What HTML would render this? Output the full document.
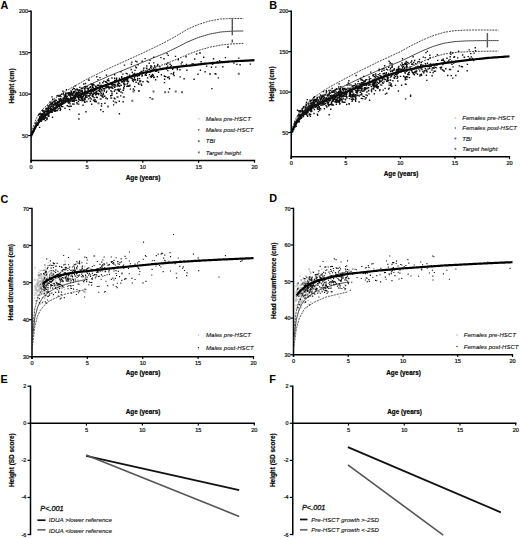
<!DOCTYPE html><html><head><meta charset="utf-8"><style>html,body{margin:0;padding:0;background:#fff;overflow:hidden}svg{display:block}</style></head><body><svg width="520" height="539" viewBox="0 0 520 539" style="font-family:&quot;Liberation Sans&quot;,sans-serif">
<rect width="520" height="539" fill="#fff"/>
<path d="M31.10 132.20 L31.16 132.03 L31.29 131.70 L31.47 131.24 L31.68 130.68 L31.93 130.03 L32.21 129.29 L32.52 128.48 L32.86 127.59 L33.22 126.64 L33.61 125.62 L34.03 124.53 L34.46 123.39 L34.92 122.18 L35.41 120.92 L35.91 119.60 L36.43 118.23 L36.97 117.16 L37.54 116.35 L38.12 115.52 L38.72 114.66 L39.34 113.78 L39.97 112.87 L40.63 111.94 L41.30 110.98 L41.99 109.99 L42.69 109.19 L43.41 108.50 L44.15 107.80 L44.91 107.08 L45.68 106.35 L46.46 105.60 L47.26 104.84 L48.08 104.08 L48.91 103.35 L49.75 102.61 L50.61 101.86 L51.49 101.10 L52.37 100.32 L53.28 99.54 L54.19 98.88 L55.13 98.24 L56.07 97.60 L57.03 96.94 L58.00 96.28 L58.98 95.61 L59.98 94.92 L60.99 94.23 L62.02 93.53 L63.05 92.82 L64.10 92.10 L65.17 91.44 L66.24 90.84 L67.33 90.22 L68.43 89.60 L69.54 88.97 L70.67 88.33 L71.80 87.69 L72.95 87.04 L74.11 86.38 L75.28 85.72 L76.47 85.05 L77.66 84.37 L78.87 83.69 L80.09 83.00 L81.32 82.30 L82.56 81.59 L83.82 80.88 L85.08 80.16 L86.36 79.44 L87.64 78.77 L88.94 78.13 L90.25 77.49 L91.57 76.85 L92.90 76.20 L94.24 75.54 L95.59 74.88 L96.96 74.21 L98.33 73.54 L99.71 72.86 L101.11 72.18 L102.52 71.49 L103.93 70.80 L105.36 70.10 L106.79 69.40 L108.24 68.69 L109.70 67.99 L111.17 67.33 L112.64 66.66 L114.13 65.99 L115.63 65.32 L117.14 64.64 L118.65 63.95 L120.18 63.26 L121.72 62.57 L123.27 61.87 L124.82 61.17 L126.39 60.46 L127.97 59.74 L129.55 59.03 L131.15 58.31 L132.76 57.58 L134.37 56.85 L135.99 56.11 L137.63 55.37 L139.27 54.63 L140.93 53.88 L142.59 53.12 L144.26 52.32 L145.94 51.51 L147.63 50.70 L149.33 49.88 L151.04 49.05 L152.76 48.22 L154.49 47.38 L156.22 46.54 L157.97 45.69 L159.72 44.84 L161.48 43.98 L163.26 43.11 L165.04 42.24 L166.83 41.25 L168.63 40.25 L170.44 39.24 L172.25 38.22 L174.08 37.20 L175.91 36.17 L177.76 35.08 L179.61 33.96 L181.47 32.84 L183.34 31.71 L185.22 30.58 L187.10 29.44 L189.00 28.55 L190.90 27.73 L192.81 26.90 L194.74 26.06 L196.66 25.23 L198.60 24.39 L200.55 23.77 L202.50 23.17 L204.47 22.55 L206.44 21.94 L208.42 21.32 L210.41 20.79 L212.40 20.44 L214.41 20.10 L216.42 19.75 L218.44 19.40 L220.47 19.05 L222.51 18.89 L224.55 18.78 L226.61 18.68 L228.67 18.58 L230.74 18.47 L232.82 18.41 L234.90 18.44 L237.00 18.47 L239.10 18.50 L241.21 18.53 L243.33 18.56" fill="none" stroke="#333" stroke-width="0.95" stroke-dasharray="1.9 1.0" stroke-linejoin="round"/>
<path d="M31.10 135.13 L31.16 134.97 L31.29 134.66 L31.47 134.23 L31.68 133.71 L31.93 133.10 L32.21 132.41 L32.52 131.65 L32.86 130.82 L33.22 129.93 L33.61 128.98 L34.03 127.96 L34.46 126.89 L34.92 125.77 L35.41 124.59 L35.91 123.36 L36.43 122.08 L36.97 121.07 L37.54 120.32 L38.12 119.54 L38.72 118.74 L39.34 117.91 L39.97 117.06 L40.63 116.19 L41.30 115.29 L41.99 114.38 L42.69 113.62 L43.41 112.98 L44.15 112.32 L44.91 111.65 L45.68 110.97 L46.46 110.27 L47.26 109.56 L48.08 108.85 L48.91 108.17 L49.75 107.48 L50.61 106.78 L51.49 106.06 L52.37 105.34 L53.28 104.60 L54.19 103.99 L55.13 103.41 L56.07 102.81 L57.03 102.21 L58.00 101.59 L58.98 100.97 L59.98 100.34 L60.99 99.71 L62.02 99.06 L63.05 98.41 L64.10 97.74 L65.17 97.14 L66.24 96.58 L67.33 96.01 L68.43 95.44 L69.54 94.87 L70.67 94.28 L71.80 93.69 L72.95 93.09 L74.11 92.49 L75.28 91.88 L76.47 91.27 L77.66 90.65 L78.87 90.02 L80.09 89.39 L81.32 88.75 L82.56 88.10 L83.82 87.45 L85.08 86.80 L86.36 86.13 L87.64 85.52 L88.94 84.94 L90.25 84.36 L91.57 83.77 L92.90 83.18 L94.24 82.58 L95.59 81.98 L96.96 81.37 L98.33 80.76 L99.71 80.14 L101.11 79.52 L102.52 78.90 L103.93 78.27 L105.36 77.63 L106.79 76.99 L108.24 76.35 L109.70 75.72 L111.17 75.12 L112.64 74.51 L114.13 73.91 L115.63 73.30 L117.14 72.68 L118.65 72.06 L120.18 71.44 L121.72 70.81 L123.27 70.18 L124.82 69.54 L126.39 68.90 L127.97 68.26 L129.55 67.61 L131.15 66.96 L132.76 66.31 L134.37 65.65 L135.99 64.99 L137.63 64.32 L139.27 63.65 L140.93 62.97 L142.59 62.30 L144.26 61.61 L145.94 60.93 L147.63 60.24 L149.33 59.54 L151.04 58.85 L152.76 58.15 L154.49 57.44 L156.22 56.73 L157.97 56.02 L159.72 55.31 L161.48 54.59 L163.26 53.86 L165.04 53.14 L166.83 52.28 L168.63 51.41 L170.44 50.54 L172.25 49.67 L174.08 48.78 L175.91 47.90 L177.76 46.96 L179.61 46.00 L181.47 45.03 L183.34 44.06 L185.22 43.08 L187.10 42.10 L189.00 41.29 L190.90 40.51 L192.81 39.73 L194.74 38.95 L196.66 38.16 L198.60 37.37 L200.55 36.79 L202.50 36.21 L204.47 35.63 L206.44 35.04 L208.42 34.45 L210.41 33.93 L212.40 33.56 L214.41 33.19 L216.42 32.81 L218.44 32.44 L220.47 32.06 L222.51 31.85 L224.55 31.70 L226.61 31.55 L228.67 31.40 L230.74 31.24 L232.82 31.13 L234.90 31.10 L237.00 31.06 L239.10 31.03 L241.21 31.00 L243.33 30.97" fill="none" stroke="#444" stroke-width="1.00" stroke-linejoin="round"/>
<path d="M31.10 138.06 L31.16 137.91 L31.29 137.62 L31.47 137.22 L31.68 136.74 L31.93 136.17 L32.21 135.53 L32.52 134.82 L32.86 134.05 L33.22 133.22 L33.61 132.34 L34.03 131.39 L34.46 130.40 L34.92 129.35 L35.41 128.25 L35.91 127.11 L36.43 125.92 L36.97 124.98 L37.54 124.28 L38.12 123.56 L38.72 122.82 L39.34 122.05 L39.97 121.26 L40.63 120.45 L41.30 119.61 L41.99 118.76 L42.69 118.06 L43.41 117.46 L44.15 116.85 L44.91 116.22 L45.68 115.59 L46.46 114.94 L47.26 114.27 L48.08 113.61 L48.91 112.98 L49.75 112.34 L50.61 111.69 L51.49 111.03 L52.37 110.35 L53.28 109.67 L54.19 109.11 L55.13 108.57 L56.07 108.02 L57.03 107.47 L58.00 106.91 L58.98 106.34 L59.98 105.76 L60.99 105.18 L62.02 104.59 L63.05 103.99 L64.10 103.39 L65.17 102.83 L66.24 102.32 L67.33 101.81 L68.43 101.29 L69.54 100.76 L70.67 100.23 L71.80 99.69 L72.95 99.15 L74.11 98.60 L75.28 98.05 L76.47 97.49 L77.66 96.92 L78.87 96.35 L80.09 95.78 L81.32 95.20 L82.56 94.61 L83.82 94.02 L85.08 93.43 L86.36 92.83 L87.64 92.27 L88.94 91.75 L90.25 91.22 L91.57 90.69 L92.90 90.16 L94.24 89.62 L95.59 89.08 L96.96 88.53 L98.33 87.98 L99.71 87.42 L101.11 86.86 L102.52 86.30 L103.93 85.73 L105.36 85.16 L106.79 84.59 L108.24 84.01 L109.70 83.44 L111.17 82.90 L112.64 82.36 L114.13 81.82 L115.63 81.27 L117.14 80.72 L118.65 80.17 L120.18 79.61 L121.72 79.05 L123.27 78.49 L124.82 77.92 L126.39 77.35 L127.97 76.78 L129.55 76.20 L131.15 75.62 L132.76 75.04 L134.37 74.45 L135.99 73.86 L137.63 73.27 L139.27 72.67 L140.93 72.07 L142.59 71.47 L144.26 70.90 L145.94 70.34 L147.63 69.78 L149.33 69.21 L151.04 68.65 L152.76 68.08 L154.49 67.50 L156.22 66.93 L157.97 66.35 L159.72 65.78 L161.48 65.20 L163.26 64.61 L165.04 64.03 L166.83 63.31 L168.63 62.58 L170.44 61.85 L172.25 61.11 L174.08 60.37 L175.91 59.63 L177.76 58.84 L179.61 58.03 L181.47 57.22 L183.34 56.41 L185.22 55.59 L187.10 54.77 L189.00 54.02 L190.90 53.30 L192.81 52.57 L194.74 51.83 L196.66 51.10 L198.60 50.35 L200.55 49.80 L202.50 49.25 L204.47 48.70 L206.44 48.14 L208.42 47.58 L210.41 47.07 L212.40 46.67 L214.41 46.28 L216.42 45.88 L218.44 45.47 L220.47 45.07 L222.51 44.82 L224.55 44.62 L226.61 44.42 L228.67 44.22 L230.74 44.01 L232.82 43.84 L234.90 43.75 L237.00 43.66 L239.10 43.57 L241.21 43.47 L243.33 43.38" fill="none" stroke="#333" stroke-width="0.95" stroke-dasharray="1.9 1.0" stroke-linejoin="round"/>
<path d="M291.25 130.14 L291.31 129.99 L291.44 129.68 L291.61 129.26 L291.82 128.75 L292.06 128.15 L292.33 127.47 L292.64 126.72 L292.97 125.90 L293.32 125.02 L293.71 124.08 L294.11 123.08 L294.54 122.03 L294.99 120.92 L295.46 119.76 L295.95 118.54 L296.46 117.28 L296.99 116.24 L297.54 115.40 L298.11 114.54 L298.69 113.65 L299.30 112.73 L299.92 111.78 L300.56 110.81 L301.21 109.81 L301.89 108.78 L302.58 107.96 L303.28 107.28 L304.00 106.58 L304.74 105.87 L305.49 105.14 L306.26 104.40 L307.04 103.64 L307.83 102.89 L308.65 102.16 L309.47 101.43 L310.31 100.68 L311.17 99.92 L312.03 99.14 L312.92 98.36 L313.81 97.68 L314.72 97.02 L315.64 96.35 L316.58 95.67 L317.53 94.98 L318.49 94.28 L319.47 93.57 L320.45 92.85 L321.45 92.13 L322.47 91.39 L323.49 90.64 L324.53 89.97 L325.58 89.38 L326.64 88.77 L327.72 88.16 L328.80 87.54 L329.90 86.92 L331.01 86.29 L332.14 85.65 L333.27 85.00 L334.41 84.35 L335.57 83.72 L336.74 83.10 L337.92 82.47 L339.11 81.84 L340.31 81.20 L341.53 80.56 L342.75 79.91 L343.99 79.25 L345.23 78.59 L346.49 77.92 L347.76 77.25 L349.04 76.57 L350.32 75.88 L351.62 75.19 L352.94 74.49 L354.26 73.79 L355.59 73.08 L356.93 72.37 L358.28 71.71 L359.65 71.04 L361.02 70.36 L362.40 69.68 L363.80 68.99 L365.20 68.30 L366.61 67.60 L368.04 66.90 L369.47 66.19 L370.91 65.47 L372.37 64.76 L373.83 64.03 L375.30 63.30 L376.79 62.57 L378.28 61.83 L379.78 61.14 L381.29 60.45 L382.81 59.76 L384.34 59.06 L385.88 58.36 L387.43 57.65 L388.99 56.94 L390.56 56.21 L392.14 55.47 L393.73 54.73 L395.32 53.99 L396.93 53.23 L398.54 52.48 L400.17 51.72 L401.80 50.84 L403.44 49.93 L405.10 49.02 L406.76 48.11 L408.42 47.19 L410.10 46.27 L411.79 45.36 L413.49 44.52 L415.19 43.67 L416.91 42.82 L418.63 41.96 L420.36 41.10 L422.10 40.24 L423.85 39.50 L425.61 38.77 L427.37 38.04 L429.15 37.31 L430.93 36.57 L432.72 35.83 L434.53 35.23 L436.33 34.67 L438.15 34.11 L439.98 33.54 L441.81 32.97 L443.66 32.40 L445.51 32.07 L447.37 31.79 L449.24 31.51 L451.11 31.23 L453.00 30.95 L454.89 30.67 L456.79 30.57 L458.70 30.47 L460.62 30.37 L462.55 30.27 L464.48 30.17 L466.42 30.09 L468.37 30.07 L470.33 30.04 L472.30 30.02 L474.27 30.00 L476.26 29.97 L478.25 29.97 L480.24 29.98 L482.25 29.99 L484.27 30.00 L486.29 30.01 L488.32 30.02 L490.36 30.05 L492.40 30.07 L494.46 30.10 L496.52 30.12 L498.59 30.15" fill="none" stroke="#333" stroke-width="0.95" stroke-dasharray="1.9 1.0" stroke-linejoin="round"/>
<path d="M291.25 132.95 L291.31 132.80 L291.44 132.52 L291.61 132.12 L291.82 131.64 L292.06 131.09 L292.33 130.46 L292.64 129.76 L292.97 129.00 L293.32 128.18 L293.71 127.31 L294.11 126.38 L294.54 125.40 L294.99 124.36 L295.46 123.28 L295.95 122.16 L296.46 120.98 L296.99 120.02 L297.54 119.24 L298.11 118.44 L298.69 117.62 L299.30 116.76 L299.92 115.89 L300.56 114.99 L301.21 114.07 L301.89 113.12 L302.58 112.36 L303.28 111.74 L304.00 111.10 L304.74 110.44 L305.49 109.77 L306.26 109.09 L307.04 108.40 L307.83 107.70 L308.65 107.04 L309.47 106.37 L310.31 105.68 L311.17 104.99 L312.03 104.28 L312.92 103.56 L313.81 102.94 L314.72 102.33 L315.64 101.72 L316.58 101.09 L317.53 100.46 L318.49 99.82 L319.47 99.17 L320.45 98.51 L321.45 97.84 L322.47 97.17 L323.49 96.48 L324.53 95.87 L325.58 95.33 L326.64 94.78 L327.72 94.22 L328.80 93.66 L329.90 93.09 L331.01 92.51 L332.14 91.93 L333.27 91.34 L334.41 90.75 L335.57 90.17 L336.74 89.61 L337.92 89.04 L339.11 88.47 L340.31 87.89 L341.53 87.30 L342.75 86.71 L343.99 86.12 L345.23 85.52 L346.49 84.91 L347.76 84.30 L349.04 83.69 L350.32 83.06 L351.62 82.44 L352.94 81.81 L354.26 81.17 L355.59 80.53 L356.93 79.89 L358.28 79.29 L359.65 78.68 L361.02 78.07 L362.40 77.46 L363.80 76.84 L365.20 76.21 L366.61 75.59 L368.04 74.95 L369.47 74.32 L370.91 73.67 L372.37 73.03 L373.83 72.38 L375.30 71.72 L376.79 71.06 L378.28 70.40 L379.78 69.78 L381.29 69.16 L382.81 68.54 L384.34 67.92 L385.88 67.29 L387.43 66.66 L388.99 66.02 L390.56 65.38 L392.14 64.74 L393.73 64.09 L395.32 63.44 L396.93 62.79 L398.54 62.13 L400.17 61.47 L401.80 60.70 L403.44 59.91 L405.10 59.11 L406.76 58.31 L408.42 57.51 L410.10 56.70 L411.79 55.89 L413.49 55.07 L415.19 54.25 L416.91 53.42 L418.63 52.59 L420.36 51.76 L422.10 50.92 L423.85 50.20 L425.61 49.48 L427.37 48.76 L429.15 48.04 L430.93 47.31 L432.72 46.58 L434.53 46.01 L436.33 45.47 L438.15 44.93 L439.98 44.39 L441.81 43.85 L443.66 43.30 L445.51 42.97 L447.37 42.69 L449.24 42.42 L451.11 42.14 L453.00 41.86 L454.89 41.58 L456.79 41.46 L458.70 41.35 L460.62 41.24 L462.55 41.12 L464.48 41.01 L466.42 40.91 L468.37 40.87 L470.33 40.83 L472.30 40.78 L474.27 40.74 L476.26 40.69 L478.25 40.67 L480.24 40.66 L482.25 40.64 L484.27 40.63 L486.29 40.61 L488.32 40.60 L490.36 40.60 L492.40 40.60 L494.46 40.60 L496.52 40.60 L498.59 40.60" fill="none" stroke="#444" stroke-width="1.00" stroke-linejoin="round"/>
<path d="M291.25 135.75 L291.31 135.62 L291.44 135.35 L291.61 134.99 L291.82 134.54 L292.06 134.03 L292.33 133.44 L292.64 132.80 L292.97 132.09 L293.32 131.34 L293.71 130.53 L294.11 129.67 L294.54 128.76 L294.99 127.81 L295.46 126.81 L295.95 125.77 L296.46 124.68 L296.99 123.79 L297.54 123.08 L298.11 122.34 L298.69 121.59 L299.30 120.80 L299.92 120.00 L300.56 119.17 L301.21 118.32 L301.89 117.46 L302.58 116.76 L303.28 116.19 L304.00 115.61 L304.74 115.01 L305.49 114.40 L306.26 113.78 L307.04 113.15 L307.83 112.52 L308.65 111.92 L309.47 111.31 L310.31 110.69 L311.17 110.06 L312.03 109.42 L312.92 108.76 L313.81 108.20 L314.72 107.65 L315.64 107.09 L316.58 106.52 L317.53 105.94 L318.49 105.36 L319.47 104.77 L320.45 104.17 L321.45 103.56 L322.47 102.95 L323.49 102.32 L324.53 101.77 L325.58 101.28 L326.64 100.78 L327.72 100.28 L328.80 99.77 L329.90 99.25 L331.01 98.73 L332.14 98.21 L333.27 97.68 L334.41 97.14 L335.57 96.62 L336.74 96.12 L337.92 95.61 L339.11 95.09 L340.31 94.57 L341.53 94.05 L342.75 93.52 L343.99 92.98 L345.23 92.45 L346.49 91.90 L347.76 91.35 L349.04 90.80 L350.32 90.25 L351.62 89.69 L352.94 89.12 L354.26 88.55 L355.59 87.98 L356.93 87.41 L358.28 86.87 L359.65 86.33 L361.02 85.79 L362.40 85.24 L363.80 84.69 L365.20 84.13 L366.61 83.57 L368.04 83.01 L369.47 82.44 L370.91 81.87 L372.37 81.30 L373.83 80.72 L375.30 80.14 L376.79 79.56 L378.28 78.97 L379.78 78.42 L381.29 77.87 L382.81 77.33 L384.34 76.78 L385.88 76.22 L387.43 75.67 L388.99 75.11 L390.56 74.56 L392.14 74.01 L393.73 73.45 L395.32 72.90 L396.93 72.34 L398.54 71.78 L400.17 71.22 L401.80 70.56 L403.44 69.88 L405.10 69.20 L406.76 68.51 L408.42 67.82 L410.10 67.13 L411.79 66.41 L413.49 65.62 L415.19 64.83 L416.91 64.03 L418.63 63.22 L420.36 62.42 L422.10 61.60 L423.85 60.90 L425.61 60.19 L427.37 59.48 L429.15 58.77 L430.93 58.06 L432.72 57.34 L434.53 56.78 L436.33 56.27 L438.15 55.76 L439.98 55.24 L441.81 54.72 L443.66 54.20 L445.51 53.87 L447.37 53.60 L449.24 53.32 L451.11 53.04 L453.00 52.77 L454.89 52.49 L456.79 52.36 L458.70 52.23 L460.62 52.10 L462.55 51.97 L464.48 51.84 L466.42 51.74 L468.37 51.67 L470.33 51.61 L472.30 51.54 L474.27 51.48 L476.26 51.42 L478.25 51.37 L480.24 51.33 L482.25 51.29 L484.27 51.26 L486.29 51.22 L488.32 51.18 L490.36 51.16 L492.40 51.13 L494.46 51.11 L496.52 51.08 L498.59 51.06" fill="none" stroke="#333" stroke-width="0.95" stroke-dasharray="1.9 1.0" stroke-linejoin="round"/>
<path d="M31.10 10.55 V162.60" stroke="#000" stroke-width="1.5" fill="none"/>
<path d="M30.40 160.40 H255.20" stroke="#000" stroke-width="1.5" fill="none"/>
<path d="M28.10 135.54 H31.10" stroke="#000" stroke-width="1.2"/>
<text x="28.10" y="137.64" text-anchor="end" font-size="5.4" fill="#111" stroke="#111" stroke-width="0.22">50</text>
<path d="M28.10 94.11 H31.10" stroke="#000" stroke-width="1.2"/>
<text x="28.10" y="96.21" text-anchor="end" font-size="5.4" fill="#111" stroke="#111" stroke-width="0.22">100</text>
<path d="M28.10 52.68 H31.10" stroke="#000" stroke-width="1.2"/>
<text x="28.10" y="54.78" text-anchor="end" font-size="5.4" fill="#111" stroke="#111" stroke-width="0.22">150</text>
<path d="M28.10 11.25 H31.10" stroke="#000" stroke-width="1.2"/>
<text x="28.10" y="13.35" text-anchor="end" font-size="5.4" fill="#111" stroke="#111" stroke-width="0.22">200</text>
<path d="M31.10 160.40 V162.70" stroke="#000" stroke-width="1.2"/>
<text x="31.10" y="168.70" text-anchor="middle" font-size="5.6" fill="#111" stroke="#111" stroke-width="0.22">0</text>
<path d="M86.95 160.40 V162.70" stroke="#000" stroke-width="1.2"/>
<text x="86.95" y="168.70" text-anchor="middle" font-size="5.6" fill="#111" stroke="#111" stroke-width="0.22">5</text>
<path d="M142.80 160.40 V162.70" stroke="#000" stroke-width="1.2"/>
<text x="142.80" y="168.70" text-anchor="middle" font-size="5.6" fill="#111" stroke="#111" stroke-width="0.22">10</text>
<path d="M198.65 160.40 V162.70" stroke="#000" stroke-width="1.2"/>
<text x="198.65" y="168.70" text-anchor="middle" font-size="5.6" fill="#111" stroke="#111" stroke-width="0.22">15</text>
<path d="M254.50 160.40 V162.70" stroke="#000" stroke-width="1.2"/>
<text x="254.50" y="168.70" text-anchor="middle" font-size="5.6" fill="#111" stroke="#111" stroke-width="0.22">20</text>
<text transform="translate(13.80 86.00) rotate(-90)" text-anchor="middle" font-size="6.4" font-weight="bold" stroke="#000" stroke-width="0.18">Height (cm)</text>
<text x="143.00" y="180.10" text-anchor="middle" font-size="6.35" font-weight="bold" stroke="#000" stroke-width="0.18">Age (years)</text>
<text x="0.60" y="9.30" font-size="10.8" font-weight="bold">A</text>
<path d="M291.25 10.55 V159.00" stroke="#000" stroke-width="1.5" fill="none"/>
<path d="M290.55 156.80 H510.20" stroke="#000" stroke-width="1.5" fill="none"/>
<path d="M288.25 132.54 H291.25" stroke="#000" stroke-width="1.2"/>
<text x="288.25" y="134.64" text-anchor="end" font-size="5.4" fill="#111" stroke="#111" stroke-width="0.22">50</text>
<path d="M288.25 92.11 H291.25" stroke="#000" stroke-width="1.2"/>
<text x="288.25" y="94.21" text-anchor="end" font-size="5.4" fill="#111" stroke="#111" stroke-width="0.22">100</text>
<path d="M288.25 51.68 H291.25" stroke="#000" stroke-width="1.2"/>
<text x="288.25" y="53.78" text-anchor="end" font-size="5.4" fill="#111" stroke="#111" stroke-width="0.22">150</text>
<path d="M288.25 11.25 H291.25" stroke="#000" stroke-width="1.2"/>
<text x="288.25" y="13.35" text-anchor="end" font-size="5.4" fill="#111" stroke="#111" stroke-width="0.22">200</text>
<path d="M291.25 156.80 V159.10" stroke="#000" stroke-width="1.2"/>
<text x="291.25" y="165.10" text-anchor="middle" font-size="5.6" fill="#111" stroke="#111" stroke-width="0.22">0</text>
<path d="M345.81 156.80 V159.10" stroke="#000" stroke-width="1.2"/>
<text x="345.81" y="165.10" text-anchor="middle" font-size="5.6" fill="#111" stroke="#111" stroke-width="0.22">5</text>
<path d="M400.38 156.80 V159.10" stroke="#000" stroke-width="1.2"/>
<text x="400.38" y="165.10" text-anchor="middle" font-size="5.6" fill="#111" stroke="#111" stroke-width="0.22">10</text>
<path d="M454.94 156.80 V159.10" stroke="#000" stroke-width="1.2"/>
<text x="454.94" y="165.10" text-anchor="middle" font-size="5.6" fill="#111" stroke="#111" stroke-width="0.22">15</text>
<path d="M509.50 156.80 V159.10" stroke="#000" stroke-width="1.2"/>
<text x="509.50" y="165.10" text-anchor="middle" font-size="5.6" fill="#111" stroke="#111" stroke-width="0.22">20</text>
<text transform="translate(273.95 84.00) rotate(-90)" text-anchor="middle" font-size="6.4" font-weight="bold" stroke="#000" stroke-width="0.18">Height (cm)</text>
<text x="401.00" y="175.80" text-anchor="middle" font-size="6.35" font-weight="bold" stroke="#000" stroke-width="0.18">Age (years)</text>
<text x="269.20" y="9.00" font-size="10.8" font-weight="bold">B</text>
<path d="M32.00 207.70 V359.00" stroke="#000" stroke-width="1.5" fill="none"/>
<path d="M31.30 356.80 H254.20" stroke="#000" stroke-width="1.5" fill="none"/>
<path d="M29.00 356.80 H32.00" stroke="#000" stroke-width="1.2"/>
<text x="29.00" y="359.10" text-anchor="end" font-size="5.4" fill="#111" stroke="#111" stroke-width="0.22">30</text>
<path d="M29.00 319.70 H32.00" stroke="#000" stroke-width="1.2"/>
<text x="29.00" y="322.00" text-anchor="end" font-size="5.4" fill="#111" stroke="#111" stroke-width="0.22">40</text>
<path d="M29.00 282.60 H32.00" stroke="#000" stroke-width="1.2"/>
<text x="29.00" y="284.90" text-anchor="end" font-size="5.4" fill="#111" stroke="#111" stroke-width="0.22">50</text>
<path d="M29.00 245.50 H32.00" stroke="#000" stroke-width="1.2"/>
<text x="29.00" y="247.80" text-anchor="end" font-size="5.4" fill="#111" stroke="#111" stroke-width="0.22">60</text>
<path d="M29.00 208.40 H32.00" stroke="#000" stroke-width="1.2"/>
<text x="29.00" y="210.70" text-anchor="end" font-size="5.4" fill="#111" stroke="#111" stroke-width="0.22">70</text>
<path d="M32.00 356.80 V359.10" stroke="#000" stroke-width="1.2"/>
<text x="32.00" y="365.10" text-anchor="middle" font-size="5.6" fill="#111" stroke="#111" stroke-width="0.22">0</text>
<path d="M87.38 356.80 V359.10" stroke="#000" stroke-width="1.2"/>
<text x="87.38" y="365.10" text-anchor="middle" font-size="5.6" fill="#111" stroke="#111" stroke-width="0.22">5</text>
<path d="M142.75 356.80 V359.10" stroke="#000" stroke-width="1.2"/>
<text x="142.75" y="365.10" text-anchor="middle" font-size="5.6" fill="#111" stroke="#111" stroke-width="0.22">10</text>
<path d="M198.12 356.80 V359.10" stroke="#000" stroke-width="1.2"/>
<text x="198.12" y="365.10" text-anchor="middle" font-size="5.6" fill="#111" stroke="#111" stroke-width="0.22">15</text>
<path d="M253.50 356.80 V359.10" stroke="#000" stroke-width="1.2"/>
<text x="253.50" y="365.10" text-anchor="middle" font-size="5.6" fill="#111" stroke="#111" stroke-width="0.22">20</text>
<text transform="translate(12.90 282.20) rotate(-90)" text-anchor="middle" font-size="6.4" font-weight="bold" stroke="#000" stroke-width="0.18">Head circumference (cm)</text>
<text x="143.00" y="374.50" text-anchor="middle" font-size="6.35" font-weight="bold" stroke="#000" stroke-width="0.18">Age (years)</text>
<text x="0.60" y="202.60" font-size="10.8" font-weight="bold">C</text>
<path d="M293.50 207.70 V356.90" stroke="#000" stroke-width="1.5" fill="none"/>
<path d="M292.80 354.70 H513.20" stroke="#000" stroke-width="1.5" fill="none"/>
<path d="M290.50 354.70 H293.50" stroke="#000" stroke-width="1.2"/>
<text x="290.50" y="357.00" text-anchor="end" font-size="5.4" fill="#111" stroke="#111" stroke-width="0.22">30</text>
<path d="M290.50 318.12 H293.50" stroke="#000" stroke-width="1.2"/>
<text x="290.50" y="320.43" text-anchor="end" font-size="5.4" fill="#111" stroke="#111" stroke-width="0.22">40</text>
<path d="M290.50 281.55 H293.50" stroke="#000" stroke-width="1.2"/>
<text x="290.50" y="283.85" text-anchor="end" font-size="5.4" fill="#111" stroke="#111" stroke-width="0.22">50</text>
<path d="M290.50 244.98 H293.50" stroke="#000" stroke-width="1.2"/>
<text x="290.50" y="247.28" text-anchor="end" font-size="5.4" fill="#111" stroke="#111" stroke-width="0.22">60</text>
<path d="M290.50 208.40 H293.50" stroke="#000" stroke-width="1.2"/>
<text x="290.50" y="210.70" text-anchor="end" font-size="5.4" fill="#111" stroke="#111" stroke-width="0.22">70</text>
<path d="M293.50 354.70 V357.00" stroke="#000" stroke-width="1.2"/>
<text x="293.50" y="363.00" text-anchor="middle" font-size="5.6" fill="#111" stroke="#111" stroke-width="0.22">0</text>
<path d="M348.25 354.70 V357.00" stroke="#000" stroke-width="1.2"/>
<text x="348.25" y="363.00" text-anchor="middle" font-size="5.6" fill="#111" stroke="#111" stroke-width="0.22">5</text>
<path d="M403.00 354.70 V357.00" stroke="#000" stroke-width="1.2"/>
<text x="403.00" y="363.00" text-anchor="middle" font-size="5.6" fill="#111" stroke="#111" stroke-width="0.22">10</text>
<path d="M457.75 354.70 V357.00" stroke="#000" stroke-width="1.2"/>
<text x="457.75" y="363.00" text-anchor="middle" font-size="5.6" fill="#111" stroke="#111" stroke-width="0.22">15</text>
<path d="M512.50 354.70 V357.00" stroke="#000" stroke-width="1.2"/>
<text x="512.50" y="363.00" text-anchor="middle" font-size="5.6" fill="#111" stroke="#111" stroke-width="0.22">20</text>
<text transform="translate(276.20 280.70) rotate(-90)" text-anchor="middle" font-size="6.4" font-weight="bold" stroke="#000" stroke-width="0.18">Head circumference (cm)</text>
<text x="403.50" y="374.50" text-anchor="middle" font-size="6.35" font-weight="bold" stroke="#000" stroke-width="0.18">Age (years)</text>
<text x="269.20" y="202.00" font-size="10.8" font-weight="bold">D</text>
<path d="M30.50 385.50 V535.20" stroke="#000" stroke-width="1.5" fill="none"/>
<path d="M29.80 423.27 H254.95" stroke="#000" stroke-width="1.5" fill="none"/>
<path d="M27.50 386.20 H30.50" stroke="#000" stroke-width="1.2"/>
<text x="26.20" y="388.20" text-anchor="end" font-size="5.4" fill="#111" stroke="#111" stroke-width="0.22">2</text>
<path d="M27.50 423.27 H30.50" stroke="#000" stroke-width="1.2"/>
<text x="26.20" y="425.27" text-anchor="end" font-size="5.4" fill="#111" stroke="#111" stroke-width="0.22">0</text>
<path d="M27.50 460.35 H30.50" stroke="#000" stroke-width="1.2"/>
<text x="26.20" y="462.35" text-anchor="end" font-size="5.4" fill="#111" stroke="#111" stroke-width="0.22">-2</text>
<path d="M27.50 497.43 H30.50" stroke="#000" stroke-width="1.2"/>
<text x="26.20" y="499.43" text-anchor="end" font-size="5.4" fill="#111" stroke="#111" stroke-width="0.22">-4</text>
<path d="M27.50 534.50 H30.50" stroke="#000" stroke-width="1.2"/>
<text x="26.20" y="536.50" text-anchor="end" font-size="5.4" fill="#111" stroke="#111" stroke-width="0.22">-6</text>
<path d="M86.44 423.27 V425.57" stroke="#000" stroke-width="1.2"/>
<text x="86.44" y="431.57" text-anchor="middle" font-size="5.6" fill="#111" stroke="#111" stroke-width="0.22">5</text>
<path d="M142.38 423.27 V425.57" stroke="#000" stroke-width="1.2"/>
<text x="142.38" y="431.57" text-anchor="middle" font-size="5.6" fill="#111" stroke="#111" stroke-width="0.22">10</text>
<path d="M198.31 423.27 V425.57" stroke="#000" stroke-width="1.2"/>
<text x="198.31" y="431.57" text-anchor="middle" font-size="5.6" fill="#111" stroke="#111" stroke-width="0.22">15</text>
<path d="M254.25 423.27 V425.57" stroke="#000" stroke-width="1.2"/>
<text x="254.25" y="431.57" text-anchor="middle" font-size="5.6" fill="#111" stroke="#111" stroke-width="0.22">20</text>
<text transform="translate(13.80 460.20) rotate(-90)" text-anchor="middle" font-size="6.4" font-weight="bold" stroke="#000" stroke-width="0.18">Height (SD score)</text>
<text x="143.00" y="414.00" text-anchor="middle" font-size="6.35" font-weight="bold" stroke="#000" stroke-width="0.18">Age (years)</text>
<text x="0.60" y="382.80" font-size="10.8" font-weight="bold">E</text>
<path d="M292.75 385.50 V535.20" stroke="#000" stroke-width="1.5" fill="none"/>
<path d="M292.05 423.27 H516.45" stroke="#000" stroke-width="1.5" fill="none"/>
<path d="M289.75 386.20 H292.75" stroke="#000" stroke-width="1.2"/>
<text x="288.45" y="388.20" text-anchor="end" font-size="5.4" fill="#111" stroke="#111" stroke-width="0.22">2</text>
<path d="M289.75 423.27 H292.75" stroke="#000" stroke-width="1.2"/>
<text x="288.45" y="425.27" text-anchor="end" font-size="5.4" fill="#111" stroke="#111" stroke-width="0.22">0</text>
<path d="M289.75 460.35 H292.75" stroke="#000" stroke-width="1.2"/>
<text x="288.45" y="462.35" text-anchor="end" font-size="5.4" fill="#111" stroke="#111" stroke-width="0.22">-2</text>
<path d="M289.75 497.43 H292.75" stroke="#000" stroke-width="1.2"/>
<text x="288.45" y="499.43" text-anchor="end" font-size="5.4" fill="#111" stroke="#111" stroke-width="0.22">-4</text>
<path d="M289.75 534.50 H292.75" stroke="#000" stroke-width="1.2"/>
<text x="288.45" y="536.50" text-anchor="end" font-size="5.4" fill="#111" stroke="#111" stroke-width="0.22">-6</text>
<path d="M348.50 423.27 V425.57" stroke="#000" stroke-width="1.2"/>
<text x="348.50" y="431.57" text-anchor="middle" font-size="5.6" fill="#111" stroke="#111" stroke-width="0.22">5</text>
<path d="M404.25 423.27 V425.57" stroke="#000" stroke-width="1.2"/>
<text x="404.25" y="431.57" text-anchor="middle" font-size="5.6" fill="#111" stroke="#111" stroke-width="0.22">10</text>
<path d="M460.00 423.27 V425.57" stroke="#000" stroke-width="1.2"/>
<text x="460.00" y="431.57" text-anchor="middle" font-size="5.6" fill="#111" stroke="#111" stroke-width="0.22">15</text>
<path d="M515.75 423.27 V425.57" stroke="#000" stroke-width="1.2"/>
<text x="515.75" y="431.57" text-anchor="middle" font-size="5.6" fill="#111" stroke="#111" stroke-width="0.22">20</text>
<text transform="translate(275.45 460.20) rotate(-90)" text-anchor="middle" font-size="6.4" font-weight="bold" stroke="#000" stroke-width="0.18">Height (SD score)</text>
<text x="404.50" y="414.00" text-anchor="middle" font-size="6.35" font-weight="bold" stroke="#000" stroke-width="0.18">Age (years)</text>
<text x="269.20" y="382.80" font-size="10.8" font-weight="bold">F</text>
<path d="M31.10 135.54 L31.17 135.41 L31.30 135.15 L31.49 134.80 L31.71 134.36 L31.97 133.86 L32.27 133.29 L32.60 132.66 L32.95 131.97 L33.34 131.23 L33.75 130.44 L34.18 129.60 L34.64 128.71 L35.13 127.78 L35.63 126.80 L36.16 125.78 L36.71 124.74 L37.28 124.06 L37.88 123.36 L38.49 122.63 L39.12 121.88 L39.77 121.11 L40.44 120.31 L41.13 119.50 L41.84 118.66 L42.56 117.90 L43.30 117.30 L44.06 116.68 L44.84 116.04 L45.63 115.40 L46.44 114.74 L47.27 114.06 L48.11 113.37 L48.97 112.67 L49.84 111.96 L50.73 111.23 L51.64 110.50 L52.56 109.74 L53.49 108.99 L54.45 108.38 L55.41 107.77 L56.39 107.14 L57.38 106.51 L58.39 105.87 L59.41 105.21 L60.45 104.55 L61.50 103.88 L62.57 103.20 L63.64 102.52 L64.74 101.84 L65.84 101.32 L66.96 100.78 L68.09 100.25 L69.24 99.70 L70.39 99.15 L71.56 98.60 L72.75 98.04 L73.94 97.47 L75.15 96.89 L76.37 96.35 L77.61 95.85 L78.86 95.34 L80.11 94.83 L81.38 94.31 L82.67 93.79 L83.96 93.26 L85.27 92.72 L86.59 92.19 L87.92 91.68 L89.26 91.18 L90.62 90.68 L91.98 90.17 L93.36 89.66 L94.75 89.15 L96.15 88.63 L97.56 88.10 L98.99 87.59 L100.42 87.08 L101.87 86.56 L103.33 86.04 L104.79 85.52 L106.27 84.99 L107.76 84.46 L109.27 83.93 L110.78 83.40 L112.30 82.87 L113.83 82.33 L115.38 81.80 L116.93 81.25 L118.50 80.71 L120.08 80.16 L121.66 79.62 L123.26 79.09 L124.87 78.55 L126.49 78.01 L128.12 77.47 L129.76 76.92 L131.41 76.37 L133.07 75.87 L134.74 75.37 L136.42 74.88 L138.11 74.37 L139.81 73.87 L141.52 73.36 L143.24 72.88 L144.97 72.50 L146.71 72.11 L148.46 71.72 L150.22 71.33 L151.99 70.94 L153.76 70.54 L155.55 70.20 L157.35 69.87 L159.16 69.53 L160.98 69.20 L162.81 68.86 L164.64 68.52 L166.49 68.25 L168.35 68.02 L170.21 67.78 L172.09 67.55 L173.97 67.31 L175.87 67.07 L177.77 66.85 L179.68 66.64 L181.60 66.43 L183.53 66.21 L185.48 66.00 L187.42 65.78 L189.38 65.55 L191.35 65.33 L193.33 65.10 L195.31 64.87 L197.31 64.64 L199.31 64.41 L201.33 64.18 L203.35 63.95 L205.38 63.71 L207.42 63.48 L209.47 63.24 L211.52 63.06 L213.59 62.90 L215.67 62.73 L217.75 62.56 L219.84 62.39 L221.94 62.21 L224.05 62.04 L226.17 61.87 L228.30 61.70 L230.44 61.52 L232.58 61.36 L234.74 61.25 L236.90 61.13 L239.07 61.02 L241.25 60.91 L243.44 60.80 L245.63 60.68 L247.84 60.57 L250.05 60.45 L252.27 60.34 L254.50 60.22" fill="none" stroke="#000" stroke-width="2.20" stroke-linejoin="round"/>
<path d="M291.25 132.54 L291.31 132.42 L291.45 132.16 L291.63 131.82 L291.85 131.39 L292.10 130.90 L292.39 130.34 L292.71 129.73 L293.06 129.06 L293.43 128.33 L293.83 127.56 L294.26 126.74 L294.71 125.88 L295.18 124.97 L295.68 124.01 L296.19 123.02 L296.73 122.00 L297.29 121.29 L297.87 120.56 L298.47 119.81 L299.08 119.03 L299.72 118.23 L300.38 117.41 L301.05 116.56 L301.74 115.69 L302.45 114.94 L303.17 114.37 L303.91 113.79 L304.67 113.20 L305.45 112.60 L306.24 111.99 L307.05 111.36 L307.87 110.72 L308.71 110.06 L309.56 109.40 L310.43 108.72 L311.32 108.04 L312.21 107.34 L313.13 106.64 L314.06 106.19 L315.00 105.74 L315.96 105.28 L316.93 104.81 L317.91 104.34 L318.91 103.85 L319.92 103.37 L320.95 102.87 L321.99 102.37 L323.04 101.86 L324.11 101.36 L325.19 100.88 L326.28 100.39 L327.39 99.90 L328.51 99.40 L329.64 98.90 L330.78 98.39 L331.94 97.88 L333.11 97.36 L334.29 96.83 L335.48 96.32 L336.69 95.83 L337.90 95.33 L339.13 94.83 L340.38 94.33 L341.63 93.82 L342.89 93.30 L344.17 92.78 L345.46 92.25 L346.76 91.72 L348.07 91.19 L349.40 90.65 L350.73 90.11 L352.08 89.56 L353.43 89.00 L354.80 88.45 L356.18 87.88 L357.57 87.32 L358.97 86.75 L360.39 86.17 L361.81 85.59 L363.25 85.01 L364.69 84.42 L366.15 83.82 L367.61 83.23 L369.09 82.62 L370.58 82.02 L372.08 81.41 L373.59 80.79 L375.11 80.17 L376.64 79.55 L378.18 78.92 L379.73 78.33 L381.29 77.75 L382.86 77.17 L384.44 76.59 L386.03 76.00 L387.63 75.40 L389.24 74.81 L390.86 74.31 L392.50 73.83 L394.14 73.34 L395.79 72.85 L397.45 72.36 L399.12 71.86 L400.80 71.40 L402.49 71.02 L404.19 70.64 L405.90 70.26 L407.62 69.88 L409.35 69.50 L411.09 69.11 L412.83 68.72 L414.59 68.33 L416.36 67.94 L418.13 67.54 L419.92 67.15 L421.72 66.75 L423.52 66.41 L425.33 66.11 L427.16 65.80 L428.99 65.48 L430.83 65.17 L432.68 64.85 L434.54 64.57 L436.41 64.29 L438.28 64.01 L440.17 63.73 L442.07 63.45 L443.97 63.17 L445.88 62.92 L447.81 62.67 L449.74 62.42 L451.68 62.17 L453.63 61.92 L455.58 61.66 L457.55 61.41 L459.53 61.15 L461.51 60.90 L463.50 60.64 L465.51 60.38 L467.52 60.15 L469.53 59.92 L471.56 59.70 L473.60 59.47 L475.64 59.24 L477.70 59.02 L479.76 58.79 L481.83 58.56 L483.91 58.33 L485.99 58.09 L488.09 57.88 L490.19 57.73 L492.30 57.58 L494.42 57.43 L496.55 57.28 L498.69 57.13 L500.84 56.98 L502.99 56.83 L505.15 56.68 L507.32 56.52 L509.50 56.37" fill="none" stroke="#000" stroke-width="2.20" stroke-linejoin="round"/>
<path d="M56.9 105.5h1.4v1.4h-1.4zM98.4 87.9h1.4v1.4h-1.4zM99.3 76.9h1.4v1.4h-1.4zM38.0 119.4h1.4v1.4h-1.4zM54.2 99.6h1.4v1.4h-1.4zM168.3 76.3h1.4v1.4h-1.4zM52.4 105.5h1.4v1.4h-1.4zM56.8 109.9h1.4v1.4h-1.4zM185.9 65.6h1.4v1.4h-1.4zM104.2 102.6h1.4v1.4h-1.4zM80.0 93.6h1.4v1.4h-1.4zM88.3 92.6h1.4v1.4h-1.4zM103.5 89.7h1.4v1.4h-1.4zM70.3 97.2h1.4v1.4h-1.4zM43.4 116.9h1.4v1.4h-1.4zM111.3 77.3h1.4v1.4h-1.4zM115.9 77.6h1.4v1.4h-1.4zM98.0 93.9h1.4v1.4h-1.4zM138.3 90.0h1.4v1.4h-1.4zM90.8 88.8h1.4v1.4h-1.4zM215.2 73.3h1.4v1.4h-1.4zM49.9 106.7h1.4v1.4h-1.4zM105.8 74.5h1.4v1.4h-1.4zM69.4 103.2h1.4v1.4h-1.4zM79.3 93.3h1.4v1.4h-1.4zM94.3 98.9h1.4v1.4h-1.4zM60.6 102.3h1.4v1.4h-1.4zM145.4 72.7h1.4v1.4h-1.4zM146.1 65.3h1.4v1.4h-1.4zM43.7 110.3h1.4v1.4h-1.4zM80.7 98.2h1.4v1.4h-1.4zM71.9 93.8h1.4v1.4h-1.4zM58.1 101.3h1.4v1.4h-1.4zM172.2 67.3h1.4v1.4h-1.4zM66.7 100.1h1.4v1.4h-1.4zM41.9 113.0h1.4v1.4h-1.4zM125.5 72.7h1.4v1.4h-1.4zM63.2 101.2h1.4v1.4h-1.4zM173.4 74.8h1.4v1.4h-1.4zM51.3 96.2h1.4v1.4h-1.4zM40.9 113.8h1.4v1.4h-1.4zM42.1 114.4h1.4v1.4h-1.4zM65.2 99.0h1.4v1.4h-1.4zM76.9 93.7h1.4v1.4h-1.4zM165.1 75.9h1.4v1.4h-1.4zM127.0 78.5h1.4v1.4h-1.4zM69.2 92.1h1.4v1.4h-1.4zM39.2 116.7h1.4v1.4h-1.4zM63.7 101.9h1.4v1.4h-1.4zM227.1 61.4h1.4v1.4h-1.4zM73.0 92.1h1.4v1.4h-1.4zM122.2 81.1h1.4v1.4h-1.4zM63.8 97.3h1.4v1.4h-1.4zM37.9 114.3h1.4v1.4h-1.4zM146.4 70.6h1.4v1.4h-1.4zM95.5 93.8h1.4v1.4h-1.4zM72.9 91.1h1.4v1.4h-1.4zM69.7 94.0h1.4v1.4h-1.4zM52.0 102.4h1.4v1.4h-1.4zM54.4 103.7h1.4v1.4h-1.4zM38.9 116.1h1.4v1.4h-1.4zM142.3 81.1h1.4v1.4h-1.4zM78.1 96.2h1.4v1.4h-1.4zM60.6 105.1h1.4v1.4h-1.4zM121.1 75.9h1.4v1.4h-1.4zM50.1 103.0h1.4v1.4h-1.4zM63.1 98.0h1.4v1.4h-1.4zM90.1 86.7h1.4v1.4h-1.4zM154.3 66.6h1.4v1.4h-1.4zM41.2 116.9h1.4v1.4h-1.4zM136.9 79.6h1.4v1.4h-1.4zM45.0 114.1h1.4v1.4h-1.4zM50.2 108.9h1.4v1.4h-1.4zM38.7 117.9h1.4v1.4h-1.4zM71.9 88.9h1.4v1.4h-1.4zM127.6 85.5h1.4v1.4h-1.4zM92.8 91.1h1.4v1.4h-1.4zM133.9 72.8h1.4v1.4h-1.4zM46.4 113.3h1.4v1.4h-1.4zM85.2 91.2h1.4v1.4h-1.4zM51.2 110.5h1.4v1.4h-1.4zM206.0 65.4h1.4v1.4h-1.4zM170.7 64.8h1.4v1.4h-1.4zM84.8 96.6h1.4v1.4h-1.4zM75.3 99.4h1.4v1.4h-1.4zM82.1 92.0h1.4v1.4h-1.4zM114.5 84.6h1.4v1.4h-1.4zM49.4 107.7h1.4v1.4h-1.4zM54.5 110.4h1.4v1.4h-1.4zM69.2 101.2h1.4v1.4h-1.4zM47.7 106.8h1.4v1.4h-1.4zM135.1 60.6h1.4v1.4h-1.4zM114.5 89.0h1.4v1.4h-1.4zM105.0 81.1h1.4v1.4h-1.4zM104.0 95.6h1.4v1.4h-1.4zM111.2 90.9h1.4v1.4h-1.4zM116.4 85.3h1.4v1.4h-1.4zM169.4 63.5h1.4v1.4h-1.4zM60.8 99.4h1.4v1.4h-1.4zM98.8 90.7h1.4v1.4h-1.4zM57.8 108.2h1.4v1.4h-1.4zM69.2 95.1h1.4v1.4h-1.4zM126.1 85.7h1.4v1.4h-1.4zM149.3 71.6h1.4v1.4h-1.4zM117.7 81.2h1.4v1.4h-1.4zM46.9 110.8h1.4v1.4h-1.4zM64.7 94.5h1.4v1.4h-1.4zM55.7 102.2h1.4v1.4h-1.4zM249.7 63.4h1.4v1.4h-1.4zM41.6 115.5h1.4v1.4h-1.4zM53.2 104.6h1.4v1.4h-1.4zM84.9 85.8h1.4v1.4h-1.4zM42.2 113.4h1.4v1.4h-1.4zM134.0 85.9h1.4v1.4h-1.4zM87.6 89.9h1.4v1.4h-1.4zM51.3 109.4h1.4v1.4h-1.4zM94.9 85.5h1.4v1.4h-1.4zM61.0 93.7h1.4v1.4h-1.4zM87.8 88.7h1.4v1.4h-1.4zM46.1 113.0h1.4v1.4h-1.4zM62.5 97.5h1.4v1.4h-1.4zM42.0 109.6h1.4v1.4h-1.4zM92.1 90.7h1.4v1.4h-1.4zM95.1 92.3h1.4v1.4h-1.4zM63.9 100.5h1.4v1.4h-1.4zM92.7 93.6h1.4v1.4h-1.4zM77.4 93.9h1.4v1.4h-1.4zM55.3 104.6h1.4v1.4h-1.4zM77.5 92.9h1.4v1.4h-1.4zM78.5 93.4h1.4v1.4h-1.4zM167.0 76.8h1.4v1.4h-1.4zM42.4 113.4h1.4v1.4h-1.4zM56.2 109.8h1.4v1.4h-1.4zM99.3 87.5h1.4v1.4h-1.4zM180.5 63.2h1.4v1.4h-1.4zM162.7 68.5h1.4v1.4h-1.4zM113.9 77.6h1.4v1.4h-1.4zM61.0 100.6h1.4v1.4h-1.4zM137.2 73.6h1.4v1.4h-1.4zM112.3 83.7h1.4v1.4h-1.4zM59.4 100.0h1.4v1.4h-1.4zM80.9 96.1h1.4v1.4h-1.4zM60.6 98.9h1.4v1.4h-1.4zM146.1 67.5h1.4v1.4h-1.4zM117.9 82.0h1.4v1.4h-1.4zM141.6 74.8h1.4v1.4h-1.4zM121.0 76.6h1.4v1.4h-1.4zM77.2 92.5h1.4v1.4h-1.4zM129.7 88.4h1.4v1.4h-1.4zM47.5 115.3h1.4v1.4h-1.4zM58.8 95.2h1.4v1.4h-1.4zM64.3 101.9h1.4v1.4h-1.4zM90.5 98.3h1.4v1.4h-1.4zM85.0 94.4h1.4v1.4h-1.4zM91.9 90.0h1.4v1.4h-1.4zM97.7 87.5h1.4v1.4h-1.4zM62.1 105.9h1.4v1.4h-1.4zM100.9 103.0h1.4v1.4h-1.4zM74.8 97.7h1.4v1.4h-1.4zM124.3 83.9h1.4v1.4h-1.4zM85.8 92.6h1.4v1.4h-1.4zM152.0 75.5h1.4v1.4h-1.4zM68.0 99.7h1.4v1.4h-1.4zM89.4 97.1h1.4v1.4h-1.4zM115.0 80.1h1.4v1.4h-1.4zM89.5 93.2h1.4v1.4h-1.4zM58.7 105.5h1.4v1.4h-1.4zM216.6 61.1h1.4v1.4h-1.4zM44.7 119.9h1.4v1.4h-1.4zM65.6 96.6h1.4v1.4h-1.4zM93.5 100.1h1.4v1.4h-1.4zM40.2 114.3h1.4v1.4h-1.4zM58.8 104.3h1.4v1.4h-1.4zM141.2 75.4h1.4v1.4h-1.4zM122.9 79.8h1.4v1.4h-1.4zM106.8 79.8h1.4v1.4h-1.4zM173.0 66.2h1.4v1.4h-1.4zM111.2 83.6h1.4v1.4h-1.4zM79.9 96.5h1.4v1.4h-1.4zM103.6 90.4h1.4v1.4h-1.4zM84.2 101.5h1.4v1.4h-1.4zM118.0 88.4h1.4v1.4h-1.4zM67.4 93.2h1.4v1.4h-1.4zM52.2 101.5h1.4v1.4h-1.4zM139.2 72.7h1.4v1.4h-1.4zM117.4 80.1h1.4v1.4h-1.4zM126.5 83.4h1.4v1.4h-1.4zM100.8 105.3h1.4v1.4h-1.4zM123.8 64.4h1.4v1.4h-1.4zM78.5 89.5h1.4v1.4h-1.4zM89.4 93.5h1.4v1.4h-1.4zM42.9 114.6h1.4v1.4h-1.4zM95.1 92.8h1.4v1.4h-1.4zM149.9 66.6h1.4v1.4h-1.4zM123.1 78.4h1.4v1.4h-1.4zM148.6 71.1h1.4v1.4h-1.4zM100.2 94.6h1.4v1.4h-1.4zM148.5 62.6h1.4v1.4h-1.4zM63.8 94.4h1.4v1.4h-1.4zM146.9 70.3h1.4v1.4h-1.4zM83.2 99.5h1.4v1.4h-1.4zM63.3 94.2h1.4v1.4h-1.4zM102.8 94.2h1.4v1.4h-1.4zM82.1 93.9h1.4v1.4h-1.4zM65.7 88.9h1.4v1.4h-1.4zM131.8 79.6h1.4v1.4h-1.4zM62.2 90.5h1.4v1.4h-1.4zM91.6 93.8h1.4v1.4h-1.4zM70.8 91.1h1.4v1.4h-1.4zM89.3 94.7h1.4v1.4h-1.4zM100.5 92.9h1.4v1.4h-1.4zM42.3 118.3h1.4v1.4h-1.4zM104.1 84.8h1.4v1.4h-1.4zM137.6 82.5h1.4v1.4h-1.4zM58.2 95.3h1.4v1.4h-1.4zM41.2 116.9h1.4v1.4h-1.4zM57.0 101.1h1.4v1.4h-1.4zM73.4 103.4h1.4v1.4h-1.4zM211.9 63.6h1.4v1.4h-1.4zM60.7 105.9h1.4v1.4h-1.4zM236.2 63.7h1.4v1.4h-1.4zM91.9 85.1h1.4v1.4h-1.4zM41.8 113.4h1.4v1.4h-1.4zM83.6 88.1h1.4v1.4h-1.4zM55.5 99.5h1.4v1.4h-1.4zM110.0 95.0h1.4v1.4h-1.4zM98.6 89.2h1.4v1.4h-1.4zM77.1 92.6h1.4v1.4h-1.4zM48.1 114.0h1.4v1.4h-1.4zM150.7 76.5h1.4v1.4h-1.4zM114.0 86.4h1.4v1.4h-1.4zM67.1 92.2h1.4v1.4h-1.4zM70.8 98.9h1.4v1.4h-1.4zM116.2 79.8h1.4v1.4h-1.4zM217.7 77.2h1.4v1.4h-1.4zM56.3 105.5h1.4v1.4h-1.4zM44.3 112.1h1.4v1.4h-1.4zM72.7 100.7h1.4v1.4h-1.4zM88.6 95.4h1.4v1.4h-1.4zM57.4 103.5h1.4v1.4h-1.4zM60.7 99.7h1.4v1.4h-1.4zM43.7 117.3h1.4v1.4h-1.4zM75.1 94.2h1.4v1.4h-1.4zM114.1 86.5h1.4v1.4h-1.4zM92.6 95.4h1.4v1.4h-1.4zM40.5 114.9h1.4v1.4h-1.4zM63.4 100.8h1.4v1.4h-1.4zM70.2 94.3h1.4v1.4h-1.4zM143.1 67.6h1.4v1.4h-1.4zM160.2 56.9h1.4v1.4h-1.4zM65.3 100.0h1.4v1.4h-1.4zM144.4 57.9h1.4v1.4h-1.4zM156.8 65.1h1.4v1.4h-1.4zM79.3 94.8h1.4v1.4h-1.4zM125.3 77.4h1.4v1.4h-1.4zM67.1 92.6h1.4v1.4h-1.4zM54.9 107.7h1.4v1.4h-1.4zM90.9 92.6h1.4v1.4h-1.4zM58.6 104.0h1.4v1.4h-1.4zM92.7 99.4h1.4v1.4h-1.4zM146.4 80.4h1.4v1.4h-1.4zM167.8 91.4h1.4v1.4h-1.4zM76.8 92.7h1.4v1.4h-1.4zM46.5 114.2h1.4v1.4h-1.4zM171.9 68.6h1.4v1.4h-1.4zM138.9 77.9h1.4v1.4h-1.4zM192.8 63.2h1.4v1.4h-1.4zM96.9 87.7h1.4v1.4h-1.4zM118.6 89.4h1.4v1.4h-1.4zM79.8 95.6h1.4v1.4h-1.4zM49.2 111.8h1.4v1.4h-1.4zM81.0 90.1h1.4v1.4h-1.4zM118.6 100.6h1.4v1.4h-1.4zM80.5 95.0h1.4v1.4h-1.4zM124.2 80.0h1.4v1.4h-1.4zM107.4 85.3h1.4v1.4h-1.4zM73.1 96.4h1.4v1.4h-1.4zM183.4 78.0h1.4v1.4h-1.4zM63.8 95.9h1.4v1.4h-1.4zM75.5 95.7h1.4v1.4h-1.4zM50.9 108.9h1.4v1.4h-1.4zM168.9 88.0h1.4v1.4h-1.4zM69.5 105.4h1.4v1.4h-1.4zM85.3 111.1h1.4v1.4h-1.4zM58.4 105.1h1.4v1.4h-1.4zM100.8 88.8h1.4v1.4h-1.4zM70.5 105.6h1.4v1.4h-1.4zM59.7 94.7h1.4v1.4h-1.4zM41.2 117.0h1.4v1.4h-1.4zM81.6 91.0h1.4v1.4h-1.4zM106.7 83.2h1.4v1.4h-1.4zM88.3 79.5h1.4v1.4h-1.4zM169.9 66.1h1.4v1.4h-1.4zM172.6 73.7h1.4v1.4h-1.4zM163.9 78.5h1.4v1.4h-1.4zM132.7 88.3h1.4v1.4h-1.4zM76.1 93.7h1.4v1.4h-1.4zM91.7 85.5h1.4v1.4h-1.4zM64.7 98.5h1.4v1.4h-1.4zM84.8 94.2h1.4v1.4h-1.4zM60.2 95.9h1.4v1.4h-1.4zM145.1 74.0h1.4v1.4h-1.4zM58.3 101.8h1.4v1.4h-1.4zM40.1 116.6h1.4v1.4h-1.4zM74.3 90.4h1.4v1.4h-1.4zM111.3 87.0h1.4v1.4h-1.4zM70.4 98.6h1.4v1.4h-1.4zM75.2 93.7h1.4v1.4h-1.4zM99.3 90.3h1.4v1.4h-1.4zM48.3 111.3h1.4v1.4h-1.4zM37.7 122.4h1.4v1.4h-1.4zM93.9 89.7h1.4v1.4h-1.4zM90.4 91.0h1.4v1.4h-1.4zM151.7 73.8h1.4v1.4h-1.4zM68.9 98.7h1.4v1.4h-1.4zM117.4 83.2h1.4v1.4h-1.4zM39.5 117.9h1.4v1.4h-1.4zM38.3 118.7h1.4v1.4h-1.4zM97.3 78.9h1.4v1.4h-1.4zM53.9 103.7h1.4v1.4h-1.4zM42.7 116.6h1.4v1.4h-1.4zM62.8 101.2h1.4v1.4h-1.4zM76.0 92.1h1.4v1.4h-1.4zM67.2 98.1h1.4v1.4h-1.4zM108.2 85.8h1.4v1.4h-1.4zM134.7 75.4h1.4v1.4h-1.4zM80.2 96.3h1.4v1.4h-1.4zM52.4 106.8h1.4v1.4h-1.4zM92.0 95.9h1.4v1.4h-1.4zM35.0 122.4h1.4v1.4h-1.4zM74.7 93.3h1.4v1.4h-1.4zM72.2 94.7h1.4v1.4h-1.4zM69.5 93.0h1.4v1.4h-1.4zM50.9 105.8h1.4v1.4h-1.4zM96.0 92.8h1.4v1.4h-1.4zM101.6 95.6h1.4v1.4h-1.4zM113.0 83.9h1.4v1.4h-1.4zM176.7 68.9h1.4v1.4h-1.4zM82.6 94.8h1.4v1.4h-1.4zM87.8 79.2h1.4v1.4h-1.4zM78.0 103.4h1.4v1.4h-1.4zM53.9 110.7h1.4v1.4h-1.4zM152.7 74.5h1.4v1.4h-1.4zM112.9 104.2h1.4v1.4h-1.4zM173.1 71.7h1.4v1.4h-1.4zM133.9 78.7h1.4v1.4h-1.4zM157.1 63.8h1.4v1.4h-1.4zM56.2 103.5h1.4v1.4h-1.4zM37.9 119.5h1.4v1.4h-1.4zM54.7 104.1h1.4v1.4h-1.4zM79.0 89.8h1.4v1.4h-1.4zM111.4 85.0h1.4v1.4h-1.4zM81.6 89.9h1.4v1.4h-1.4zM95.7 88.3h1.4v1.4h-1.4zM130.2 77.3h1.4v1.4h-1.4zM41.9 117.0h1.4v1.4h-1.4zM110.4 86.2h1.4v1.4h-1.4zM55.4 104.7h1.4v1.4h-1.4zM47.3 109.6h1.4v1.4h-1.4zM117.6 88.6h1.4v1.4h-1.4zM128.9 74.6h1.4v1.4h-1.4zM71.6 100.0h1.4v1.4h-1.4zM65.1 97.8h1.4v1.4h-1.4zM134.2 79.3h1.4v1.4h-1.4zM76.3 88.3h1.4v1.4h-1.4zM40.6 116.0h1.4v1.4h-1.4zM58.5 95.7h1.4v1.4h-1.4zM39.2 117.4h1.4v1.4h-1.4zM136.3 61.2h1.4v1.4h-1.4zM44.5 110.7h1.4v1.4h-1.4zM203.0 56.6h1.4v1.4h-1.4zM46.1 118.9h1.4v1.4h-1.4zM84.2 99.0h1.4v1.4h-1.4zM95.4 86.6h1.4v1.4h-1.4zM66.5 104.9h1.4v1.4h-1.4zM78.2 118.3h1.4v1.4h-1.4zM51.8 116.5h1.4v1.4h-1.4zM64.6 98.8h1.4v1.4h-1.4zM41.5 113.6h1.4v1.4h-1.4zM62.7 98.5h1.4v1.4h-1.4zM159.2 66.1h1.4v1.4h-1.4zM82.5 99.4h1.4v1.4h-1.4zM74.1 94.8h1.4v1.4h-1.4zM123.7 81.0h1.4v1.4h-1.4zM145.6 74.7h1.4v1.4h-1.4zM80.3 94.2h1.4v1.4h-1.4zM73.8 88.1h1.4v1.4h-1.4zM111.9 87.6h1.4v1.4h-1.4zM126.6 73.2h1.4v1.4h-1.4zM96.1 76.1h1.4v1.4h-1.4zM51.5 102.3h1.4v1.4h-1.4zM58.6 101.5h1.4v1.4h-1.4zM123.9 78.3h1.4v1.4h-1.4zM130.7 63.6h1.4v1.4h-1.4zM162.0 67.8h1.4v1.4h-1.4zM122.8 82.7h1.4v1.4h-1.4zM65.8 100.7h1.4v1.4h-1.4zM44.1 114.7h1.4v1.4h-1.4zM136.6 75.6h1.4v1.4h-1.4zM114.9 81.2h1.4v1.4h-1.4zM96.2 86.5h1.4v1.4h-1.4zM113.7 90.6h1.4v1.4h-1.4zM84.8 82.8h1.4v1.4h-1.4zM73.5 100.8h1.4v1.4h-1.4zM94.8 94.2h1.4v1.4h-1.4zM84.1 97.8h1.4v1.4h-1.4zM126.4 80.6h1.4v1.4h-1.4zM170.5 72.9h1.4v1.4h-1.4zM151.4 69.2h1.4v1.4h-1.4zM80.4 90.2h1.4v1.4h-1.4zM70.8 91.8h1.4v1.4h-1.4zM174.8 55.7h1.4v1.4h-1.4zM64.5 99.0h1.4v1.4h-1.4zM151.0 66.1h1.4v1.4h-1.4zM51.0 102.4h1.4v1.4h-1.4zM71.5 96.7h1.4v1.4h-1.4zM96.9 84.5h1.4v1.4h-1.4zM139.9 72.3h1.4v1.4h-1.4zM150.2 64.9h1.4v1.4h-1.4zM59.6 104.3h1.4v1.4h-1.4zM103.0 88.2h1.4v1.4h-1.4zM91.5 83.6h1.4v1.4h-1.4zM51.4 110.5h1.4v1.4h-1.4zM132.6 80.9h1.4v1.4h-1.4zM102.9 88.1h1.4v1.4h-1.4zM176.6 67.5h1.4v1.4h-1.4zM50.4 109.2h1.4v1.4h-1.4zM89.7 86.0h1.4v1.4h-1.4zM83.0 92.7h1.4v1.4h-1.4zM106.8 82.5h1.4v1.4h-1.4zM92.7 87.5h1.4v1.4h-1.4zM105.8 86.8h1.4v1.4h-1.4zM67.9 100.6h1.4v1.4h-1.4zM102.2 81.9h1.4v1.4h-1.4zM69.5 95.1h1.4v1.4h-1.4zM140.9 84.6h1.4v1.4h-1.4zM77.6 90.2h1.4v1.4h-1.4zM71.8 93.0h1.4v1.4h-1.4zM46.0 113.2h1.4v1.4h-1.4zM54.7 109.6h1.4v1.4h-1.4zM193.4 78.6h1.4v1.4h-1.4zM86.2 100.8h1.4v1.4h-1.4zM138.2 83.5h1.4v1.4h-1.4zM92.0 86.9h1.4v1.4h-1.4zM199.7 69.6h1.4v1.4h-1.4zM46.2 110.1h1.4v1.4h-1.4zM153.9 65.0h1.4v1.4h-1.4zM114.2 98.1h1.4v1.4h-1.4zM102.5 110.9h1.4v1.4h-1.4zM111.2 94.6h1.4v1.4h-1.4zM123.1 87.9h1.4v1.4h-1.4zM70.5 97.1h1.4v1.4h-1.4zM91.4 95.3h1.4v1.4h-1.4zM52.4 108.9h1.4v1.4h-1.4zM39.1 120.7h1.4v1.4h-1.4zM118.6 90.6h1.4v1.4h-1.4zM66.6 100.8h1.4v1.4h-1.4zM165.9 63.5h1.4v1.4h-1.4zM84.1 86.2h1.4v1.4h-1.4zM131.2 61.4h1.4v1.4h-1.4zM222.1 66.0h1.4v1.4h-1.4zM166.4 52.9h1.4v1.4h-1.4zM182.8 64.7h1.4v1.4h-1.4zM47.2 105.0h1.4v1.4h-1.4zM63.7 100.3h1.4v1.4h-1.4zM48.5 105.5h1.4v1.4h-1.4zM84.5 98.4h1.4v1.4h-1.4zM55.4 110.1h1.4v1.4h-1.4zM42.3 109.9h1.4v1.4h-1.4zM38.3 121.7h1.4v1.4h-1.4zM155.0 68.5h1.4v1.4h-1.4zM76.0 93.6h1.4v1.4h-1.4zM106.6 98.0h1.4v1.4h-1.4zM65.1 93.8h1.4v1.4h-1.4zM109.2 86.8h1.4v1.4h-1.4zM131.6 71.7h1.4v1.4h-1.4zM70.0 100.3h1.4v1.4h-1.4zM90.0 90.9h1.4v1.4h-1.4zM63.2 100.5h1.4v1.4h-1.4zM81.2 98.1h1.4v1.4h-1.4zM62.6 102.0h1.4v1.4h-1.4zM76.9 88.9h1.4v1.4h-1.4zM82.3 97.9h1.4v1.4h-1.4zM102.1 93.9h1.4v1.4h-1.4zM70.5 92.7h1.4v1.4h-1.4zM78.5 98.9h1.4v1.4h-1.4zM137.4 64.0h1.4v1.4h-1.4zM39.2 113.7h1.4v1.4h-1.4zM36.5 124.7h1.4v1.4h-1.4zM46.5 107.6h1.4v1.4h-1.4zM134.9 66.2h1.4v1.4h-1.4zM105.3 87.2h1.4v1.4h-1.4zM119.0 85.2h1.4v1.4h-1.4zM179.5 76.2h1.4v1.4h-1.4zM48.7 110.2h1.4v1.4h-1.4zM159.6 68.3h1.4v1.4h-1.4zM61.6 99.6h1.4v1.4h-1.4zM96.8 93.0h1.4v1.4h-1.4zM129.2 84.4h1.4v1.4h-1.4zM141.5 60.5h1.4v1.4h-1.4zM62.6 93.0h1.4v1.4h-1.4zM84.4 91.4h1.4v1.4h-1.4zM54.3 102.1h1.4v1.4h-1.4zM81.5 100.1h1.4v1.4h-1.4zM204.4 71.1h1.4v1.4h-1.4zM155.9 70.5h1.4v1.4h-1.4zM99.8 88.0h1.4v1.4h-1.4zM109.8 83.5h1.4v1.4h-1.4zM163.7 75.5h1.4v1.4h-1.4zM77.8 97.5h1.4v1.4h-1.4zM215.1 66.4h1.4v1.4h-1.4zM84.0 92.8h1.4v1.4h-1.4zM46.2 117.0h1.4v1.4h-1.4zM105.6 81.5h1.4v1.4h-1.4zM97.4 89.9h1.4v1.4h-1.4zM122.5 89.5h1.4v1.4h-1.4zM118.9 82.8h1.4v1.4h-1.4zM60.5 101.5h1.4v1.4h-1.4zM93.0 90.0h1.4v1.4h-1.4zM153.5 68.7h1.4v1.4h-1.4zM127.1 77.3h1.4v1.4h-1.4zM212.8 58.0h1.4v1.4h-1.4zM102.3 96.6h1.4v1.4h-1.4zM133.7 89.7h1.4v1.4h-1.4zM46.2 118.4h1.4v1.4h-1.4zM167.3 62.2h1.4v1.4h-1.4zM80.6 96.8h1.4v1.4h-1.4zM145.7 67.5h1.4v1.4h-1.4zM77.2 93.2h1.4v1.4h-1.4zM100.9 88.7h1.4v1.4h-1.4zM134.3 69.7h1.4v1.4h-1.4zM118.7 85.6h1.4v1.4h-1.4zM93.6 92.6h1.4v1.4h-1.4zM214.4 73.1h1.4v1.4h-1.4zM53.2 104.8h1.4v1.4h-1.4zM57.7 100.8h1.4v1.4h-1.4zM101.8 87.1h1.4v1.4h-1.4zM195.9 53.3h1.4v1.4h-1.4zM127.7 85.5h1.4v1.4h-1.4zM65.1 95.7h1.4v1.4h-1.4zM56.5 109.4h1.4v1.4h-1.4zM72.3 93.1h1.4v1.4h-1.4zM66.2 99.2h1.4v1.4h-1.4zM74.6 92.5h1.4v1.4h-1.4zM105.1 85.8h1.4v1.4h-1.4zM81.7 87.6h1.4v1.4h-1.4zM133.3 79.3h1.4v1.4h-1.4zM68.5 92.1h1.4v1.4h-1.4zM57.1 102.6h1.4v1.4h-1.4zM85.6 92.3h1.4v1.4h-1.4zM155.0 70.5h1.4v1.4h-1.4zM43.6 112.3h1.4v1.4h-1.4zM79.5 99.5h1.4v1.4h-1.4zM167.1 69.9h1.4v1.4h-1.4zM82.1 97.1h1.4v1.4h-1.4zM135.4 81.5h1.4v1.4h-1.4zM52.6 105.9h1.4v1.4h-1.4zM148.8 73.9h1.4v1.4h-1.4zM50.1 107.9h1.4v1.4h-1.4zM50.5 108.4h1.4v1.4h-1.4zM109.3 82.9h1.4v1.4h-1.4zM238.1 57.4h1.4v1.4h-1.4zM185.6 63.8h1.4v1.4h-1.4zM117.1 89.1h1.4v1.4h-1.4zM167.9 67.3h1.4v1.4h-1.4zM239.4 64.0h1.4v1.4h-1.4zM105.6 91.7h1.4v1.4h-1.4zM49.2 104.1h1.4v1.4h-1.4zM144.5 74.3h1.4v1.4h-1.4zM72.6 96.7h1.4v1.4h-1.4zM82.7 95.6h1.4v1.4h-1.4zM104.0 88.1h1.4v1.4h-1.4zM56.4 107.2h1.4v1.4h-1.4zM40.8 118.0h1.4v1.4h-1.4zM75.3 89.1h1.4v1.4h-1.4zM99.0 82.3h1.4v1.4h-1.4zM112.2 87.6h1.4v1.4h-1.4zM191.4 63.3h1.4v1.4h-1.4zM137.4 74.9h1.4v1.4h-1.4zM165.8 68.3h1.4v1.4h-1.4zM86.3 93.0h1.4v1.4h-1.4zM117.5 84.3h1.4v1.4h-1.4zM100.0 109.1h1.4v1.4h-1.4zM55.7 99.8h1.4v1.4h-1.4zM54.2 108.1h1.4v1.4h-1.4zM114.2 83.4h1.4v1.4h-1.4zM56.2 95.2h1.4v1.4h-1.4zM123.4 83.8h1.4v1.4h-1.4zM77.1 96.5h1.4v1.4h-1.4zM38.8 119.6h1.4v1.4h-1.4zM89.7 100.5h1.4v1.4h-1.4zM76.4 103.0h1.4v1.4h-1.4zM42.8 111.4h1.4v1.4h-1.4zM84.4 101.4h1.4v1.4h-1.4zM71.8 100.6h1.4v1.4h-1.4zM70.3 90.3h1.4v1.4h-1.4zM118.7 113.0h1.4v1.4h-1.4zM43.9 113.5h1.4v1.4h-1.4zM83.7 86.0h1.4v1.4h-1.4zM108.2 80.0h1.4v1.4h-1.4zM194.0 58.3h1.4v1.4h-1.4zM54.4 110.6h1.4v1.4h-1.4zM62.6 102.4h1.4v1.4h-1.4zM49.0 109.9h1.4v1.4h-1.4zM52.0 98.6h1.4v1.4h-1.4zM45.4 108.5h1.4v1.4h-1.4zM51.1 103.2h1.4v1.4h-1.4zM62.3 101.5h1.4v1.4h-1.4zM56.4 104.2h1.4v1.4h-1.4zM76.1 94.6h1.4v1.4h-1.4zM98.2 92.7h1.4v1.4h-1.4zM78.1 91.5h1.4v1.4h-1.4zM55.2 102.5h1.4v1.4h-1.4zM51.7 103.3h1.4v1.4h-1.4zM75.3 99.4h1.4v1.4h-1.4zM43.9 116.0h1.4v1.4h-1.4zM73.8 98.9h1.4v1.4h-1.4zM146.0 67.9h1.4v1.4h-1.4zM113.6 97.6h1.4v1.4h-1.4zM47.8 112.7h1.4v1.4h-1.4zM59.6 107.5h1.4v1.4h-1.4zM44.6 117.3h1.4v1.4h-1.4zM68.3 100.4h1.4v1.4h-1.4zM82.2 93.0h1.4v1.4h-1.4zM111.3 92.8h1.4v1.4h-1.4zM48.3 111.5h1.4v1.4h-1.4zM61.9 103.7h1.4v1.4h-1.4zM117.8 85.0h1.4v1.4h-1.4zM104.5 86.0h1.4v1.4h-1.4zM103.4 88.1h1.4v1.4h-1.4zM153.7 76.4h1.4v1.4h-1.4zM46.5 118.0h1.4v1.4h-1.4zM62.0 101.3h1.4v1.4h-1.4zM93.5 84.4h1.4v1.4h-1.4zM95.3 85.8h1.4v1.4h-1.4zM218.9 60.0h1.4v1.4h-1.4zM200.4 61.0h1.4v1.4h-1.4zM108.0 86.9h1.4v1.4h-1.4zM123.1 86.9h1.4v1.4h-1.4zM122.7 89.6h1.4v1.4h-1.4zM41.6 113.7h1.4v1.4h-1.4zM100.4 84.6h1.4v1.4h-1.4zM82.3 104.6h1.4v1.4h-1.4zM72.7 87.6h1.4v1.4h-1.4zM43.2 117.1h1.4v1.4h-1.4zM37.7 124.2h1.4v1.4h-1.4zM132.7 78.8h1.4v1.4h-1.4zM117.9 90.2h1.4v1.4h-1.4zM126.9 82.4h1.4v1.4h-1.4zM65.2 98.3h1.4v1.4h-1.4zM73.0 98.3h1.4v1.4h-1.4zM50.5 103.8h1.4v1.4h-1.4zM95.2 89.3h1.4v1.4h-1.4zM142.7 69.6h1.4v1.4h-1.4zM120.6 80.0h1.4v1.4h-1.4zM157.9 71.5h1.4v1.4h-1.4zM81.7 98.5h1.4v1.4h-1.4zM120.2 71.0h1.4v1.4h-1.4zM49.5 110.3h1.4v1.4h-1.4zM107.8 85.8h1.4v1.4h-1.4zM57.4 103.3h1.4v1.4h-1.4zM89.9 89.1h1.4v1.4h-1.4zM107.9 78.2h1.4v1.4h-1.4zM76.9 91.9h1.4v1.4h-1.4zM71.5 92.4h1.4v1.4h-1.4zM113.9 74.0h1.4v1.4h-1.4zM65.5 92.6h1.4v1.4h-1.4zM69.4 92.8h1.4v1.4h-1.4zM48.1 109.8h1.4v1.4h-1.4zM71.6 100.0h1.4v1.4h-1.4zM153.0 62.2h1.4v1.4h-1.4zM211.2 87.9h1.4v1.4h-1.4zM68.2 105.8h1.4v1.4h-1.4zM139.2 81.1h1.4v1.4h-1.4zM140.6 70.8h1.4v1.4h-1.4zM43.5 118.7h1.4v1.4h-1.4zM74.4 95.6h1.4v1.4h-1.4zM120.0 95.2h1.4v1.4h-1.4zM84.3 90.2h1.4v1.4h-1.4zM185.3 56.1h1.4v1.4h-1.4zM79.3 92.2h1.4v1.4h-1.4zM123.8 77.3h1.4v1.4h-1.4zM112.5 85.4h1.4v1.4h-1.4zM54.3 102.3h1.4v1.4h-1.4zM141.0 73.1h1.4v1.4h-1.4zM67.6 97.7h1.4v1.4h-1.4zM42.1 113.2h1.4v1.4h-1.4zM63.8 96.6h1.4v1.4h-1.4zM66.0 98.6h1.4v1.4h-1.4zM106.1 90.4h1.4v1.4h-1.4zM72.1 103.3h1.4v1.4h-1.4zM132.8 74.8h1.4v1.4h-1.4zM85.5 94.8h1.4v1.4h-1.4zM145.7 72.6h1.4v1.4h-1.4zM38.9 126.7h1.4v1.4h-1.4zM82.7 92.9h1.4v1.4h-1.4zM57.4 94.8h1.4v1.4h-1.4zM73.2 95.7h1.4v1.4h-1.4zM80.0 94.1h1.4v1.4h-1.4zM80.4 91.4h1.4v1.4h-1.4zM134.8 79.1h1.4v1.4h-1.4zM102.3 93.9h1.4v1.4h-1.4zM106.8 79.2h1.4v1.4h-1.4zM79.3 93.0h1.4v1.4h-1.4zM148.8 68.6h1.4v1.4h-1.4zM108.4 88.1h1.4v1.4h-1.4zM126.4 76.5h1.4v1.4h-1.4zM163.8 75.2h1.4v1.4h-1.4zM98.8 88.7h1.4v1.4h-1.4zM81.1 89.6h1.4v1.4h-1.4zM78.1 98.8h1.4v1.4h-1.4zM154.9 79.1h1.4v1.4h-1.4zM110.0 86.9h1.4v1.4h-1.4zM137.0 77.8h1.4v1.4h-1.4zM59.9 108.6h1.4v1.4h-1.4zM68.9 108.9h1.4v1.4h-1.4zM138.1 90.7h1.4v1.4h-1.4zM60.0 98.0h1.4v1.4h-1.4zM133.8 77.0h1.4v1.4h-1.4zM92.5 93.7h1.4v1.4h-1.4zM47.3 111.8h1.4v1.4h-1.4zM65.0 97.4h1.4v1.4h-1.4zM58.2 98.3h1.4v1.4h-1.4zM115.8 78.5h1.4v1.4h-1.4zM117.7 85.0h1.4v1.4h-1.4zM38.6 120.8h1.4v1.4h-1.4zM65.4 94.7h1.4v1.4h-1.4zM127.5 75.8h1.4v1.4h-1.4zM44.6 113.7h1.4v1.4h-1.4zM92.7 93.1h1.4v1.4h-1.4zM147.1 80.9h1.4v1.4h-1.4zM94.1 100.9h1.4v1.4h-1.4zM52.9 100.7h1.4v1.4h-1.4zM160.7 74.1h1.4v1.4h-1.4zM121.1 81.3h1.4v1.4h-1.4zM93.4 97.1h1.4v1.4h-1.4zM74.1 99.7h1.4v1.4h-1.4zM86.5 85.9h1.4v1.4h-1.4zM64.3 107.6h1.4v1.4h-1.4zM52.9 109.4h1.4v1.4h-1.4zM59.8 103.9h1.4v1.4h-1.4zM63.9 94.3h1.4v1.4h-1.4zM59.5 100.0h1.4v1.4h-1.4zM53.3 110.1h1.4v1.4h-1.4zM100.7 95.2h1.4v1.4h-1.4zM101.3 90.1h1.4v1.4h-1.4zM102.6 92.6h1.4v1.4h-1.4zM153.1 56.5h1.4v1.4h-1.4zM49.3 101.6h1.4v1.4h-1.4zM73.9 95.4h1.4v1.4h-1.4zM59.0 99.6h1.4v1.4h-1.4zM68.8 99.6h1.4v1.4h-1.4zM43.7 113.8h1.4v1.4h-1.4zM61.7 103.0h1.4v1.4h-1.4zM42.0 119.0h1.4v1.4h-1.4zM83.9 94.4h1.4v1.4h-1.4zM129.1 85.3h1.4v1.4h-1.4zM67.6 100.2h1.4v1.4h-1.4zM125.5 79.1h1.4v1.4h-1.4zM48.0 108.1h1.4v1.4h-1.4zM70.0 96.4h1.4v1.4h-1.4zM85.9 90.7h1.4v1.4h-1.4zM61.4 102.3h1.4v1.4h-1.4zM81.0 99.1h1.4v1.4h-1.4zM96.0 92.5h1.4v1.4h-1.4zM153.0 76.9h1.4v1.4h-1.4zM54.3 102.6h1.4v1.4h-1.4zM152.8 68.0h1.4v1.4h-1.4zM102.4 96.3h1.4v1.4h-1.4zM87.3 95.1h1.4v1.4h-1.4zM59.4 103.1h1.4v1.4h-1.4zM149.7 75.9h1.4v1.4h-1.4zM83.6 91.2h1.4v1.4h-1.4zM100.2 91.8h1.4v1.4h-1.4zM87.1 90.7h1.4v1.4h-1.4zM172.7 72.7h1.4v1.4h-1.4zM95.7 96.5h1.4v1.4h-1.4zM224.7 56.9h1.4v1.4h-1.4zM46.3 112.1h1.4v1.4h-1.4zM90.8 88.2h1.4v1.4h-1.4zM104.5 85.3h1.4v1.4h-1.4zM87.9 98.2h1.4v1.4h-1.4zM106.8 86.5h1.4v1.4h-1.4zM86.7 92.5h1.4v1.4h-1.4zM80.1 94.3h1.4v1.4h-1.4zM91.4 84.7h1.4v1.4h-1.4zM53.1 103.9h1.4v1.4h-1.4zM67.9 94.1h1.4v1.4h-1.4zM84.0 97.4h1.4v1.4h-1.4zM45.1 107.8h1.4v1.4h-1.4zM96.7 87.6h1.4v1.4h-1.4zM122.2 73.4h1.4v1.4h-1.4zM51.7 101.8h1.4v1.4h-1.4zM68.8 99.1h1.4v1.4h-1.4zM48.1 108.8h1.4v1.4h-1.4zM107.2 85.3h1.4v1.4h-1.4zM44.4 116.9h1.4v1.4h-1.4zM42.0 110.4h1.4v1.4h-1.4zM84.2 93.4h1.4v1.4h-1.4zM83.7 101.1h1.4v1.4h-1.4zM40.2 113.0h1.4v1.4h-1.4zM186.2 69.5h1.4v1.4h-1.4zM62.9 100.0h1.4v1.4h-1.4zM95.5 101.0h1.4v1.4h-1.4zM41.9 113.6h1.4v1.4h-1.4zM96.0 91.0h1.4v1.4h-1.4zM75.8 93.1h1.4v1.4h-1.4zM76.2 101.7h1.4v1.4h-1.4zM83.8 94.2h1.4v1.4h-1.4zM87.8 87.7h1.4v1.4h-1.4zM105.4 85.4h1.4v1.4h-1.4zM120.3 91.3h1.4v1.4h-1.4zM80.3 96.8h1.4v1.4h-1.4zM50.8 108.1h1.4v1.4h-1.4zM48.2 115.5h1.4v1.4h-1.4zM71.4 98.3h1.4v1.4h-1.4zM92.4 86.7h1.4v1.4h-1.4zM74.1 95.2h1.4v1.4h-1.4zM77.3 94.0h1.4v1.4h-1.4zM60.2 100.5h1.4v1.4h-1.4zM90.2 92.5h1.4v1.4h-1.4zM51.6 111.4h1.4v1.4h-1.4zM98.2 84.5h1.4v1.4h-1.4zM126.9 79.3h1.4v1.4h-1.4zM102.1 82.2h1.4v1.4h-1.4zM55.5 107.0h1.4v1.4h-1.4zM79.0 96.8h1.4v1.4h-1.4zM163.3 58.0h1.4v1.4h-1.4zM59.6 98.4h1.4v1.4h-1.4zM127.3 84.9h1.4v1.4h-1.4zM76.6 93.1h1.4v1.4h-1.4zM88.9 87.2h1.4v1.4h-1.4zM73.5 91.4h1.4v1.4h-1.4zM47.5 109.3h1.4v1.4h-1.4zM90.6 92.4h1.4v1.4h-1.4zM38.5 113.3h1.4v1.4h-1.4zM149.3 59.7h1.4v1.4h-1.4zM138.7 74.9h1.4v1.4h-1.4zM73.5 97.4h1.4v1.4h-1.4zM94.8 91.6h1.4v1.4h-1.4zM90.4 83.3h1.4v1.4h-1.4zM210.7 66.6h1.4v1.4h-1.4zM50.9 104.1h1.4v1.4h-1.4zM84.9 95.7h1.4v1.4h-1.4zM77.8 100.8h1.4v1.4h-1.4zM130.5 68.8h1.4v1.4h-1.4zM127.8 80.8h1.4v1.4h-1.4zM74.9 95.9h1.4v1.4h-1.4zM37.2 122.6h1.4v1.4h-1.4zM91.0 103.5h1.4v1.4h-1.4zM66.6 98.0h1.4v1.4h-1.4zM58.1 101.1h1.4v1.4h-1.4zM89.4 93.5h1.4v1.4h-1.4zM78.3 113.5h1.4v1.4h-1.4zM71.1 93.8h1.4v1.4h-1.4zM74.7 85.2h1.4v1.4h-1.4zM103.2 80.5h1.4v1.4h-1.4zM48.3 110.3h1.4v1.4h-1.4zM67.8 102.3h1.4v1.4h-1.4zM159.7 68.4h1.4v1.4h-1.4zM85.0 87.3h1.4v1.4h-1.4zM53.9 103.0h1.4v1.4h-1.4zM92.7 83.5h1.4v1.4h-1.4zM156.6 76.0h1.4v1.4h-1.4zM132.5 73.5h1.4v1.4h-1.4zM116.1 92.5h1.4v1.4h-1.4zM167.0 65.4h1.4v1.4h-1.4zM118.8 77.8h1.4v1.4h-1.4zM126.8 79.6h1.4v1.4h-1.4zM86.2 96.5h1.4v1.4h-1.4zM54.3 102.6h1.4v1.4h-1.4zM116.3 89.2h1.4v1.4h-1.4zM104.0 88.2h1.4v1.4h-1.4zM177.6 59.1h1.4v1.4h-1.4zM80.9 87.6h1.4v1.4h-1.4zM150.7 75.1h1.4v1.4h-1.4zM58.9 107.2h1.4v1.4h-1.4zM177.8 66.2h1.4v1.4h-1.4zM233.3 62.4h1.4v1.4h-1.4zM59.5 109.7h1.4v1.4h-1.4zM73.1 100.0h1.4v1.4h-1.4zM252.1 59.2h1.4v1.4h-1.4zM179.3 69.1h1.4v1.4h-1.4zM120.4 84.6h1.4v1.4h-1.4zM54.1 101.1h1.4v1.4h-1.4zM40.6 120.6h1.4v1.4h-1.4zM50.8 111.7h1.4v1.4h-1.4zM181.4 61.5h1.4v1.4h-1.4zM146.9 77.2h1.4v1.4h-1.4zM66.5 96.1h1.4v1.4h-1.4zM116.8 83.6h1.4v1.4h-1.4zM163.8 81.9h1.4v1.4h-1.4zM81.5 95.9h1.4v1.4h-1.4zM140.4 83.4h1.4v1.4h-1.4zM76.5 93.2h1.4v1.4h-1.4zM79.1 94.8h1.4v1.4h-1.4zM56.7 103.8h1.4v1.4h-1.4zM63.1 98.0h1.4v1.4h-1.4zM96.6 96.8h1.4v1.4h-1.4zM39.7 116.9h1.4v1.4h-1.4zM86.7 87.8h1.4v1.4h-1.4zM45.9 110.9h1.4v1.4h-1.4zM114.2 84.6h1.4v1.4h-1.4zM46.3 108.2h1.4v1.4h-1.4zM53.2 108.1h1.4v1.4h-1.4zM68.4 93.5h1.4v1.4h-1.4zM99.0 87.9h1.4v1.4h-1.4zM149.4 96.9h1.4v1.4h-1.4zM110.2 90.1h1.4v1.4h-1.4zM114.0 79.8h1.4v1.4h-1.4zM119.7 88.4h1.4v1.4h-1.4zM87.3 89.4h1.4v1.4h-1.4zM67.1 99.8h1.4v1.4h-1.4zM54.4 108.4h1.4v1.4h-1.4zM139.9 80.3h1.4v1.4h-1.4zM84.1 94.0h1.4v1.4h-1.4zM99.0 86.8h1.4v1.4h-1.4zM58.5 101.9h1.4v1.4h-1.4zM71.7 94.5h1.4v1.4h-1.4zM50.0 109.0h1.4v1.4h-1.4zM83.0 83.3h1.4v1.4h-1.4zM122.4 101.1h1.4v1.4h-1.4zM84.4 89.2h1.4v1.4h-1.4zM114.3 85.4h1.4v1.4h-1.4zM44.2 110.3h1.4v1.4h-1.4zM79.1 86.7h1.4v1.4h-1.4zM66.7 105.2h1.4v1.4h-1.4zM88.0 95.3h1.4v1.4h-1.4zM50.3 105.8h1.4v1.4h-1.4zM124.0 83.3h1.4v1.4h-1.4zM139.0 80.2h1.4v1.4h-1.4zM147.8 81.4h1.4v1.4h-1.4zM39.2 118.1h1.4v1.4h-1.4zM70.3 97.0h1.4v1.4h-1.4zM75.9 99.5h1.4v1.4h-1.4zM99.8 84.9h1.4v1.4h-1.4zM44.9 113.4h1.4v1.4h-1.4zM121.8 92.2h1.4v1.4h-1.4zM67.7 101.3h1.4v1.4h-1.4zM197.3 73.5h1.4v1.4h-1.4zM39.5 116.6h1.4v1.4h-1.4zM68.5 102.2h1.4v1.4h-1.4zM64.9 92.5h1.4v1.4h-1.4zM135.7 67.1h1.4v1.4h-1.4zM115.7 101.9h1.4v1.4h-1.4zM54.4 100.0h1.4v1.4h-1.4zM78.8 91.7h1.4v1.4h-1.4zM124.5 78.7h1.4v1.4h-1.4zM73.8 94.4h1.4v1.4h-1.4zM78.0 98.0h1.4v1.4h-1.4zM165.7 66.7h1.4v1.4h-1.4zM137.6 73.8h1.4v1.4h-1.4zM68.8 93.8h1.4v1.4h-1.4zM95.2 100.2h1.4v1.4h-1.4zM168.7 78.0h1.4v1.4h-1.4zM44.6 113.5h1.4v1.4h-1.4zM167.5 54.7h1.4v1.4h-1.4zM131.4 77.8h1.4v1.4h-1.4zM112.7 100.4h1.4v1.4h-1.4zM123.6 85.5h1.4v1.4h-1.4z" fill="#111"/>
<path d="M341.0 93.3h1.4v1.4h-1.4zM450.9 60.5h1.4v1.4h-1.4zM312.9 101.8h1.4v1.4h-1.4zM320.8 95.3h1.4v1.4h-1.4zM331.5 87.8h1.4v1.4h-1.4zM327.0 100.2h1.4v1.4h-1.4zM379.0 81.1h1.4v1.4h-1.4zM318.8 101.4h1.4v1.4h-1.4zM411.0 60.3h1.4v1.4h-1.4zM400.9 84.6h1.4v1.4h-1.4zM294.3 121.0h1.4v1.4h-1.4zM360.1 91.4h1.4v1.4h-1.4zM322.9 102.7h1.4v1.4h-1.4zM340.9 95.9h1.4v1.4h-1.4zM339.4 90.8h1.4v1.4h-1.4zM358.8 87.2h1.4v1.4h-1.4zM363.8 88.2h1.4v1.4h-1.4zM426.3 71.1h1.4v1.4h-1.4zM334.2 90.0h1.4v1.4h-1.4zM309.2 99.4h1.4v1.4h-1.4zM373.2 74.0h1.4v1.4h-1.4zM449.5 56.0h1.4v1.4h-1.4zM412.4 56.1h1.4v1.4h-1.4zM420.8 73.5h1.4v1.4h-1.4zM308.9 113.3h1.4v1.4h-1.4zM421.3 68.8h1.4v1.4h-1.4zM376.6 87.4h1.4v1.4h-1.4zM394.9 73.5h1.4v1.4h-1.4zM327.1 97.6h1.4v1.4h-1.4zM321.8 101.1h1.4v1.4h-1.4zM392.0 69.9h1.4v1.4h-1.4zM374.2 82.8h1.4v1.4h-1.4zM391.6 65.3h1.4v1.4h-1.4zM306.0 110.0h1.4v1.4h-1.4zM313.4 106.0h1.4v1.4h-1.4zM372.9 85.5h1.4v1.4h-1.4zM297.8 118.2h1.4v1.4h-1.4zM450.1 53.5h1.4v1.4h-1.4zM311.2 99.4h1.4v1.4h-1.4zM359.5 85.5h1.4v1.4h-1.4zM335.5 91.2h1.4v1.4h-1.4zM331.1 97.8h1.4v1.4h-1.4zM320.3 104.5h1.4v1.4h-1.4zM389.7 79.3h1.4v1.4h-1.4zM420.4 64.3h1.4v1.4h-1.4zM368.0 86.9h1.4v1.4h-1.4zM362.0 97.9h1.4v1.4h-1.4zM379.8 75.8h1.4v1.4h-1.4zM360.9 87.1h1.4v1.4h-1.4zM365.4 94.2h1.4v1.4h-1.4zM431.6 63.9h1.4v1.4h-1.4zM342.9 94.8h1.4v1.4h-1.4zM317.7 102.6h1.4v1.4h-1.4zM451.9 52.4h1.4v1.4h-1.4zM450.5 74.9h1.4v1.4h-1.4zM361.1 87.0h1.4v1.4h-1.4zM396.3 72.5h1.4v1.4h-1.4zM379.2 89.1h1.4v1.4h-1.4zM441.9 69.1h1.4v1.4h-1.4zM317.4 108.6h1.4v1.4h-1.4zM428.1 65.2h1.4v1.4h-1.4zM351.3 90.9h1.4v1.4h-1.4zM353.7 95.5h1.4v1.4h-1.4zM378.9 82.1h1.4v1.4h-1.4zM346.0 103.8h1.4v1.4h-1.4zM338.8 92.6h1.4v1.4h-1.4zM327.3 94.1h1.4v1.4h-1.4zM415.9 70.3h1.4v1.4h-1.4zM400.2 71.3h1.4v1.4h-1.4zM316.7 108.0h1.4v1.4h-1.4zM330.2 96.2h1.4v1.4h-1.4zM379.0 81.5h1.4v1.4h-1.4zM415.7 68.1h1.4v1.4h-1.4zM434.8 70.4h1.4v1.4h-1.4zM333.1 90.0h1.4v1.4h-1.4zM418.8 58.7h1.4v1.4h-1.4zM382.4 82.7h1.4v1.4h-1.4zM302.7 115.9h1.4v1.4h-1.4zM304.4 106.2h1.4v1.4h-1.4zM304.5 108.5h1.4v1.4h-1.4zM313.7 108.8h1.4v1.4h-1.4zM379.3 77.7h1.4v1.4h-1.4zM344.8 95.4h1.4v1.4h-1.4zM373.4 84.6h1.4v1.4h-1.4zM318.2 102.9h1.4v1.4h-1.4zM406.0 70.5h1.4v1.4h-1.4zM383.2 67.7h1.4v1.4h-1.4zM394.9 75.9h1.4v1.4h-1.4zM362.8 81.4h1.4v1.4h-1.4zM362.1 90.5h1.4v1.4h-1.4zM317.2 106.6h1.4v1.4h-1.4zM442.8 70.2h1.4v1.4h-1.4zM315.6 100.8h1.4v1.4h-1.4zM356.7 92.4h1.4v1.4h-1.4zM320.5 95.6h1.4v1.4h-1.4zM323.3 96.4h1.4v1.4h-1.4zM373.6 86.3h1.4v1.4h-1.4zM429.9 63.3h1.4v1.4h-1.4zM348.8 97.9h1.4v1.4h-1.4zM390.6 83.3h1.4v1.4h-1.4zM404.9 98.2h1.4v1.4h-1.4zM350.0 94.7h1.4v1.4h-1.4zM390.3 74.0h1.4v1.4h-1.4zM328.5 93.5h1.4v1.4h-1.4zM323.3 103.7h1.4v1.4h-1.4zM304.6 113.2h1.4v1.4h-1.4zM298.9 114.8h1.4v1.4h-1.4zM323.1 101.9h1.4v1.4h-1.4zM367.9 89.8h1.4v1.4h-1.4zM430.3 64.1h1.4v1.4h-1.4zM305.6 105.1h1.4v1.4h-1.4zM382.0 77.5h1.4v1.4h-1.4zM389.3 69.2h1.4v1.4h-1.4zM367.2 82.8h1.4v1.4h-1.4zM351.9 94.5h1.4v1.4h-1.4zM349.8 92.6h1.4v1.4h-1.4zM375.6 80.2h1.4v1.4h-1.4zM334.2 100.9h1.4v1.4h-1.4zM368.3 93.2h1.4v1.4h-1.4zM315.0 103.7h1.4v1.4h-1.4zM322.5 96.1h1.4v1.4h-1.4zM427.0 65.8h1.4v1.4h-1.4zM316.0 98.6h1.4v1.4h-1.4zM314.2 105.6h1.4v1.4h-1.4zM304.9 112.5h1.4v1.4h-1.4zM298.7 115.5h1.4v1.4h-1.4zM315.1 106.4h1.4v1.4h-1.4zM417.8 66.6h1.4v1.4h-1.4zM375.3 80.1h1.4v1.4h-1.4zM331.1 91.3h1.4v1.4h-1.4zM300.4 111.0h1.4v1.4h-1.4zM402.0 64.1h1.4v1.4h-1.4zM348.5 88.3h1.4v1.4h-1.4zM405.7 65.8h1.4v1.4h-1.4zM355.5 86.7h1.4v1.4h-1.4zM305.8 109.6h1.4v1.4h-1.4zM313.1 103.0h1.4v1.4h-1.4zM406.9 73.5h1.4v1.4h-1.4zM313.8 99.8h1.4v1.4h-1.4zM310.3 104.0h1.4v1.4h-1.4zM324.5 93.8h1.4v1.4h-1.4zM333.3 94.0h1.4v1.4h-1.4zM343.5 87.8h1.4v1.4h-1.4zM391.0 85.5h1.4v1.4h-1.4zM364.5 98.4h1.4v1.4h-1.4zM460.6 65.8h1.4v1.4h-1.4zM317.6 99.4h1.4v1.4h-1.4zM341.9 91.5h1.4v1.4h-1.4zM429.1 54.6h1.4v1.4h-1.4zM337.9 96.5h1.4v1.4h-1.4zM379.9 84.2h1.4v1.4h-1.4zM332.5 95.0h1.4v1.4h-1.4zM338.5 101.8h1.4v1.4h-1.4zM424.2 70.0h1.4v1.4h-1.4zM337.5 93.4h1.4v1.4h-1.4zM351.0 90.3h1.4v1.4h-1.4zM346.1 97.4h1.4v1.4h-1.4zM302.6 114.5h1.4v1.4h-1.4zM302.8 107.2h1.4v1.4h-1.4zM330.9 103.7h1.4v1.4h-1.4zM295.6 125.5h1.4v1.4h-1.4zM383.4 74.7h1.4v1.4h-1.4zM352.1 85.3h1.4v1.4h-1.4zM342.9 90.1h1.4v1.4h-1.4zM328.3 98.1h1.4v1.4h-1.4zM320.6 104.2h1.4v1.4h-1.4zM338.7 91.3h1.4v1.4h-1.4zM393.4 69.1h1.4v1.4h-1.4zM307.2 109.5h1.4v1.4h-1.4zM373.7 85.2h1.4v1.4h-1.4zM372.5 80.5h1.4v1.4h-1.4zM321.9 95.2h1.4v1.4h-1.4zM327.2 103.0h1.4v1.4h-1.4zM311.6 103.5h1.4v1.4h-1.4zM350.5 96.3h1.4v1.4h-1.4zM337.8 90.9h1.4v1.4h-1.4zM318.8 103.0h1.4v1.4h-1.4zM337.5 93.2h1.4v1.4h-1.4zM334.5 88.8h1.4v1.4h-1.4zM457.4 70.5h1.4v1.4h-1.4zM354.9 97.6h1.4v1.4h-1.4zM348.2 80.0h1.4v1.4h-1.4zM357.2 83.0h1.4v1.4h-1.4zM358.8 86.4h1.4v1.4h-1.4zM445.1 68.0h1.4v1.4h-1.4zM332.5 98.9h1.4v1.4h-1.4zM314.6 101.1h1.4v1.4h-1.4zM304.0 112.8h1.4v1.4h-1.4zM298.3 117.3h1.4v1.4h-1.4zM322.9 103.6h1.4v1.4h-1.4zM348.9 94.6h1.4v1.4h-1.4zM323.8 103.6h1.4v1.4h-1.4zM402.5 68.4h1.4v1.4h-1.4zM446.3 57.6h1.4v1.4h-1.4zM306.8 107.3h1.4v1.4h-1.4zM401.2 65.3h1.4v1.4h-1.4zM388.4 84.4h1.4v1.4h-1.4zM472.9 59.9h1.4v1.4h-1.4zM307.5 103.1h1.4v1.4h-1.4zM382.5 73.0h1.4v1.4h-1.4zM336.0 88.0h1.4v1.4h-1.4zM309.5 100.9h1.4v1.4h-1.4zM338.9 99.3h1.4v1.4h-1.4zM414.4 70.8h1.4v1.4h-1.4zM350.3 94.9h1.4v1.4h-1.4zM330.6 97.4h1.4v1.4h-1.4zM406.4 66.1h1.4v1.4h-1.4zM395.5 74.1h1.4v1.4h-1.4zM414.0 59.8h1.4v1.4h-1.4zM300.5 117.5h1.4v1.4h-1.4zM457.6 70.6h1.4v1.4h-1.4zM372.2 84.8h1.4v1.4h-1.4zM430.4 65.5h1.4v1.4h-1.4zM401.2 68.8h1.4v1.4h-1.4zM411.8 63.3h1.4v1.4h-1.4zM424.5 56.9h1.4v1.4h-1.4zM376.8 86.5h1.4v1.4h-1.4zM309.9 105.4h1.4v1.4h-1.4zM374.7 79.3h1.4v1.4h-1.4zM318.8 106.9h1.4v1.4h-1.4zM328.3 89.8h1.4v1.4h-1.4zM344.9 99.0h1.4v1.4h-1.4zM339.2 94.0h1.4v1.4h-1.4zM391.1 74.9h1.4v1.4h-1.4zM428.7 64.5h1.4v1.4h-1.4zM426.8 62.6h1.4v1.4h-1.4zM353.7 94.7h1.4v1.4h-1.4zM375.7 86.5h1.4v1.4h-1.4zM323.3 99.3h1.4v1.4h-1.4zM335.8 99.0h1.4v1.4h-1.4zM396.9 72.8h1.4v1.4h-1.4zM364.7 87.1h1.4v1.4h-1.4zM359.4 86.5h1.4v1.4h-1.4zM400.2 68.5h1.4v1.4h-1.4zM318.4 96.3h1.4v1.4h-1.4zM392.2 80.1h1.4v1.4h-1.4zM368.5 76.3h1.4v1.4h-1.4zM313.1 104.0h1.4v1.4h-1.4zM341.9 87.5h1.4v1.4h-1.4zM416.8 67.1h1.4v1.4h-1.4zM327.5 94.7h1.4v1.4h-1.4zM298.3 121.4h1.4v1.4h-1.4zM303.7 111.7h1.4v1.4h-1.4zM351.5 85.4h1.4v1.4h-1.4zM320.9 100.8h1.4v1.4h-1.4zM321.7 101.1h1.4v1.4h-1.4zM313.1 103.1h1.4v1.4h-1.4zM393.7 75.1h1.4v1.4h-1.4zM442.2 63.9h1.4v1.4h-1.4zM321.9 102.5h1.4v1.4h-1.4zM364.3 84.3h1.4v1.4h-1.4zM383.3 69.6h1.4v1.4h-1.4zM308.6 104.7h1.4v1.4h-1.4zM425.3 51.9h1.4v1.4h-1.4zM375.0 85.9h1.4v1.4h-1.4zM376.7 81.6h1.4v1.4h-1.4zM356.6 94.4h1.4v1.4h-1.4zM408.4 73.8h1.4v1.4h-1.4zM397.2 68.4h1.4v1.4h-1.4zM336.5 98.8h1.4v1.4h-1.4zM340.3 90.9h1.4v1.4h-1.4zM458.7 65.2h1.4v1.4h-1.4zM355.4 98.2h1.4v1.4h-1.4zM326.6 95.1h1.4v1.4h-1.4zM425.8 69.5h1.4v1.4h-1.4zM367.2 87.4h1.4v1.4h-1.4zM380.4 80.6h1.4v1.4h-1.4zM409.5 66.3h1.4v1.4h-1.4zM391.4 69.8h1.4v1.4h-1.4zM368.3 81.7h1.4v1.4h-1.4zM467.5 55.9h1.4v1.4h-1.4zM396.4 77.7h1.4v1.4h-1.4zM393.5 68.3h1.4v1.4h-1.4zM396.3 68.8h1.4v1.4h-1.4zM318.3 103.5h1.4v1.4h-1.4zM466.5 70.1h1.4v1.4h-1.4zM388.5 87.4h1.4v1.4h-1.4zM314.7 99.9h1.4v1.4h-1.4zM378.3 69.9h1.4v1.4h-1.4zM372.2 79.2h1.4v1.4h-1.4zM355.4 91.6h1.4v1.4h-1.4zM327.1 103.4h1.4v1.4h-1.4zM357.7 85.9h1.4v1.4h-1.4zM306.2 107.2h1.4v1.4h-1.4zM341.3 98.9h1.4v1.4h-1.4zM350.2 96.4h1.4v1.4h-1.4zM368.5 79.0h1.4v1.4h-1.4zM366.1 78.9h1.4v1.4h-1.4zM419.0 70.2h1.4v1.4h-1.4zM422.2 64.5h1.4v1.4h-1.4zM416.8 73.6h1.4v1.4h-1.4zM365.9 88.0h1.4v1.4h-1.4zM339.0 93.3h1.4v1.4h-1.4zM302.0 111.8h1.4v1.4h-1.4zM346.6 91.3h1.4v1.4h-1.4zM356.2 94.8h1.4v1.4h-1.4zM296.2 119.3h1.4v1.4h-1.4zM313.3 103.4h1.4v1.4h-1.4zM447.3 60.9h1.4v1.4h-1.4zM375.4 84.9h1.4v1.4h-1.4zM420.5 66.4h1.4v1.4h-1.4zM328.9 100.4h1.4v1.4h-1.4zM335.1 97.0h1.4v1.4h-1.4zM354.6 83.3h1.4v1.4h-1.4zM326.2 106.4h1.4v1.4h-1.4zM314.2 105.5h1.4v1.4h-1.4zM360.6 89.9h1.4v1.4h-1.4zM369.1 80.5h1.4v1.4h-1.4zM325.3 99.1h1.4v1.4h-1.4zM411.3 70.7h1.4v1.4h-1.4zM425.9 70.1h1.4v1.4h-1.4zM300.6 114.9h1.4v1.4h-1.4zM325.8 90.8h1.4v1.4h-1.4zM365.9 83.8h1.4v1.4h-1.4zM342.0 92.3h1.4v1.4h-1.4zM439.6 66.8h1.4v1.4h-1.4zM338.8 90.6h1.4v1.4h-1.4zM419.5 74.0h1.4v1.4h-1.4zM323.6 96.5h1.4v1.4h-1.4zM418.2 68.4h1.4v1.4h-1.4zM308.6 114.1h1.4v1.4h-1.4zM394.8 84.7h1.4v1.4h-1.4zM399.8 75.7h1.4v1.4h-1.4zM355.0 85.9h1.4v1.4h-1.4zM333.0 95.9h1.4v1.4h-1.4zM335.5 100.6h1.4v1.4h-1.4zM313.7 98.7h1.4v1.4h-1.4zM324.7 102.9h1.4v1.4h-1.4zM363.8 89.1h1.4v1.4h-1.4zM357.2 89.0h1.4v1.4h-1.4zM347.2 87.4h1.4v1.4h-1.4zM412.8 73.3h1.4v1.4h-1.4zM319.6 101.7h1.4v1.4h-1.4zM405.3 63.2h1.4v1.4h-1.4zM398.6 68.5h1.4v1.4h-1.4zM341.2 94.4h1.4v1.4h-1.4zM305.0 112.5h1.4v1.4h-1.4zM410.5 69.5h1.4v1.4h-1.4zM375.2 74.8h1.4v1.4h-1.4zM360.3 79.0h1.4v1.4h-1.4zM422.6 56.4h1.4v1.4h-1.4zM340.3 95.4h1.4v1.4h-1.4zM375.2 75.0h1.4v1.4h-1.4zM372.6 87.4h1.4v1.4h-1.4zM326.9 98.2h1.4v1.4h-1.4zM399.2 68.2h1.4v1.4h-1.4zM311.4 101.8h1.4v1.4h-1.4zM331.2 104.4h1.4v1.4h-1.4zM360.8 93.4h1.4v1.4h-1.4zM453.0 62.4h1.4v1.4h-1.4zM371.2 88.3h1.4v1.4h-1.4zM304.0 111.7h1.4v1.4h-1.4zM360.0 87.5h1.4v1.4h-1.4zM322.3 103.8h1.4v1.4h-1.4zM340.1 86.1h1.4v1.4h-1.4zM435.7 67.2h1.4v1.4h-1.4zM327.2 95.4h1.4v1.4h-1.4zM312.5 105.1h1.4v1.4h-1.4zM411.0 69.7h1.4v1.4h-1.4zM308.5 106.3h1.4v1.4h-1.4zM353.0 93.5h1.4v1.4h-1.4zM339.5 100.1h1.4v1.4h-1.4zM443.6 70.4h1.4v1.4h-1.4zM381.2 80.2h1.4v1.4h-1.4zM396.4 73.2h1.4v1.4h-1.4zM310.4 110.8h1.4v1.4h-1.4zM325.6 89.9h1.4v1.4h-1.4zM406.9 76.3h1.4v1.4h-1.4zM329.5 99.7h1.4v1.4h-1.4zM307.3 107.9h1.4v1.4h-1.4zM408.8 76.9h1.4v1.4h-1.4zM335.6 95.6h1.4v1.4h-1.4zM364.7 82.8h1.4v1.4h-1.4zM305.4 103.4h1.4v1.4h-1.4zM318.8 103.5h1.4v1.4h-1.4zM346.4 84.3h1.4v1.4h-1.4zM385.1 73.4h1.4v1.4h-1.4zM370.7 89.6h1.4v1.4h-1.4zM422.5 65.5h1.4v1.4h-1.4zM360.8 82.0h1.4v1.4h-1.4zM377.5 87.4h1.4v1.4h-1.4zM341.1 94.2h1.4v1.4h-1.4zM424.7 63.0h1.4v1.4h-1.4zM336.4 98.7h1.4v1.4h-1.4zM322.1 103.6h1.4v1.4h-1.4zM313.3 105.9h1.4v1.4h-1.4zM322.8 90.9h1.4v1.4h-1.4zM388.4 60.5h1.4v1.4h-1.4zM315.6 104.3h1.4v1.4h-1.4zM353.7 88.7h1.4v1.4h-1.4zM340.9 95.9h1.4v1.4h-1.4zM404.7 72.4h1.4v1.4h-1.4zM342.5 96.2h1.4v1.4h-1.4zM337.1 92.1h1.4v1.4h-1.4zM343.4 93.8h1.4v1.4h-1.4zM313.7 104.1h1.4v1.4h-1.4zM386.9 78.1h1.4v1.4h-1.4zM355.4 74.8h1.4v1.4h-1.4zM373.4 84.1h1.4v1.4h-1.4zM319.0 109.7h1.4v1.4h-1.4zM389.8 84.8h1.4v1.4h-1.4zM350.6 90.4h1.4v1.4h-1.4zM450.0 51.6h1.4v1.4h-1.4zM474.6 47.1h1.4v1.4h-1.4zM299.1 113.5h1.4v1.4h-1.4zM360.6 89.9h1.4v1.4h-1.4zM333.4 90.3h1.4v1.4h-1.4zM375.1 85.8h1.4v1.4h-1.4zM319.0 101.5h1.4v1.4h-1.4zM348.6 89.2h1.4v1.4h-1.4zM379.7 75.4h1.4v1.4h-1.4zM362.4 95.7h1.4v1.4h-1.4zM330.8 96.9h1.4v1.4h-1.4zM386.4 80.5h1.4v1.4h-1.4zM417.2 65.6h1.4v1.4h-1.4zM331.9 91.5h1.4v1.4h-1.4zM304.7 110.2h1.4v1.4h-1.4zM330.5 103.5h1.4v1.4h-1.4zM342.2 89.1h1.4v1.4h-1.4zM334.0 98.3h1.4v1.4h-1.4zM442.8 59.9h1.4v1.4h-1.4zM336.2 98.4h1.4v1.4h-1.4zM310.3 100.1h1.4v1.4h-1.4zM299.8 110.9h1.4v1.4h-1.4zM360.2 83.5h1.4v1.4h-1.4zM327.7 98.4h1.4v1.4h-1.4zM355.5 90.4h1.4v1.4h-1.4zM372.0 83.9h1.4v1.4h-1.4zM323.7 108.0h1.4v1.4h-1.4zM316.5 101.8h1.4v1.4h-1.4zM431.6 67.3h1.4v1.4h-1.4zM319.8 98.7h1.4v1.4h-1.4zM333.7 94.4h1.4v1.4h-1.4zM298.1 120.6h1.4v1.4h-1.4zM365.8 87.4h1.4v1.4h-1.4zM335.5 93.6h1.4v1.4h-1.4zM386.1 92.5h1.4v1.4h-1.4zM330.6 95.0h1.4v1.4h-1.4zM403.3 64.0h1.4v1.4h-1.4zM340.4 95.6h1.4v1.4h-1.4zM404.7 77.8h1.4v1.4h-1.4zM308.9 107.2h1.4v1.4h-1.4zM344.2 93.1h1.4v1.4h-1.4zM339.1 88.7h1.4v1.4h-1.4zM328.2 97.1h1.4v1.4h-1.4zM305.8 104.6h1.4v1.4h-1.4zM339.7 90.0h1.4v1.4h-1.4zM437.0 59.7h1.4v1.4h-1.4zM307.3 106.2h1.4v1.4h-1.4zM356.4 92.0h1.4v1.4h-1.4zM415.6 70.5h1.4v1.4h-1.4zM349.0 91.9h1.4v1.4h-1.4zM353.0 93.3h1.4v1.4h-1.4zM352.0 99.2h1.4v1.4h-1.4zM308.5 104.5h1.4v1.4h-1.4zM318.4 108.3h1.4v1.4h-1.4zM368.6 83.8h1.4v1.4h-1.4zM354.9 89.7h1.4v1.4h-1.4zM339.7 99.2h1.4v1.4h-1.4zM357.1 94.5h1.4v1.4h-1.4zM454.9 61.2h1.4v1.4h-1.4zM302.1 110.4h1.4v1.4h-1.4zM406.2 78.7h1.4v1.4h-1.4zM425.3 64.7h1.4v1.4h-1.4zM358.5 95.3h1.4v1.4h-1.4zM308.8 107.0h1.4v1.4h-1.4zM352.7 85.0h1.4v1.4h-1.4zM397.7 90.3h1.4v1.4h-1.4zM374.8 77.1h1.4v1.4h-1.4zM405.0 63.6h1.4v1.4h-1.4zM350.2 84.2h1.4v1.4h-1.4zM299.0 115.7h1.4v1.4h-1.4zM316.7 103.4h1.4v1.4h-1.4zM400.7 69.4h1.4v1.4h-1.4zM351.3 89.5h1.4v1.4h-1.4zM413.1 61.7h1.4v1.4h-1.4zM402.7 65.9h1.4v1.4h-1.4zM388.5 74.1h1.4v1.4h-1.4zM360.6 97.7h1.4v1.4h-1.4zM410.2 61.7h1.4v1.4h-1.4zM316.8 101.6h1.4v1.4h-1.4zM340.0 92.3h1.4v1.4h-1.4zM386.7 74.8h1.4v1.4h-1.4zM365.1 87.7h1.4v1.4h-1.4zM317.4 104.1h1.4v1.4h-1.4zM342.4 95.5h1.4v1.4h-1.4zM313.5 102.0h1.4v1.4h-1.4zM390.3 73.8h1.4v1.4h-1.4zM303.8 112.5h1.4v1.4h-1.4zM377.6 77.3h1.4v1.4h-1.4zM302.8 106.1h1.4v1.4h-1.4zM301.8 107.9h1.4v1.4h-1.4zM310.7 104.9h1.4v1.4h-1.4zM328.5 96.8h1.4v1.4h-1.4zM389.8 79.5h1.4v1.4h-1.4zM429.2 65.6h1.4v1.4h-1.4zM356.0 92.1h1.4v1.4h-1.4zM409.9 94.4h1.4v1.4h-1.4zM386.9 79.0h1.4v1.4h-1.4zM442.5 58.6h1.4v1.4h-1.4zM307.1 112.2h1.4v1.4h-1.4zM330.8 103.5h1.4v1.4h-1.4zM344.2 87.7h1.4v1.4h-1.4zM405.4 83.7h1.4v1.4h-1.4zM421.0 66.8h1.4v1.4h-1.4zM405.5 60.7h1.4v1.4h-1.4zM449.3 61.8h1.4v1.4h-1.4zM299.3 114.8h1.4v1.4h-1.4zM304.7 110.7h1.4v1.4h-1.4zM321.6 100.2h1.4v1.4h-1.4zM334.6 101.3h1.4v1.4h-1.4zM339.0 91.8h1.4v1.4h-1.4zM327.1 98.4h1.4v1.4h-1.4zM312.4 99.3h1.4v1.4h-1.4zM352.0 94.9h1.4v1.4h-1.4zM370.7 85.8h1.4v1.4h-1.4zM410.4 68.1h1.4v1.4h-1.4zM304.4 109.4h1.4v1.4h-1.4zM471.8 57.8h1.4v1.4h-1.4zM331.6 103.9h1.4v1.4h-1.4zM344.4 88.6h1.4v1.4h-1.4zM425.7 74.5h1.4v1.4h-1.4zM305.2 109.7h1.4v1.4h-1.4zM329.3 92.5h1.4v1.4h-1.4zM331.2 95.5h1.4v1.4h-1.4zM319.5 99.5h1.4v1.4h-1.4zM309.4 105.1h1.4v1.4h-1.4zM321.1 98.4h1.4v1.4h-1.4zM349.8 93.3h1.4v1.4h-1.4zM317.9 103.0h1.4v1.4h-1.4zM302.5 115.0h1.4v1.4h-1.4zM447.0 74.8h1.4v1.4h-1.4zM356.4 89.5h1.4v1.4h-1.4zM344.5 93.5h1.4v1.4h-1.4zM436.7 54.0h1.4v1.4h-1.4zM373.7 78.6h1.4v1.4h-1.4zM340.0 89.7h1.4v1.4h-1.4zM389.6 61.9h1.4v1.4h-1.4zM305.3 107.8h1.4v1.4h-1.4zM342.4 92.7h1.4v1.4h-1.4zM448.8 68.8h1.4v1.4h-1.4zM356.4 91.7h1.4v1.4h-1.4zM315.7 99.3h1.4v1.4h-1.4zM308.6 107.5h1.4v1.4h-1.4zM416.0 70.3h1.4v1.4h-1.4zM324.6 100.0h1.4v1.4h-1.4zM432.4 63.8h1.4v1.4h-1.4zM332.1 97.6h1.4v1.4h-1.4zM360.3 89.9h1.4v1.4h-1.4zM339.3 102.8h1.4v1.4h-1.4zM406.0 64.6h1.4v1.4h-1.4zM395.3 73.0h1.4v1.4h-1.4zM449.9 68.8h1.4v1.4h-1.4zM353.3 88.9h1.4v1.4h-1.4zM377.8 82.5h1.4v1.4h-1.4zM316.5 97.4h1.4v1.4h-1.4zM366.6 94.8h1.4v1.4h-1.4zM375.3 76.0h1.4v1.4h-1.4zM373.7 83.4h1.4v1.4h-1.4zM339.2 93.6h1.4v1.4h-1.4zM297.2 115.3h1.4v1.4h-1.4zM355.0 93.9h1.4v1.4h-1.4zM388.5 82.2h1.4v1.4h-1.4zM357.3 89.8h1.4v1.4h-1.4zM305.2 111.8h1.4v1.4h-1.4zM330.8 97.0h1.4v1.4h-1.4zM306.5 114.6h1.4v1.4h-1.4zM426.1 79.7h1.4v1.4h-1.4zM386.0 80.7h1.4v1.4h-1.4zM351.9 93.6h1.4v1.4h-1.4zM387.8 79.8h1.4v1.4h-1.4zM463.5 56.5h1.4v1.4h-1.4zM436.1 64.6h1.4v1.4h-1.4zM300.3 117.5h1.4v1.4h-1.4zM305.9 105.2h1.4v1.4h-1.4zM473.4 52.4h1.4v1.4h-1.4zM340.3 97.5h1.4v1.4h-1.4zM381.7 79.1h1.4v1.4h-1.4zM339.6 94.0h1.4v1.4h-1.4zM398.7 70.8h1.4v1.4h-1.4zM386.4 76.3h1.4v1.4h-1.4zM340.1 89.9h1.4v1.4h-1.4zM377.6 73.9h1.4v1.4h-1.4zM298.4 110.0h1.4v1.4h-1.4zM306.2 112.3h1.4v1.4h-1.4zM359.5 91.6h1.4v1.4h-1.4zM429.3 65.0h1.4v1.4h-1.4zM461.9 54.3h1.4v1.4h-1.4zM310.0 109.9h1.4v1.4h-1.4zM327.8 103.5h1.4v1.4h-1.4zM304.3 113.0h1.4v1.4h-1.4zM417.0 61.4h1.4v1.4h-1.4zM339.0 103.4h1.4v1.4h-1.4zM332.7 104.3h1.4v1.4h-1.4zM332.3 98.4h1.4v1.4h-1.4zM340.6 93.4h1.4v1.4h-1.4zM357.6 80.7h1.4v1.4h-1.4zM318.5 105.8h1.4v1.4h-1.4zM322.1 104.4h1.4v1.4h-1.4zM338.7 93.8h1.4v1.4h-1.4zM312.6 103.2h1.4v1.4h-1.4zM433.5 70.6h1.4v1.4h-1.4zM303.2 111.1h1.4v1.4h-1.4zM427.7 58.9h1.4v1.4h-1.4zM325.0 102.9h1.4v1.4h-1.4zM466.7 63.7h1.4v1.4h-1.4zM305.0 109.0h1.4v1.4h-1.4zM363.6 95.9h1.4v1.4h-1.4zM382.5 89.4h1.4v1.4h-1.4zM298.3 114.1h1.4v1.4h-1.4zM362.0 84.8h1.4v1.4h-1.4zM357.1 88.1h1.4v1.4h-1.4zM396.1 73.7h1.4v1.4h-1.4zM335.1 99.9h1.4v1.4h-1.4zM366.2 91.3h1.4v1.4h-1.4zM297.9 118.9h1.4v1.4h-1.4zM385.6 71.9h1.4v1.4h-1.4zM433.2 64.5h1.4v1.4h-1.4zM391.6 70.2h1.4v1.4h-1.4zM391.7 70.8h1.4v1.4h-1.4zM377.8 78.5h1.4v1.4h-1.4zM344.2 101.5h1.4v1.4h-1.4zM413.7 74.0h1.4v1.4h-1.4zM306.6 98.9h1.4v1.4h-1.4zM357.0 90.1h1.4v1.4h-1.4zM393.6 68.0h1.4v1.4h-1.4zM379.0 89.9h1.4v1.4h-1.4zM329.2 104.1h1.4v1.4h-1.4zM323.4 98.5h1.4v1.4h-1.4zM351.4 100.6h1.4v1.4h-1.4zM325.1 97.9h1.4v1.4h-1.4zM319.3 97.3h1.4v1.4h-1.4zM328.9 100.3h1.4v1.4h-1.4zM372.8 82.6h1.4v1.4h-1.4zM345.5 94.7h1.4v1.4h-1.4zM356.3 90.6h1.4v1.4h-1.4zM302.1 111.4h1.4v1.4h-1.4zM299.7 111.4h1.4v1.4h-1.4zM427.8 65.7h1.4v1.4h-1.4zM404.0 62.8h1.4v1.4h-1.4zM363.2 81.6h1.4v1.4h-1.4zM379.0 79.6h1.4v1.4h-1.4zM371.7 80.0h1.4v1.4h-1.4zM363.6 88.5h1.4v1.4h-1.4zM313.3 112.8h1.4v1.4h-1.4zM301.5 108.9h1.4v1.4h-1.4zM385.7 75.1h1.4v1.4h-1.4zM395.9 68.9h1.4v1.4h-1.4zM321.6 95.5h1.4v1.4h-1.4zM407.1 73.8h1.4v1.4h-1.4zM300.5 114.1h1.4v1.4h-1.4zM431.3 69.3h1.4v1.4h-1.4zM364.4 80.3h1.4v1.4h-1.4zM360.1 87.6h1.4v1.4h-1.4zM470.1 52.9h1.4v1.4h-1.4zM375.4 83.4h1.4v1.4h-1.4zM363.3 80.3h1.4v1.4h-1.4zM404.2 71.8h1.4v1.4h-1.4zM353.7 88.8h1.4v1.4h-1.4zM332.3 100.5h1.4v1.4h-1.4zM402.9 75.5h1.4v1.4h-1.4zM397.1 80.3h1.4v1.4h-1.4zM361.3 84.2h1.4v1.4h-1.4zM328.4 93.6h1.4v1.4h-1.4zM457.0 57.2h1.4v1.4h-1.4zM390.5 75.8h1.4v1.4h-1.4zM313.0 100.7h1.4v1.4h-1.4zM375.1 85.9h1.4v1.4h-1.4zM360.9 93.1h1.4v1.4h-1.4zM304.8 106.8h1.4v1.4h-1.4zM385.5 73.0h1.4v1.4h-1.4zM309.5 102.6h1.4v1.4h-1.4zM385.8 68.5h1.4v1.4h-1.4zM387.3 76.5h1.4v1.4h-1.4zM424.7 68.1h1.4v1.4h-1.4zM342.5 98.1h1.4v1.4h-1.4zM358.3 86.7h1.4v1.4h-1.4zM383.6 72.6h1.4v1.4h-1.4zM322.3 100.7h1.4v1.4h-1.4zM301.9 113.2h1.4v1.4h-1.4zM361.0 89.6h1.4v1.4h-1.4zM402.8 70.3h1.4v1.4h-1.4zM338.8 97.0h1.4v1.4h-1.4zM435.7 63.0h1.4v1.4h-1.4zM455.2 60.6h1.4v1.4h-1.4zM329.8 95.7h1.4v1.4h-1.4zM333.4 95.1h1.4v1.4h-1.4zM375.0 73.2h1.4v1.4h-1.4zM374.4 80.5h1.4v1.4h-1.4zM416.3 66.4h1.4v1.4h-1.4zM313.7 96.0h1.4v1.4h-1.4zM415.4 72.3h1.4v1.4h-1.4zM364.5 80.6h1.4v1.4h-1.4zM342.0 95.4h1.4v1.4h-1.4zM342.4 92.6h1.4v1.4h-1.4zM311.5 104.6h1.4v1.4h-1.4zM329.3 94.9h1.4v1.4h-1.4zM381.0 84.4h1.4v1.4h-1.4zM344.2 95.6h1.4v1.4h-1.4zM420.5 63.8h1.4v1.4h-1.4zM383.6 78.2h1.4v1.4h-1.4zM327.4 97.9h1.4v1.4h-1.4zM325.6 100.8h1.4v1.4h-1.4zM355.0 100.5h1.4v1.4h-1.4zM358.7 89.4h1.4v1.4h-1.4zM339.3 92.8h1.4v1.4h-1.4zM298.7 120.4h1.4v1.4h-1.4zM349.4 87.4h1.4v1.4h-1.4zM341.9 95.8h1.4v1.4h-1.4zM404.5 79.2h1.4v1.4h-1.4zM420.0 64.6h1.4v1.4h-1.4zM338.1 99.7h1.4v1.4h-1.4zM332.7 97.2h1.4v1.4h-1.4zM474.8 49.9h1.4v1.4h-1.4zM401.9 67.0h1.4v1.4h-1.4zM405.1 77.0h1.4v1.4h-1.4zM345.0 95.7h1.4v1.4h-1.4zM429.4 57.1h1.4v1.4h-1.4zM359.8 77.7h1.4v1.4h-1.4zM357.4 87.5h1.4v1.4h-1.4zM338.8 94.7h1.4v1.4h-1.4zM372.5 75.1h1.4v1.4h-1.4zM397.7 72.3h1.4v1.4h-1.4zM338.5 94.6h1.4v1.4h-1.4zM374.1 81.4h1.4v1.4h-1.4zM376.2 85.0h1.4v1.4h-1.4zM339.6 88.1h1.4v1.4h-1.4zM381.1 70.5h1.4v1.4h-1.4zM316.2 104.7h1.4v1.4h-1.4zM347.6 82.3h1.4v1.4h-1.4zM356.9 89.8h1.4v1.4h-1.4zM368.4 81.5h1.4v1.4h-1.4zM368.8 78.2h1.4v1.4h-1.4zM360.9 85.8h1.4v1.4h-1.4zM299.8 114.0h1.4v1.4h-1.4zM310.1 106.6h1.4v1.4h-1.4zM355.6 84.5h1.4v1.4h-1.4zM405.4 61.9h1.4v1.4h-1.4zM303.1 110.2h1.4v1.4h-1.4zM400.1 64.2h1.4v1.4h-1.4zM355.1 96.1h1.4v1.4h-1.4zM371.7 83.3h1.4v1.4h-1.4zM299.9 116.6h1.4v1.4h-1.4zM341.1 91.4h1.4v1.4h-1.4zM420.9 74.6h1.4v1.4h-1.4zM317.9 105.4h1.4v1.4h-1.4zM319.9 108.1h1.4v1.4h-1.4zM342.9 101.6h1.4v1.4h-1.4zM365.9 84.9h1.4v1.4h-1.4zM315.4 98.8h1.4v1.4h-1.4zM317.0 104.6h1.4v1.4h-1.4zM357.0 90.9h1.4v1.4h-1.4zM294.1 122.5h1.4v1.4h-1.4zM341.5 101.3h1.4v1.4h-1.4zM344.8 88.5h1.4v1.4h-1.4zM344.9 91.6h1.4v1.4h-1.4zM432.4 71.9h1.4v1.4h-1.4zM323.0 100.6h1.4v1.4h-1.4zM375.3 76.1h1.4v1.4h-1.4zM302.5 113.6h1.4v1.4h-1.4zM413.9 71.9h1.4v1.4h-1.4zM367.8 90.2h1.4v1.4h-1.4zM307.4 109.6h1.4v1.4h-1.4zM351.5 86.4h1.4v1.4h-1.4zM349.5 95.4h1.4v1.4h-1.4zM300.0 109.9h1.4v1.4h-1.4zM404.2 76.5h1.4v1.4h-1.4zM339.1 98.5h1.4v1.4h-1.4zM387.4 77.8h1.4v1.4h-1.4zM317.4 100.5h1.4v1.4h-1.4zM351.4 96.2h1.4v1.4h-1.4zM331.1 102.6h1.4v1.4h-1.4zM376.0 83.4h1.4v1.4h-1.4zM337.6 94.0h1.4v1.4h-1.4zM306.9 115.5h1.4v1.4h-1.4zM343.1 94.5h1.4v1.4h-1.4zM305.8 109.2h1.4v1.4h-1.4zM468.5 49.2h1.4v1.4h-1.4zM337.2 97.8h1.4v1.4h-1.4zM422.2 70.8h1.4v1.4h-1.4zM361.5 84.5h1.4v1.4h-1.4zM423.7 70.4h1.4v1.4h-1.4zM361.1 88.1h1.4v1.4h-1.4zM321.2 96.6h1.4v1.4h-1.4zM330.1 108.5h1.4v1.4h-1.4zM335.7 103.6h1.4v1.4h-1.4zM309.3 107.4h1.4v1.4h-1.4zM369.4 82.2h1.4v1.4h-1.4zM310.6 102.6h1.4v1.4h-1.4zM360.4 89.5h1.4v1.4h-1.4zM353.3 88.4h1.4v1.4h-1.4zM440.3 68.3h1.4v1.4h-1.4zM336.0 98.7h1.4v1.4h-1.4zM413.0 68.5h1.4v1.4h-1.4zM353.4 94.3h1.4v1.4h-1.4zM348.4 84.3h1.4v1.4h-1.4zM389.6 79.4h1.4v1.4h-1.4zM359.1 83.0h1.4v1.4h-1.4zM442.9 70.0h1.4v1.4h-1.4zM412.3 63.5h1.4v1.4h-1.4zM326.4 101.3h1.4v1.4h-1.4zM373.6 93.0h1.4v1.4h-1.4zM314.9 106.0h1.4v1.4h-1.4zM332.1 99.6h1.4v1.4h-1.4zM411.0 63.5h1.4v1.4h-1.4zM342.0 91.8h1.4v1.4h-1.4zM426.7 50.7h1.4v1.4h-1.4zM307.0 110.7h1.4v1.4h-1.4zM366.9 87.3h1.4v1.4h-1.4zM314.1 103.5h1.4v1.4h-1.4zM368.9 99.5h1.4v1.4h-1.4zM377.7 85.9h1.4v1.4h-1.4zM328.5 114.1h1.4v1.4h-1.4zM319.7 102.6h1.4v1.4h-1.4zM449.3 58.7h1.4v1.4h-1.4zM377.1 76.0h1.4v1.4h-1.4zM350.0 91.5h1.4v1.4h-1.4zM387.9 88.3h1.4v1.4h-1.4zM299.1 116.3h1.4v1.4h-1.4zM306.4 109.3h1.4v1.4h-1.4zM408.2 62.8h1.4v1.4h-1.4zM342.6 88.1h1.4v1.4h-1.4zM371.7 81.4h1.4v1.4h-1.4zM418.4 60.7h1.4v1.4h-1.4zM433.7 65.0h1.4v1.4h-1.4zM455.1 74.8h1.4v1.4h-1.4zM427.4 68.3h1.4v1.4h-1.4zM339.0 95.7h1.4v1.4h-1.4zM404.7 70.0h1.4v1.4h-1.4zM372.9 82.8h1.4v1.4h-1.4zM326.1 105.6h1.4v1.4h-1.4zM405.7 76.1h1.4v1.4h-1.4zM327.6 98.9h1.4v1.4h-1.4zM320.9 97.0h1.4v1.4h-1.4zM358.4 101.3h1.4v1.4h-1.4zM312.0 101.5h1.4v1.4h-1.4zM433.3 67.7h1.4v1.4h-1.4zM311.2 105.3h1.4v1.4h-1.4zM329.9 89.7h1.4v1.4h-1.4zM340.5 91.3h1.4v1.4h-1.4zM318.2 102.8h1.4v1.4h-1.4zM338.6 88.2h1.4v1.4h-1.4zM361.2 78.8h1.4v1.4h-1.4zM301.0 116.9h1.4v1.4h-1.4zM322.3 94.6h1.4v1.4h-1.4zM362.3 82.5h1.4v1.4h-1.4zM327.9 101.9h1.4v1.4h-1.4zM393.3 77.0h1.4v1.4h-1.4zM319.8 94.3h1.4v1.4h-1.4zM420.3 67.9h1.4v1.4h-1.4zM310.6 110.1h1.4v1.4h-1.4zM309.2 105.0h1.4v1.4h-1.4zM355.4 90.4h1.4v1.4h-1.4zM420.6 61.7h1.4v1.4h-1.4zM350.9 88.4h1.4v1.4h-1.4zM319.1 101.1h1.4v1.4h-1.4zM352.8 98.7h1.4v1.4h-1.4zM352.2 95.5h1.4v1.4h-1.4zM316.6 113.4h1.4v1.4h-1.4zM345.8 93.0h1.4v1.4h-1.4zM391.2 63.0h1.4v1.4h-1.4zM405.4 70.1h1.4v1.4h-1.4zM335.4 88.7h1.4v1.4h-1.4zM330.3 97.2h1.4v1.4h-1.4zM338.7 88.8h1.4v1.4h-1.4zM350.8 98.5h1.4v1.4h-1.4zM316.7 102.1h1.4v1.4h-1.4zM322.8 97.9h1.4v1.4h-1.4zM310.7 108.8h1.4v1.4h-1.4zM381.2 76.2h1.4v1.4h-1.4zM352.1 91.3h1.4v1.4h-1.4zM414.9 66.6h1.4v1.4h-1.4zM338.5 93.7h1.4v1.4h-1.4zM332.7 99.9h1.4v1.4h-1.4zM469.0 57.8h1.4v1.4h-1.4zM342.1 92.2h1.4v1.4h-1.4zM374.5 79.3h1.4v1.4h-1.4zM305.5 113.4h1.4v1.4h-1.4zM389.3 63.2h1.4v1.4h-1.4zM305.3 107.2h1.4v1.4h-1.4zM389.6 76.4h1.4v1.4h-1.4zM326.1 97.7h1.4v1.4h-1.4zM379.1 73.1h1.4v1.4h-1.4zM374.9 81.7h1.4v1.4h-1.4zM325.2 104.9h1.4v1.4h-1.4zM328.8 91.6h1.4v1.4h-1.4zM301.6 110.1h1.4v1.4h-1.4zM338.6 100.8h1.4v1.4h-1.4zM341.7 88.6h1.4v1.4h-1.4zM354.6 99.1h1.4v1.4h-1.4zM317.9 105.5h1.4v1.4h-1.4zM344.5 88.9h1.4v1.4h-1.4zM328.0 105.1h1.4v1.4h-1.4zM370.9 90.8h1.4v1.4h-1.4zM328.2 100.3h1.4v1.4h-1.4zM374.8 89.9h1.4v1.4h-1.4zM347.3 89.7h1.4v1.4h-1.4zM368.1 84.7h1.4v1.4h-1.4zM387.8 72.7h1.4v1.4h-1.4zM336.0 96.0h1.4v1.4h-1.4zM391.3 66.6h1.4v1.4h-1.4zM340.8 94.0h1.4v1.4h-1.4zM391.4 66.0h1.4v1.4h-1.4zM358.6 87.6h1.4v1.4h-1.4zM408.7 71.4h1.4v1.4h-1.4zM346.1 93.3h1.4v1.4h-1.4zM302.5 112.6h1.4v1.4h-1.4zM348.3 103.0h1.4v1.4h-1.4zM312.8 106.6h1.4v1.4h-1.4zM407.0 61.7h1.4v1.4h-1.4zM398.1 70.1h1.4v1.4h-1.4zM308.7 104.9h1.4v1.4h-1.4zM373.9 84.7h1.4v1.4h-1.4zM346.1 96.1h1.4v1.4h-1.4zM367.1 83.1h1.4v1.4h-1.4zM379.3 74.9h1.4v1.4h-1.4zM334.3 92.9h1.4v1.4h-1.4zM393.5 72.5h1.4v1.4h-1.4zM298.0 114.0h1.4v1.4h-1.4zM461.7 66.0h1.4v1.4h-1.4zM341.5 92.0h1.4v1.4h-1.4zM414.9 63.1h1.4v1.4h-1.4zM313.6 102.6h1.4v1.4h-1.4zM397.0 69.5h1.4v1.4h-1.4zM337.7 93.7h1.4v1.4h-1.4zM392.9 69.6h1.4v1.4h-1.4zM375.0 80.3h1.4v1.4h-1.4zM412.1 72.0h1.4v1.4h-1.4zM383.4 81.2h1.4v1.4h-1.4zM308.1 108.8h1.4v1.4h-1.4zM307.1 111.4h1.4v1.4h-1.4zM383.5 78.9h1.4v1.4h-1.4zM384.7 74.5h1.4v1.4h-1.4zM406.1 69.1h1.4v1.4h-1.4zM378.5 68.6h1.4v1.4h-1.4zM451.3 63.5h1.4v1.4h-1.4zM326.9 99.6h1.4v1.4h-1.4zM328.7 98.9h1.4v1.4h-1.4zM305.3 108.2h1.4v1.4h-1.4zM398.4 71.0h1.4v1.4h-1.4zM333.3 95.7h1.4v1.4h-1.4zM373.0 82.1h1.4v1.4h-1.4zM376.8 84.2h1.4v1.4h-1.4zM370.0 77.9h1.4v1.4h-1.4zM351.0 94.2h1.4v1.4h-1.4zM310.2 110.5h1.4v1.4h-1.4zM393.9 77.5h1.4v1.4h-1.4zM440.9 66.5h1.4v1.4h-1.4zM301.7 107.7h1.4v1.4h-1.4zM463.8 56.4h1.4v1.4h-1.4zM361.8 79.7h1.4v1.4h-1.4zM390.4 73.7h1.4v1.4h-1.4zM429.5 71.7h1.4v1.4h-1.4zM390.1 84.0h1.4v1.4h-1.4zM354.5 94.5h1.4v1.4h-1.4zM374.8 77.0h1.4v1.4h-1.4zM303.2 113.5h1.4v1.4h-1.4zM331.2 94.4h1.4v1.4h-1.4zM325.4 97.1h1.4v1.4h-1.4zM299.5 110.2h1.4v1.4h-1.4zM404.7 83.6h1.4v1.4h-1.4zM395.6 70.3h1.4v1.4h-1.4zM345.9 91.6h1.4v1.4h-1.4zM334.0 98.8h1.4v1.4h-1.4zM310.4 105.5h1.4v1.4h-1.4zM441.0 59.5h1.4v1.4h-1.4zM310.0 113.7h1.4v1.4h-1.4zM319.1 96.8h1.4v1.4h-1.4zM338.1 92.4h1.4v1.4h-1.4zM432.7 67.0h1.4v1.4h-1.4zM305.8 113.6h1.4v1.4h-1.4zM317.8 110.9h1.4v1.4h-1.4zM325.7 92.0h1.4v1.4h-1.4zM335.8 101.5h1.4v1.4h-1.4zM367.6 81.5h1.4v1.4h-1.4zM342.7 95.0h1.4v1.4h-1.4zM340.8 98.7h1.4v1.4h-1.4zM406.1 66.9h1.4v1.4h-1.4zM332.3 96.2h1.4v1.4h-1.4zM343.5 88.4h1.4v1.4h-1.4zM401.3 62.3h1.4v1.4h-1.4zM375.9 83.2h1.4v1.4h-1.4zM453.8 56.1h1.4v1.4h-1.4zM389.3 82.2h1.4v1.4h-1.4zM386.3 80.1h1.4v1.4h-1.4zM311.2 110.4h1.4v1.4h-1.4zM316.7 98.0h1.4v1.4h-1.4zM336.7 100.3h1.4v1.4h-1.4zM389.9 70.8h1.4v1.4h-1.4zM335.4 94.5h1.4v1.4h-1.4zM306.1 110.0h1.4v1.4h-1.4zM457.9 50.5h1.4v1.4h-1.4zM335.5 98.8h1.4v1.4h-1.4zM317.0 114.5h1.4v1.4h-1.4zM371.7 83.7h1.4v1.4h-1.4zM384.4 87.7h1.4v1.4h-1.4zM335.2 101.0h1.4v1.4h-1.4zM320.7 102.1h1.4v1.4h-1.4zM384.7 93.4h1.4v1.4h-1.4zM316.5 96.7h1.4v1.4h-1.4zM388.0 66.6h1.4v1.4h-1.4zM358.0 85.5h1.4v1.4h-1.4zM413.5 71.7h1.4v1.4h-1.4zM338.4 83.2h1.4v1.4h-1.4zM431.4 75.1h1.4v1.4h-1.4zM357.2 86.0h1.4v1.4h-1.4zM324.6 100.9h1.4v1.4h-1.4zM383.3 72.9h1.4v1.4h-1.4zM334.9 92.8h1.4v1.4h-1.4zM338.0 86.3h1.4v1.4h-1.4zM313.6 103.6h1.4v1.4h-1.4zM363.3 82.7h1.4v1.4h-1.4zM332.0 95.1h1.4v1.4h-1.4zM333.4 91.5h1.4v1.4h-1.4zM304.7 112.2h1.4v1.4h-1.4zM428.6 66.2h1.4v1.4h-1.4zM345.0 92.7h1.4v1.4h-1.4zM453.2 56.6h1.4v1.4h-1.4zM320.9 102.3h1.4v1.4h-1.4zM297.1 117.4h1.4v1.4h-1.4zM452.1 77.4h1.4v1.4h-1.4zM372.1 74.4h1.4v1.4h-1.4zM404.0 67.8h1.4v1.4h-1.4zM330.7 97.8h1.4v1.4h-1.4zM296.8 109.6h1.4v1.4h-1.4zM409.9 95.7h1.4v1.4h-1.4zM419.2 75.4h1.4v1.4h-1.4zM341.3 99.9h1.4v1.4h-1.4zM314.9 103.7h1.4v1.4h-1.4zM332.7 98.6h1.4v1.4h-1.4zM434.4 66.7h1.4v1.4h-1.4zM298.2 114.9h1.4v1.4h-1.4zM330.7 102.3h1.4v1.4h-1.4zM304.0 113.0h1.4v1.4h-1.4zM381.7 68.3h1.4v1.4h-1.4zM396.7 75.4h1.4v1.4h-1.4zM363.9 84.5h1.4v1.4h-1.4zM386.5 76.8h1.4v1.4h-1.4zM448.1 59.7h1.4v1.4h-1.4zM331.3 100.8h1.4v1.4h-1.4zM362.6 84.2h1.4v1.4h-1.4zM406.4 63.6h1.4v1.4h-1.4zM317.1 101.4h1.4v1.4h-1.4zM398.1 65.7h1.4v1.4h-1.4zM332.1 98.5h1.4v1.4h-1.4zM327.6 100.1h1.4v1.4h-1.4zM314.9 104.5h1.4v1.4h-1.4zM363.0 75.7h1.4v1.4h-1.4zM363.8 86.9h1.4v1.4h-1.4zM331.6 90.6h1.4v1.4h-1.4zM353.9 85.1h1.4v1.4h-1.4zM307.9 107.9h1.4v1.4h-1.4zM346.0 88.6h1.4v1.4h-1.4zM361.9 88.2h1.4v1.4h-1.4zM323.1 94.4h1.4v1.4h-1.4zM356.2 87.3h1.4v1.4h-1.4zM350.9 91.0h1.4v1.4h-1.4zM337.2 101.3h1.4v1.4h-1.4zM353.2 86.9h1.4v1.4h-1.4zM357.7 89.8h1.4v1.4h-1.4zM356.6 86.5h1.4v1.4h-1.4zM314.0 98.8h1.4v1.4h-1.4zM321.8 99.5h1.4v1.4h-1.4zM333.9 96.8h1.4v1.4h-1.4zM384.0 65.0h1.4v1.4h-1.4zM397.8 67.0h1.4v1.4h-1.4zM348.6 103.4h1.4v1.4h-1.4zM352.1 97.6h1.4v1.4h-1.4zM373.6 75.9h1.4v1.4h-1.4zM331.2 100.6h1.4v1.4h-1.4zM411.7 71.9h1.4v1.4h-1.4zM361.1 94.0h1.4v1.4h-1.4zM324.0 98.2h1.4v1.4h-1.4zM412.0 68.7h1.4v1.4h-1.4zM324.3 101.2h1.4v1.4h-1.4zM348.5 95.5h1.4v1.4h-1.4zM327.1 102.2h1.4v1.4h-1.4zM443.8 60.8h1.4v1.4h-1.4zM373.3 83.9h1.4v1.4h-1.4zM310.9 104.2h1.4v1.4h-1.4zM378.1 79.2h1.4v1.4h-1.4zM313.8 103.6h1.4v1.4h-1.4zM363.4 90.1h1.4v1.4h-1.4zM380.9 75.6h1.4v1.4h-1.4zM385.0 78.8h1.4v1.4h-1.4zM398.5 71.2h1.4v1.4h-1.4zM355.8 86.8h1.4v1.4h-1.4zM376.3 78.3h1.4v1.4h-1.4zM299.5 117.4h1.4v1.4h-1.4zM355.9 84.8h1.4v1.4h-1.4zM348.7 93.2h1.4v1.4h-1.4zM429.0 67.8h1.4v1.4h-1.4zM344.5 92.8h1.4v1.4h-1.4zM312.9 97.1h1.4v1.4h-1.4zM364.9 82.5h1.4v1.4h-1.4zM345.0 89.3h1.4v1.4h-1.4zM353.6 96.1h1.4v1.4h-1.4zM305.8 101.5h1.4v1.4h-1.4zM302.3 114.1h1.4v1.4h-1.4zM356.5 85.5h1.4v1.4h-1.4zM386.7 80.5h1.4v1.4h-1.4zM349.7 90.3h1.4v1.4h-1.4zM337.4 94.1h1.4v1.4h-1.4zM358.8 84.8h1.4v1.4h-1.4zM408.0 72.0h1.4v1.4h-1.4zM401.8 58.1h1.4v1.4h-1.4zM389.9 67.6h1.4v1.4h-1.4zM349.8 92.9h1.4v1.4h-1.4zM452.3 66.2h1.4v1.4h-1.4zM336.6 92.3h1.4v1.4h-1.4zM470.6 56.2h1.4v1.4h-1.4zM301.6 114.6h1.4v1.4h-1.4zM315.8 106.0h1.4v1.4h-1.4zM309.5 105.3h1.4v1.4h-1.4zM365.1 79.3h1.4v1.4h-1.4zM423.1 72.0h1.4v1.4h-1.4zM312.4 106.9h1.4v1.4h-1.4zM349.5 88.7h1.4v1.4h-1.4zM308.2 104.4h1.4v1.4h-1.4zM328.3 98.4h1.4v1.4h-1.4zM370.0 71.4h1.4v1.4h-1.4zM397.1 76.4h1.4v1.4h-1.4zM405.7 69.7h1.4v1.4h-1.4zM361.7 82.0h1.4v1.4h-1.4zM309.7 115.6h1.4v1.4h-1.4zM386.9 69.2h1.4v1.4h-1.4zM369.8 84.2h1.4v1.4h-1.4zM343.5 101.7h1.4v1.4h-1.4zM441.9 59.5h1.4v1.4h-1.4zM376.7 78.6h1.4v1.4h-1.4zM358.3 87.0h1.4v1.4h-1.4zM322.7 100.4h1.4v1.4h-1.4zM298.1 110.8h1.4v1.4h-1.4zM359.6 94.2h1.4v1.4h-1.4zM364.6 88.9h1.4v1.4h-1.4zM361.9 83.3h1.4v1.4h-1.4zM373.0 88.3h1.4v1.4h-1.4zM404.1 66.8h1.4v1.4h-1.4zM381.8 82.0h1.4v1.4h-1.4zM344.5 98.5h1.4v1.4h-1.4zM337.2 97.1h1.4v1.4h-1.4zM340.8 93.1h1.4v1.4h-1.4zM341.0 96.1h1.4v1.4h-1.4zM413.0 68.1h1.4v1.4h-1.4zM314.5 105.9h1.4v1.4h-1.4zM319.3 100.9h1.4v1.4h-1.4zM365.4 97.1h1.4v1.4h-1.4zM325.8 100.8h1.4v1.4h-1.4zM337.8 100.8h1.4v1.4h-1.4zM357.9 89.4h1.4v1.4h-1.4z" fill="#111"/>
<path d="M44.0 291.6h1.8M44.9 290.7v1.8M44.9 283.9h1.8M45.8 283.0v1.8M44.0 298.7h1.8M44.9 297.8v1.8M36.4 290.8h1.8M37.3 289.9v1.8M42.2 276.9h1.8M43.1 276.0v1.8M83.7 266.6h1.8M84.6 265.7v1.8M38.1 278.2h1.8M39.0 277.3v1.8M33.8 286.2h1.8M34.7 285.3v1.8M82.9 282.9h1.8M83.8 282.0v1.8M46.6 273.8h1.8M47.5 272.9v1.8M36.9 283.8h1.8M37.8 282.9v1.8M43.8 280.5h1.8M44.7 279.6v1.8M66.4 284.5h1.8M67.3 283.6v1.8M40.8 281.8h1.8M41.7 280.9v1.8M52.7 265.5h1.8M53.6 264.6v1.8M43.8 277.0h1.8M44.7 276.1v1.8M38.6 288.0h1.8M39.5 287.1v1.8M36.8 283.6h1.8M37.7 282.7v1.8M66.6 275.5h1.8M67.5 274.6v1.8M37.0 286.2h1.8M37.9 285.3v1.8M40.6 278.6h1.8M41.5 277.7v1.8M43.3 280.3h1.8M44.2 279.4v1.8M39.2 285.3h1.8M40.1 284.4v1.8M34.2 286.7h1.8M35.1 285.8v1.8M39.5 291.7h1.8M40.4 290.8v1.8M39.7 292.9h1.8M40.6 292.0v1.8M44.1 278.7h1.8M45.0 277.8v1.8M43.6 287.0h1.8M44.5 286.1v1.8M41.7 280.0h1.8M42.6 279.1v1.8M41.8 297.5h1.8M42.7 296.6v1.8M44.8 273.0h1.8M45.7 272.1v1.8M38.8 286.9h1.8M39.7 286.0v1.8M45.0 269.3h1.8M45.9 268.4v1.8M39.6 303.8h1.8M40.5 302.9v1.8M47.5 292.2h1.8M48.4 291.3v1.8M39.0 275.7h1.8M39.9 274.8v1.8M38.5 285.2h1.8M39.4 284.3v1.8M41.9 281.7h1.8M42.8 280.8v1.8M45.8 280.1h1.8M46.7 279.2v1.8M37.4 286.0h1.8M38.3 285.1v1.8M35.1 284.9h1.8M36.0 284.0v1.8M41.2 291.9h1.8M42.1 291.0v1.8M59.5 276.7h1.8M60.4 275.8v1.8M43.6 273.0h1.8M44.5 272.1v1.8M44.2 280.9h1.8M45.1 280.0v1.8M40.7 289.4h1.8M41.6 288.5v1.8M50.8 276.6h1.8M51.7 275.7v1.8M36.7 280.0h1.8M37.6 279.1v1.8M44.0 283.8h1.8M44.9 282.9v1.8M35.8 289.7h1.8M36.7 288.8v1.8M42.5 279.8h1.8M43.4 278.9v1.8M73.2 269.2h1.8M74.1 268.3v1.8M45.3 270.5h1.8M46.2 269.6v1.8M34.3 290.4h1.8M35.2 289.5v1.8M46.0 278.3h1.8M46.9 277.4v1.8M37.0 279.8h1.8M37.9 278.9v1.8M63.6 289.5h1.8M64.5 288.6v1.8M35.8 287.3h1.8M36.7 286.4v1.8M36.2 284.6h1.8M37.1 283.7v1.8M35.0 289.5h1.8M35.9 288.6v1.8M39.2 292.1h1.8M40.1 291.2v1.8M49.4 274.0h1.8M50.3 273.1v1.8M42.7 274.0h1.8M43.6 273.1v1.8M45.0 282.2h1.8M45.9 281.3v1.8M34.3 292.9h1.8M35.2 292.0v1.8M41.4 285.7h1.8M42.3 284.8v1.8M37.5 275.5h1.8M38.4 274.6v1.8M42.4 274.2h1.8M43.3 273.3v1.8M46.5 280.0h1.8M47.4 279.1v1.8M47.6 287.7h1.8M48.5 286.8v1.8M39.0 295.2h1.8M39.9 294.3v1.8M41.5 286.5h1.8M42.4 285.6v1.8M40.6 287.0h1.8M41.5 286.1v1.8M41.0 282.5h1.8M41.9 281.6v1.8M45.4 289.5h1.8M46.3 288.6v1.8M58.9 276.3h1.8M59.8 275.4v1.8M51.2 273.0h1.8M52.1 272.1v1.8M36.0 300.6h1.8M36.9 299.7v1.8M47.4 262.7h1.8M48.3 261.8v1.8M36.3 283.6h1.8M37.2 282.7v1.8M35.8 284.4h1.8M36.7 283.5v1.8M47.3 289.3h1.8M48.2 288.4v1.8M36.8 295.1h1.8M37.7 294.2v1.8M47.8 271.9h1.8M48.7 271.0v1.8M43.6 275.9h1.8M44.5 275.0v1.8M42.2 301.5h1.8M43.1 300.6v1.8M45.3 272.7h1.8M46.2 271.8v1.8M55.4 269.9h1.8M56.3 269.0v1.8M52.6 271.2h1.8M53.5 270.3v1.8M33.6 298.0h1.8M34.5 297.1v1.8M81.4 273.4h1.8M82.3 272.5v1.8M37.0 291.8h1.8M37.9 290.9v1.8M41.8 279.5h1.8M42.7 278.6v1.8M49.7 264.3h1.8M50.6 263.4v1.8M56.3 270.5h1.8M57.2 269.6v1.8M44.0 274.6h1.8M44.9 273.7v1.8M46.1 282.9h1.8M47.0 282.0v1.8M36.2 295.4h1.8M37.1 294.5v1.8M40.3 284.7h1.8M41.2 283.8v1.8M48.5 271.1h1.8M49.4 270.2v1.8M72.6 264.4h1.8M73.5 263.5v1.8M39.3 285.9h1.8M40.2 285.0v1.8M43.7 280.4h1.8M44.6 279.5v1.8M36.4 290.6h1.8M37.3 289.7v1.8M46.1 293.2h1.8M47.0 292.3v1.8M40.5 284.0h1.8M41.4 283.1v1.8M34.1 286.7h1.8M35.0 285.8v1.8M39.6 288.4h1.8M40.5 287.5v1.8M43.5 283.7h1.8M44.4 282.8v1.8M38.4 299.5h1.8M39.3 298.6v1.8M46.5 279.8h1.8M47.4 278.9v1.8M38.0 276.2h1.8M38.9 275.3v1.8M46.0 280.8h1.8M46.9 279.9v1.8M38.0 282.1h1.8M38.9 281.2v1.8M46.6 276.8h1.8M47.5 275.9v1.8M33.8 295.1h1.8M34.7 294.2v1.8M47.1 278.2h1.8M48.0 277.3v1.8M42.5 289.2h1.8M43.4 288.3v1.8M34.0 267.8h1.8M34.9 266.9v1.8M45.8 279.2h1.8M46.7 278.3v1.8M44.2 290.0h1.8M45.1 289.1v1.8M55.1 286.6h1.8M56.0 285.7v1.8M37.5 275.8h1.8M38.4 274.9v1.8M39.5 280.8h1.8M40.4 279.9v1.8M49.4 275.1h1.8M50.3 274.2v1.8M63.3 285.3h1.8M64.2 284.4v1.8M46.3 284.5h1.8M47.2 283.6v1.8M39.4 294.4h1.8M40.3 293.5v1.8M45.8 272.6h1.8M46.7 271.7v1.8M37.9 290.4h1.8M38.8 289.5v1.8M44.6 267.3h1.8M45.5 266.4v1.8M46.6 276.2h1.8M47.5 275.3v1.8M63.2 277.6h1.8M64.1 276.7v1.8M33.8 279.6h1.8M34.7 278.7v1.8M43.9 297.6h1.8M44.8 296.7v1.8M61.8 281.4h1.8M62.7 280.5v1.8M38.2 289.3h1.8M39.1 288.4v1.8M38.5 278.2h1.8M39.4 277.3v1.8M42.7 275.0h1.8M43.6 274.1v1.8M36.1 285.2h1.8M37.0 284.3v1.8M48.3 292.0h1.8M49.2 291.1v1.8M40.4 288.6h1.8M41.3 287.7v1.8M42.7 291.2h1.8M43.6 290.3v1.8M43.6 273.1h1.8M44.5 272.2v1.8M36.4 290.9h1.8M37.3 290.0v1.8M37.3 282.6h1.8M38.2 281.7v1.8M41.0 270.5h1.8M41.9 269.6v1.8M43.4 283.0h1.8M44.3 282.1v1.8M41.2 278.9h1.8M42.1 278.0v1.8M38.5 288.9h1.8M39.4 288.0v1.8M35.1 288.2h1.8M36.0 287.3v1.8M41.1 283.8h1.8M42.0 282.9v1.8M54.2 275.1h1.8M55.1 274.2v1.8M34.6 288.5h1.8M35.5 287.6v1.8M47.2 282.6h1.8M48.1 281.7v1.8M38.1 272.5h1.8M39.0 271.6v1.8M76.9 280.0h1.8M77.8 279.1v1.8M52.8 273.8h1.8M53.7 272.9v1.8M40.5 286.8h1.8M41.4 285.9v1.8M84.6 292.0h1.8M85.5 291.1v1.8M39.7 278.0h1.8M40.6 277.1v1.8M45.9 278.9h1.8M46.8 278.0v1.8M37.0 297.4h1.8M37.9 296.5v1.8M41.9 289.0h1.8M42.8 288.1v1.8M34.7 300.9h1.8M35.6 300.0v1.8M39.6 283.2h1.8M40.5 282.3v1.8M39.6 273.8h1.8M40.5 272.9v1.8M34.4 280.2h1.8M35.3 279.3v1.8M36.5 297.2h1.8M37.4 296.3v1.8M35.5 301.1h1.8M36.4 300.2v1.8M50.6 273.3h1.8M51.5 272.4v1.8M37.5 274.4h1.8M38.4 273.5v1.8M61.3 274.9h1.8M62.2 274.0v1.8M40.2 277.1h1.8M41.1 276.2v1.8M47.4 289.9h1.8M48.3 289.0v1.8M39.8 286.1h1.8M40.7 285.2v1.8M44.0 278.9h1.8M44.9 278.0v1.8M40.1 288.1h1.8M41.0 287.2v1.8M48.5 280.5h1.8M49.4 279.6v1.8M37.9 281.6h1.8M38.8 280.7v1.8M35.2 293.3h1.8M36.1 292.4v1.8M40.2 292.3h1.8M41.1 291.4v1.8M36.5 282.1h1.8M37.4 281.2v1.8M36.8 285.7h1.8M37.7 284.8v1.8M41.5 291.4h1.8M42.4 290.5v1.8M44.4 278.7h1.8M45.3 277.8v1.8M65.0 279.5h1.8M65.9 278.6v1.8M38.8 281.3h1.8M39.7 280.4v1.8M45.5 281.2h1.8M46.4 280.3v1.8M49.8 280.1h1.8M50.7 279.2v1.8M44.1 287.9h1.8M45.0 287.0v1.8M41.2 282.8h1.8M42.1 281.9v1.8M39.0 286.2h1.8M39.9 285.3v1.8M63.9 261.4h1.8M64.8 260.5v1.8M38.1 286.9h1.8M39.0 286.0v1.8M42.7 293.2h1.8M43.6 292.3v1.8M39.3 270.3h1.8M40.2 269.4v1.8M46.2 295.7h1.8M47.1 294.8v1.8M44.1 269.9h1.8M45.0 269.0v1.8M43.5 289.0h1.8M44.4 288.1v1.8M39.7 275.1h1.8M40.6 274.2v1.8M41.2 285.7h1.8M42.1 284.8v1.8M39.8 281.3h1.8M40.7 280.4v1.8M45.5 280.9h1.8M46.4 280.0v1.8M34.6 290.0h1.8M35.5 289.1v1.8M40.3 281.1h1.8M41.2 280.2v1.8M46.4 285.3h1.8M47.3 284.4v1.8M37.1 283.8h1.8M38.0 282.9v1.8M42.0 291.7h1.8M42.9 290.8v1.8M39.0 291.4h1.8M39.9 290.5v1.8M39.2 289.6h1.8M40.1 288.7v1.8M44.9 282.3h1.8M45.8 281.4v1.8M40.7 275.7h1.8M41.6 274.8v1.8M44.8 287.9h1.8M45.7 287.0v1.8M77.8 281.8h1.8M78.7 280.9v1.8M38.3 294.8h1.8M39.2 293.9v1.8M38.0 289.7h1.8M38.9 288.8v1.8M50.6 273.3h1.8M51.5 272.4v1.8M54.6 281.0h1.8M55.5 280.1v1.8M42.4 285.6h1.8M43.3 284.7v1.8" stroke="#b0b0b0" stroke-width="0.50" fill="none"/>
<path d="M298.4 293.5h1.8M299.3 292.6v1.8M302.4 277.9h1.8M303.3 277.0v1.8M295.6 296.7h1.8M296.5 295.8v1.8M307.2 294.5h1.8M308.1 293.6v1.8M300.4 284.7h1.8M301.3 283.8v1.8M342.7 273.1h1.8M343.6 272.2v1.8M310.7 280.0h1.8M311.6 279.1v1.8M309.7 284.6h1.8M310.6 283.7v1.8M295.9 300.4h1.8M296.8 299.5v1.8M307.2 290.3h1.8M308.1 289.4v1.8M305.3 276.1h1.8M306.2 275.2v1.8M297.5 287.8h1.8M298.4 286.9v1.8M300.0 290.7h1.8M300.9 289.8v1.8M299.1 289.1h1.8M300.0 288.2v1.8M301.2 292.9h1.8M302.1 292.0v1.8M312.1 288.4h1.8M313.0 287.5v1.8M301.3 293.8h1.8M302.2 292.9v1.8M294.9 295.9h1.8M295.8 295.0v1.8M301.0 302.6h1.8M301.9 301.7v1.8M321.0 290.3h1.8M321.9 289.4v1.8M298.9 305.0h1.8M299.8 304.1v1.8M298.3 296.2h1.8M299.2 295.3v1.8M296.3 290.1h1.8M297.2 289.2v1.8M301.5 300.1h1.8M302.4 299.2v1.8M303.7 297.0h1.8M304.6 296.1v1.8M302.4 301.5h1.8M303.3 300.6v1.8M310.8 286.5h1.8M311.7 285.6v1.8M299.6 300.9h1.8M300.5 300.0v1.8M312.2 289.5h1.8M313.1 288.6v1.8M304.0 296.7h1.8M304.9 295.8v1.8M308.0 269.3h1.8M308.9 268.4v1.8M303.0 290.3h1.8M303.9 289.4v1.8M294.9 300.9h1.8M295.8 300.0v1.8M305.4 291.0h1.8M306.3 290.1v1.8M309.4 278.2h1.8M310.3 277.3v1.8M304.2 281.6h1.8M305.1 280.7v1.8M302.4 288.2h1.8M303.3 287.3v1.8M297.1 308.7h1.8M298.0 307.8v1.8M299.3 285.5h1.8M300.2 284.6v1.8M303.6 281.4h1.8M304.5 280.5v1.8M307.0 280.8h1.8M307.9 279.9v1.8M296.3 291.6h1.8M297.2 290.7v1.8M322.4 279.8h1.8M323.3 278.9v1.8M307.8 277.1h1.8M308.7 276.2v1.8M308.1 287.7h1.8M309.0 286.8v1.8M335.2 272.8h1.8M336.1 271.9v1.8M306.8 290.0h1.8M307.7 289.1v1.8M303.1 292.3h1.8M304.0 291.4v1.8M300.3 294.9h1.8M301.2 294.0v1.8M306.3 291.0h1.8M307.2 290.1v1.8M305.4 291.2h1.8M306.3 290.3v1.8M321.7 274.9h1.8M322.6 274.0v1.8M320.8 269.1h1.8M321.7 268.2v1.8M302.1 295.4h1.8M303.0 294.5v1.8M313.3 288.9h1.8M314.2 288.0v1.8M328.1 271.3h1.8M329.0 270.4v1.8M302.8 292.2h1.8M303.7 291.3v1.8M307.7 283.9h1.8M308.6 283.0v1.8M304.1 287.6h1.8M305.0 286.7v1.8M300.2 285.2h1.8M301.1 284.3v1.8M299.7 298.7h1.8M300.6 297.8v1.8M301.9 282.2h1.8M302.8 281.3v1.8M303.5 283.4h1.8M304.4 282.5v1.8M300.3 307.7h1.8M301.2 306.8v1.8M305.4 288.9h1.8M306.3 288.0v1.8M306.2 289.8h1.8M307.1 288.9v1.8M313.7 278.3h1.8M314.6 277.4v1.8M299.1 293.3h1.8M300.0 292.4v1.8M302.0 295.9h1.8M302.9 295.0v1.8M299.8 294.8h1.8M300.7 293.9v1.8M301.9 288.0h1.8M302.8 287.1v1.8M344.4 280.1h1.8M345.3 279.2v1.8M300.1 293.2h1.8M301.0 292.3v1.8M308.3 269.3h1.8M309.2 268.4v1.8M307.0 282.6h1.8M307.9 281.7v1.8M306.6 294.9h1.8M307.5 294.0v1.8M312.4 281.3h1.8M313.3 280.4v1.8M315.9 278.1h1.8M316.8 277.2v1.8M299.1 300.0h1.8M300.0 299.1v1.8M307.0 285.6h1.8M307.9 284.7v1.8M303.0 295.8h1.8M303.9 294.9v1.8M298.5 309.4h1.8M299.4 308.5v1.8M306.7 284.2h1.8M307.6 283.3v1.8M308.6 280.6h1.8M309.5 279.7v1.8M307.3 281.8h1.8M308.2 280.9v1.8M297.4 295.2h1.8M298.3 294.3v1.8M344.0 284.7h1.8M344.9 283.8v1.8M306.3 285.3h1.8M307.2 284.4v1.8M301.1 288.1h1.8M302.0 287.2v1.8M324.3 273.8h1.8M325.2 272.9v1.8M295.0 286.3h1.8M295.9 285.4v1.8M301.9 284.7h1.8M302.8 283.8v1.8M302.2 294.5h1.8M303.1 293.6v1.8M302.7 290.3h1.8M303.6 289.4v1.8M306.5 297.0h1.8M307.4 296.1v1.8M302.5 284.8h1.8M303.4 283.9v1.8M308.6 280.9h1.8M309.5 280.0v1.8M303.8 280.3h1.8M304.7 279.4v1.8M298.1 289.9h1.8M299.0 289.0v1.8M309.8 272.7h1.8M310.7 271.8v1.8M297.1 299.3h1.8M298.0 298.4v1.8M299.0 290.4h1.8M299.9 289.5v1.8M298.2 295.2h1.8M299.1 294.3v1.8M301.6 292.3h1.8M302.5 291.4v1.8M299.2 305.4h1.8M300.1 304.5v1.8M330.1 285.8h1.8M331.0 284.9v1.8M307.3 300.6h1.8M308.2 299.7v1.8M306.5 289.2h1.8M307.4 288.3v1.8M301.9 295.6h1.8M302.8 294.7v1.8M300.0 291.1h1.8M300.9 290.2v1.8M296.8 307.8h1.8M297.7 306.9v1.8M307.1 290.3h1.8M308.0 289.4v1.8M303.6 291.1h1.8M304.5 290.2v1.8M338.5 297.3h1.8M339.4 296.4v1.8M300.7 279.9h1.8M301.6 279.0v1.8M300.9 288.1h1.8M301.8 287.2v1.8M300.5 297.5h1.8M301.4 296.6v1.8M309.0 271.5h1.8M309.9 270.6v1.8M296.6 285.3h1.8M297.5 284.4v1.8M310.1 302.1h1.8M311.0 301.2v1.8M308.7 287.5h1.8M309.6 286.6v1.8M294.9 300.9h1.8M295.8 300.0v1.8M305.1 287.9h1.8M306.0 287.0v1.8M302.4 297.3h1.8M303.3 296.4v1.8M301.8 292.9h1.8M302.7 292.0v1.8M299.1 292.5h1.8M300.0 291.6v1.8M307.6 304.4h1.8M308.5 303.5v1.8M305.2 287.3h1.8M306.1 286.4v1.8M296.8 284.8h1.8M297.7 283.9v1.8M300.2 291.3h1.8M301.1 290.4v1.8M306.2 279.1h1.8M307.1 278.2v1.8M296.8 283.4h1.8M297.7 282.5v1.8M298.5 291.4h1.8M299.4 290.5v1.8M307.7 283.3h1.8M308.6 282.4v1.8M299.6 289.7h1.8M300.5 288.8v1.8M298.4 296.6h1.8M299.3 295.7v1.8M299.2 276.3h1.8M300.1 275.4v1.8M298.7 290.0h1.8M299.6 289.1v1.8M304.2 284.8h1.8M305.1 283.9v1.8M297.2 287.5h1.8M298.1 286.6v1.8M309.7 273.6h1.8M310.6 272.7v1.8M301.4 300.8h1.8M302.3 299.9v1.8M302.7 297.4h1.8M303.6 296.5v1.8M298.3 292.5h1.8M299.2 291.6v1.8M311.0 279.5h1.8M311.9 278.6v1.8M343.6 289.3h1.8M344.5 288.4v1.8M300.1 302.0h1.8M301.0 301.1v1.8M306.3 281.5h1.8M307.2 280.6v1.8M296.0 290.1h1.8M296.9 289.2v1.8M302.1 292.5h1.8M303.0 291.6v1.8M302.2 292.5h1.8M303.1 291.6v1.8M305.8 292.1h1.8M306.7 291.2v1.8M298.1 302.3h1.8M299.0 301.4v1.8M308.3 292.0h1.8M309.2 291.1v1.8M330.1 279.5h1.8M331.0 278.6v1.8M301.9 292.1h1.8M302.8 291.2v1.8M297.6 287.3h1.8M298.5 286.4v1.8M311.1 293.1h1.8M312.0 292.2v1.8M295.2 308.6h1.8M296.1 307.7v1.8M305.8 283.7h1.8M306.7 282.8v1.8M310.0 291.3h1.8M310.9 290.4v1.8M295.4 298.5h1.8M296.3 297.6v1.8M303.2 289.8h1.8M304.1 288.9v1.8M344.0 290.1h1.8M344.9 289.2v1.8M299.2 304.4h1.8M300.1 303.5v1.8M311.9 281.2h1.8M312.8 280.3v1.8M306.2 307.4h1.8M307.1 306.5v1.8M294.9 292.2h1.8M295.8 291.3v1.8M303.4 302.9h1.8M304.3 302.0v1.8M316.2 275.2h1.8M317.1 274.3v1.8M295.0 294.5h1.8M295.9 293.6v1.8M303.1 288.5h1.8M304.0 287.6v1.8M296.7 291.8h1.8M297.6 290.9v1.8M303.5 288.9h1.8M304.4 288.0v1.8M298.3 304.1h1.8M299.2 303.2v1.8M305.4 282.4h1.8M306.3 281.5v1.8M297.1 294.1h1.8M298.0 293.2v1.8M296.2 292.4h1.8M297.1 291.5v1.8M308.8 286.5h1.8M309.7 285.6v1.8M298.6 295.7h1.8M299.5 294.8v1.8M302.1 284.3h1.8M303.0 283.4v1.8M296.5 288.6h1.8M297.4 287.7v1.8M298.8 291.9h1.8M299.7 291.0v1.8M300.0 301.4h1.8M300.9 300.5v1.8M305.0 295.4h1.8M305.9 294.5v1.8M313.4 289.2h1.8M314.3 288.3v1.8M300.0 284.5h1.8M300.9 283.6v1.8M301.8 287.4h1.8M302.7 286.5v1.8M313.3 281.3h1.8M314.2 280.4v1.8M308.6 286.6h1.8M309.5 285.7v1.8M305.3 293.5h1.8M306.2 292.6v1.8M311.1 277.5h1.8M312.0 276.6v1.8M303.1 297.4h1.8M304.0 296.5v1.8M304.1 295.2h1.8M305.0 294.3v1.8M305.1 282.0h1.8M306.0 281.1v1.8M303.0 285.3h1.8M303.9 284.4v1.8M305.0 288.7h1.8M305.9 287.8v1.8M311.2 292.4h1.8M312.1 291.5v1.8M294.9 305.4h1.8M295.8 304.5v1.8M342.4 274.3h1.8M343.3 273.4v1.8M295.8 292.7h1.8M296.7 291.8v1.8M300.4 280.9h1.8M301.3 280.0v1.8M295.0 299.4h1.8M295.9 298.5v1.8M298.3 294.0h1.8M299.2 293.1v1.8M304.5 295.2h1.8M305.4 294.3v1.8M300.0 279.9h1.8M300.9 279.0v1.8M299.4 304.7h1.8M300.3 303.8v1.8M299.9 287.5h1.8M300.8 286.6v1.8M304.9 276.3h1.8M305.8 275.4v1.8M308.7 291.9h1.8M309.6 291.0v1.8M299.4 302.9h1.8M300.3 302.0v1.8M306.9 293.7h1.8M307.8 292.8v1.8M296.5 305.1h1.8M297.4 304.2v1.8M307.4 283.5h1.8M308.3 282.6v1.8M297.6 294.5h1.8M298.5 293.6v1.8M307.8 292.3h1.8M308.7 291.4v1.8M299.7 294.3h1.8M300.6 293.4v1.8M296.2 284.0h1.8M297.1 283.1v1.8M299.8 294.0h1.8M300.7 293.1v1.8M302.3 293.0h1.8M303.2 292.1v1.8" stroke="#b0b0b0" stroke-width="0.50" fill="none"/>
<path d="M32.00 331.20 L32.02 331.09 L32.05 330.87 L32.10 330.56 L32.15 330.19 L32.22 329.75 L32.29 329.26 L32.37 328.72 L32.46 328.13 L32.55 327.49 L32.66 326.81 L32.76 326.08 L32.88 325.32 L33.00 324.52 L33.12 323.64 L33.25 322.47 L33.39 321.25 L33.53 319.98 L33.68 318.67 L33.83 317.32 L33.99 315.92 L34.15 314.48 L34.32 312.99 L34.49 311.47 L34.66 309.90 L34.84 308.66 L35.02 307.95 L35.21 307.21 L35.41 306.47 L35.60 305.70 L35.80 304.92 L36.01 304.13 L36.22 303.31 L36.43 302.49 L36.65 301.65 L36.87 300.79 L37.09 299.92 L37.32 299.03 L37.55 298.15 L37.79 297.68 L38.03 297.20 L38.27 296.71 L38.52 296.22 L38.77 295.71 L39.02 295.21 L39.28 294.69 L39.54 294.17 L39.80 293.64 L40.07 293.10 L40.34 292.56 L40.61 292.09 L40.89 291.60 L41.17 291.11 L41.45 290.62 L41.74 290.12 L42.03 289.61 L42.32 289.10 L42.62 288.59 L42.92 288.06 L43.22 287.66 L43.53 287.37 L43.84 287.08 L44.15 286.79 L44.46 286.49 L44.78 286.19 L45.10 285.89 L45.43 285.59 L45.75 285.28 L46.08 284.97 L46.42 284.66 L46.75 284.34 L47.09 284.03 L47.43 283.71 L47.78 283.38 L48.12 283.06 L48.47 282.73 L48.83 282.47 L49.18 282.26 L49.54 282.04 L49.90 281.82 L50.27 281.60 L50.63 281.38 L51.00 281.16 L51.38 280.93 L51.75 280.71 L52.13 280.48 L52.51 280.25 L52.89 280.02 L53.28 279.79 L53.66 279.55 L54.06 279.32 L54.45 279.13 L54.84 278.96 L55.24 278.78 L55.64 278.61 L56.05 278.43 L56.45 278.26 L56.86 278.08 L57.27 277.90 L57.69 277.72 L58.10 277.54 L58.52 277.36 L58.95 277.17 L59.37 276.99 L59.80 276.80 L60.22 276.62 L60.66 276.43 L61.09 276.24 L61.53 276.05 L61.96 275.86 L62.41 275.67 L62.85 275.47 L63.29 275.28 L63.74 275.08 L64.19 274.89 L64.65 274.69 L65.10 274.49 L65.56 274.35 L66.02 274.22 L66.48 274.10 L66.95 273.98 L67.41 273.85 L67.88 273.73 L68.36 273.60 L68.83 273.47 L69.31 273.34 L69.78 273.22 L70.27 273.09 L70.75 272.96 L71.23 272.83 L71.72 272.70 L72.21 272.57 L72.70 272.43 L73.20 272.30 L73.70 272.17 L74.19 272.03 L74.70 271.90 L75.20 271.77 L75.70 271.63 L76.21 271.49 L76.72 271.39 L77.23 271.28 L77.75 271.18 L78.27 271.07 L78.78 270.97 L79.31 270.87 L79.83 270.76 L80.35 270.66 L80.88 270.55 L81.41 270.44 L81.94 270.34 L82.48 270.23 L83.01 270.12 L83.55 270.01 L84.09 269.90 L84.63 269.80 L85.18 269.69 L85.72 269.58 L86.27 269.47 L86.82 269.36 L87.38 269.24" fill="none" stroke="#222" stroke-width="0.85" stroke-dasharray="2 1" stroke-linejoin="round"/>
<path d="M32.00 340.11 L32.02 339.99 L32.05 339.77 L32.10 339.47 L32.15 339.09 L32.22 338.66 L32.29 338.16 L32.37 337.62 L32.46 337.03 L32.55 336.39 L32.66 335.71 L32.76 334.99 L32.88 334.22 L33.00 333.42 L33.12 332.54 L33.25 331.37 L33.39 330.15 L33.53 328.89 L33.68 327.58 L33.83 326.22 L33.99 324.82 L34.15 323.38 L34.32 321.90 L34.49 320.37 L34.66 318.81 L34.84 317.58 L35.02 316.88 L35.21 316.18 L35.41 315.46 L35.60 314.72 L35.80 313.96 L36.01 313.20 L36.22 312.41 L36.43 311.61 L36.65 310.80 L36.87 309.97 L37.09 309.13 L37.32 308.28 L37.55 307.43 L37.79 306.92 L38.03 306.41 L38.27 305.89 L38.52 305.36 L38.77 304.83 L39.02 304.28 L39.28 303.73 L39.54 303.17 L39.80 302.61 L40.07 302.03 L40.34 301.47 L40.61 301.03 L40.89 300.58 L41.17 300.13 L41.45 299.68 L41.74 299.22 L42.03 298.75 L42.32 298.28 L42.62 297.80 L42.92 297.32 L43.22 296.94 L43.53 296.67 L43.84 296.41 L44.15 296.13 L44.46 295.86 L44.78 295.58 L45.10 295.30 L45.43 295.02 L45.75 294.74 L46.08 294.45 L46.42 294.16 L46.75 293.87 L47.09 293.57 L47.43 293.27 L47.78 292.97 L48.12 292.67 L48.47 292.37 L48.83 292.12 L49.18 291.90 L49.54 291.69 L49.90 291.47 L50.27 291.25 L50.63 291.03 L51.00 290.80 L51.38 290.58 L51.75 290.35 L52.13 290.13 L52.51 289.90 L52.89 289.67 L53.28 289.43 L53.66 289.20 L54.06 288.96 L54.45 288.79 L54.84 288.63 L55.24 288.47 L55.64 288.31 L56.05 288.14 L56.45 287.98 L56.86 287.82 L57.27 287.65 L57.69 287.48 L58.10 287.32 L58.52 287.15 L58.95 286.98 L59.37 286.81 L59.80 286.64 L60.22 286.47 L60.66 286.29 L61.09 286.12 L61.53 285.94 L61.96 285.77 L62.41 285.59 L62.85 285.41 L63.29 285.23 L63.74 285.05 L64.19 284.87 L64.65 284.69 L65.10 284.50 L65.56 284.37 L66.02 284.24 L66.48 284.12 L66.95 283.99 L67.41 283.87 L67.88 283.74 L68.36 283.62 L68.83 283.49 L69.31 283.36 L69.78 283.23 L70.27 283.10 L70.75 282.97 L71.23 282.84 L71.72 282.71 L72.21 282.58 L72.70 282.45 L73.20 282.32 L73.70 282.18 L74.19 282.05 L74.70 281.92 L75.20 281.78 L75.70 281.65 L76.21 281.51 L76.72 281.40 L77.23 281.30 L77.75 281.20 L78.27 281.09 L78.78 280.99 L79.31 280.88 L79.83 280.78 L80.35 280.67 L80.88 280.57 L81.41 280.46 L81.94 280.35 L82.48 280.25 L83.01 280.14 L83.55 280.03 L84.09 279.92 L84.63 279.81 L85.18 279.70 L85.72 279.59 L86.27 279.48 L86.82 279.37 L87.38 279.26" fill="none" stroke="#222" stroke-width="0.90" stroke-linejoin="round"/>
<path d="M32.00 349.01 L32.02 348.89 L32.05 348.66 L32.10 348.34 L32.15 347.94 L32.22 347.49 L32.29 346.97 L32.37 346.40 L32.46 345.78 L32.55 345.11 L32.66 344.40 L32.76 343.64 L32.88 342.83 L33.00 341.99 L33.12 341.08 L33.25 339.94 L33.39 338.75 L33.53 337.52 L33.68 336.24 L33.83 334.92 L33.99 333.55 L34.15 332.15 L34.32 330.70 L34.49 329.21 L34.66 327.69 L34.84 326.47 L35.02 325.75 L35.21 325.02 L35.41 324.27 L35.60 323.51 L35.80 322.73 L36.01 321.93 L36.22 321.12 L36.43 320.30 L36.65 319.45 L36.87 318.60 L37.09 317.72 L37.32 316.84 L37.55 315.96 L37.79 315.49 L38.03 315.01 L38.27 314.52 L38.52 314.03 L38.77 313.52 L39.02 313.01 L39.28 312.50 L39.54 311.97 L39.80 311.44 L40.07 310.91 L40.34 310.38 L40.61 310.02 L40.89 309.64 L41.17 309.27 L41.45 308.89 L41.74 308.50 L42.03 308.12 L42.32 307.72 L42.62 307.32 L42.92 306.92 L43.22 306.58 L43.53 306.29 L43.84 306.00 L44.15 305.71 L44.46 305.41 L44.78 305.11 L45.10 304.81 L45.43 304.51 L45.75 304.20 L46.08 303.89 L46.42 303.58 L46.75 303.27 L47.09 302.95 L47.43 302.63 L47.78 302.30 L48.12 301.98 L48.47 301.65 L48.83 301.41 L49.18 301.22 L49.54 301.02 L49.90 300.83 L50.27 300.63 L50.63 300.44 L51.00 300.24 L51.38 300.04 L51.75 299.84 L52.13 299.64 L52.51 299.43 L52.89 299.23 L53.28 299.02 L53.66 298.81 L54.06 298.60 L54.45 298.43 L54.84 298.27 L55.24 298.11 L55.64 297.95 L56.05 297.79 L56.45 297.63 L56.86 297.46 L57.27 297.30 L57.69 297.13 L58.10 296.96 L58.52 296.79 L58.95 296.63 L59.37 296.45 L59.80 296.28 L60.22 296.11 L60.66 295.94 L61.09 295.76 L61.53 295.59 L61.96 295.41 L62.41 295.23 L62.85 295.06 L63.29 294.88 L63.74 294.70 L64.19 294.52 L64.65 294.33 L65.10 294.15 L65.56 294.02 L66.02 293.91 L66.48 293.81 L66.95 293.70 L67.41 293.59 L67.88 293.48 L68.36 293.37 L68.83 293.26 L69.31 293.14 L69.78 293.03 L70.27 292.92 L70.75 292.81 L71.23 292.69 L71.72 292.58 L72.21 292.46 L72.70 292.35 L73.20 292.23 L73.70 292.11 L74.19 292.00 L74.70 291.88 L75.20 291.76 L75.70 291.64 L76.21 291.52 L76.72 291.42 L77.23 291.32 L77.75 291.21 L78.27 291.11 L78.78 291.00 L79.31 290.90 L79.83 290.79 L80.35 290.69 L80.88 290.58 L81.41 290.48 L81.94 290.37 L82.48 290.26 L83.01 290.15 L83.55 290.05 L84.09 289.94 L84.63 289.83 L85.18 289.72 L85.72 289.61 L86.27 289.50 L86.82 289.39 L87.38 289.28" fill="none" stroke="#222" stroke-width="0.85" stroke-dasharray="2 1" stroke-linejoin="round"/>
<path d="M293.50 332.02 L293.52 331.91 L293.55 331.69 L293.59 331.39 L293.65 331.02 L293.71 330.59 L293.79 330.11 L293.87 329.58 L293.95 328.99 L294.05 328.36 L294.15 327.69 L294.26 326.98 L294.37 326.23 L294.49 325.43 L294.61 324.58 L294.74 323.51 L294.88 322.40 L295.02 321.25 L295.16 320.05 L295.31 318.81 L295.47 317.54 L295.62 316.22 L295.79 314.87 L295.96 313.48 L296.13 312.05 L296.31 310.92 L296.49 310.26 L296.68 309.59 L296.87 308.90 L297.06 308.20 L297.26 307.49 L297.46 306.76 L297.67 306.01 L297.88 305.25 L298.09 304.48 L298.31 303.69 L298.53 302.89 L298.76 302.08 L298.99 301.27 L299.22 300.77 L299.46 300.27 L299.70 299.76 L299.94 299.23 L300.19 298.71 L300.44 298.17 L300.69 297.63 L300.95 297.08 L301.21 296.52 L301.48 295.95 L301.74 295.39 L302.01 294.92 L302.29 294.45 L302.57 293.97 L302.85 293.48 L303.13 292.99 L303.42 292.49 L303.71 291.98 L304.00 291.48 L304.30 290.96 L304.60 290.57 L304.90 290.30 L305.20 290.04 L305.51 289.77 L305.82 289.50 L306.14 289.23 L306.46 288.95 L306.78 288.67 L307.10 288.39 L307.43 288.11 L307.75 287.82 L308.09 287.54 L308.42 287.24 L308.76 286.95 L309.10 286.66 L309.44 286.36 L309.79 286.06 L310.14 285.81 L310.49 285.60 L310.84 285.39 L311.20 285.17 L311.56 284.96 L311.92 284.74 L312.29 284.52 L312.66 284.30 L313.03 284.07 L313.40 283.85 L313.78 283.62 L314.15 283.40 L314.54 283.17 L314.92 282.94 L315.31 282.70 L315.70 282.50 L316.09 282.30 L316.48 282.11 L316.88 281.91 L317.28 281.71 L317.68 281.51 L318.08 281.30 L318.49 281.10 L318.90 280.89 L319.31 280.69 L319.72 280.48 L320.14 280.27 L320.56 280.06 L320.98 279.85 L321.41 279.64 L321.83 279.42 L322.26 279.21 L322.69 278.99 L323.13 278.78 L323.56 278.56 L324.00 278.34 L324.44 278.12 L324.88 277.90 L325.33 277.67 L325.78 277.45 L326.23 277.22 L326.68 277.07 L327.14 276.95 L327.59 276.83 L328.05 276.71 L328.51 276.58 L328.98 276.46 L329.45 276.33 L329.91 276.21 L330.38 276.08 L330.86 275.96 L331.33 275.83 L331.81 275.70 L332.29 275.57 L332.77 275.44 L333.26 275.32 L333.74 275.18 L334.23 275.05 L334.72 274.92 L335.22 274.79 L335.71 274.66 L336.21 274.53 L336.71 274.39 L337.21 274.26 L337.72 274.14 L338.22 274.02 L338.73 273.90 L339.24 273.78 L339.76 273.66 L340.27 273.54 L340.79 273.42 L341.31 273.30 L341.83 273.18 L342.35 273.05 L342.88 272.93 L343.41 272.81 L343.94 272.68 L344.47 272.56 L345.00 272.43 L345.54 272.31 L346.08 272.18 L346.62 272.06 L347.16 271.93 L347.70 271.80 L348.25 271.67" fill="none" stroke="#222" stroke-width="0.85" stroke-dasharray="2 1" stroke-linejoin="round"/>
<path d="M293.50 340.44 L293.52 340.33 L293.55 340.12 L293.59 339.84 L293.65 339.49 L293.71 339.08 L293.79 338.62 L293.87 338.11 L293.95 337.56 L294.05 336.96 L294.15 336.32 L294.26 335.64 L294.37 334.93 L294.49 334.18 L294.61 333.36 L294.74 332.29 L294.88 331.18 L295.02 330.02 L295.16 328.83 L295.31 327.59 L295.47 326.32 L295.62 325.00 L295.79 323.65 L295.96 322.26 L296.13 320.83 L296.31 319.70 L296.49 319.04 L296.68 318.37 L296.87 317.68 L297.06 316.98 L297.26 316.27 L297.46 315.53 L297.67 314.79 L297.88 314.03 L298.09 313.26 L298.31 312.47 L298.53 311.67 L298.76 310.86 L298.99 310.05 L299.22 309.55 L299.46 309.05 L299.70 308.53 L299.94 308.01 L300.19 307.48 L300.44 306.95 L300.69 306.41 L300.95 305.85 L301.21 305.30 L301.48 304.73 L301.74 304.18 L302.01 303.78 L302.29 303.38 L302.57 302.97 L302.85 302.56 L303.13 302.14 L303.42 301.72 L303.71 301.30 L304.00 300.86 L304.30 300.43 L304.60 300.08 L304.90 299.81 L305.20 299.55 L305.51 299.28 L305.82 299.01 L306.14 298.74 L306.46 298.46 L306.78 298.18 L307.10 297.90 L307.43 297.62 L307.75 297.33 L308.09 297.05 L308.42 296.75 L308.76 296.46 L309.10 296.17 L309.44 295.87 L309.79 295.57 L310.14 295.31 L310.49 295.07 L310.84 294.83 L311.20 294.60 L311.56 294.36 L311.92 294.11 L312.29 293.87 L312.66 293.62 L313.03 293.38 L313.40 293.13 L313.78 292.88 L314.15 292.62 L314.54 292.37 L314.92 292.11 L315.31 291.85 L315.70 291.66 L316.09 291.49 L316.48 291.32 L316.88 291.15 L317.28 290.98 L317.68 290.80 L318.08 290.63 L318.49 290.45 L318.90 290.27 L319.31 290.09 L319.72 289.91 L320.14 289.73 L320.56 289.55 L320.98 289.37 L321.41 289.18 L321.83 289.00 L322.26 288.81 L322.69 288.62 L323.13 288.44 L323.56 288.25 L324.00 288.06 L324.44 287.86 L324.88 287.67 L325.33 287.48 L325.78 287.28 L326.23 287.09 L326.68 286.95 L327.14 286.83 L327.59 286.70 L328.05 286.58 L328.51 286.46 L328.98 286.33 L329.45 286.21 L329.91 286.08 L330.38 285.96 L330.86 285.83 L331.33 285.70 L331.81 285.58 L332.29 285.45 L332.77 285.32 L333.26 285.19 L333.74 285.06 L334.23 284.93 L334.72 284.80 L335.22 284.67 L335.71 284.53 L336.21 284.40 L336.71 284.27 L337.21 284.13 L337.72 284.03 L338.22 283.93 L338.73 283.82 L339.24 283.72 L339.76 283.62 L340.27 283.51 L340.79 283.41 L341.31 283.31 L341.83 283.20 L342.35 283.10 L342.88 282.99 L343.41 282.89 L343.94 282.78 L344.47 282.67 L345.00 282.57 L345.54 282.46 L346.08 282.35 L346.62 282.24 L347.16 282.13 L347.70 282.03 L348.25 281.92" fill="none" stroke="#222" stroke-width="0.90" stroke-linejoin="round"/>
<path d="M293.50 349.21 L293.52 349.10 L293.55 348.88 L293.59 348.58 L293.65 348.21 L293.71 347.79 L293.79 347.30 L293.87 346.77 L293.95 346.18 L294.05 345.55 L294.15 344.88 L294.26 344.17 L294.37 343.42 L294.49 342.62 L294.61 341.78 L294.74 340.77 L294.88 339.71 L295.02 338.62 L295.16 337.49 L295.31 336.32 L295.47 335.12 L295.62 333.87 L295.79 332.59 L295.96 331.28 L296.13 329.93 L296.31 328.84 L296.49 328.18 L296.68 327.51 L296.87 326.83 L297.06 326.13 L297.26 325.41 L297.46 324.68 L297.67 323.93 L297.88 323.17 L298.09 322.40 L298.31 321.61 L298.53 320.81 L298.76 320.00 L298.99 319.20 L299.22 318.73 L299.46 318.25 L299.70 317.77 L299.94 317.29 L300.19 316.79 L300.44 316.29 L300.69 315.78 L300.95 315.26 L301.21 314.74 L301.48 314.21 L301.74 313.68 L302.01 313.17 L302.29 312.66 L302.57 312.14 L302.85 311.62 L303.13 311.08 L303.42 310.55 L303.71 310.01 L304.00 309.46 L304.30 308.90 L304.60 308.52 L304.90 308.32 L305.20 308.11 L305.51 307.91 L305.82 307.70 L306.14 307.49 L306.46 307.28 L306.78 307.06 L307.10 306.85 L307.43 306.63 L307.75 306.41 L308.09 306.19 L308.42 305.96 L308.76 305.74 L309.10 305.51 L309.44 305.28 L309.79 305.05 L310.14 304.83 L310.49 304.62 L310.84 304.41 L311.20 304.19 L311.56 303.97 L311.92 303.76 L312.29 303.54 L312.66 303.32 L313.03 303.09 L313.40 302.87 L313.78 302.64 L314.15 302.41 L314.54 302.19 L314.92 301.95 L315.31 301.72 L315.70 301.54 L316.09 301.37 L316.48 301.20 L316.88 301.02 L317.28 300.85 L317.68 300.68 L318.08 300.50 L318.49 300.32 L318.90 300.15 L319.31 299.97 L319.72 299.79 L320.14 299.61 L320.56 299.43 L320.98 299.24 L321.41 299.06 L321.83 298.87 L322.26 298.69 L322.69 298.50 L323.13 298.31 L323.56 298.12 L324.00 297.93 L324.44 297.74 L324.88 297.55 L325.33 297.35 L325.78 297.16 L326.23 296.96 L326.68 296.83 L327.14 296.73 L327.59 296.62 L328.05 296.51 L328.51 296.41 L328.98 296.30 L329.45 296.19 L329.91 296.08 L330.38 295.97 L330.86 295.86 L331.33 295.75 L331.81 295.63 L332.29 295.52 L332.77 295.41 L333.26 295.30 L333.74 295.18 L334.23 295.07 L334.72 294.95 L335.22 294.84 L335.71 294.72 L336.21 294.61 L336.71 294.49 L337.21 294.37 L337.72 294.25 L338.22 294.14 L338.73 294.02 L339.24 293.90 L339.76 293.78 L340.27 293.66 L340.79 293.54 L341.31 293.41 L341.83 293.29 L342.35 293.17 L342.88 293.05 L343.41 292.92 L343.94 292.80 L344.47 292.68 L345.00 292.55 L345.54 292.43 L346.08 292.30 L346.62 292.17 L347.16 292.05 L347.70 291.92 L348.25 291.79" fill="none" stroke="#222" stroke-width="0.85" stroke-dasharray="2 1" stroke-linejoin="round"/>
<path d="M96.4 268.2h1.1v1.1h-1.1zM83.0 269.4h1.1v1.1h-1.1zM46.7 280.5h1.1v1.1h-1.1zM45.9 280.7h1.1v1.1h-1.1zM78.9 263.1h1.1v1.1h-1.1zM110.8 261.1h1.1v1.1h-1.1zM52.2 265.0h1.1v1.1h-1.1zM43.5 278.4h1.1v1.1h-1.1zM93.6 265.0h1.1v1.1h-1.1zM73.9 274.0h1.1v1.1h-1.1zM62.1 285.8h1.1v1.1h-1.1zM63.3 286.7h1.1v1.1h-1.1zM42.6 280.6h1.1v1.1h-1.1zM68.4 274.2h1.1v1.1h-1.1zM58.8 272.7h1.1v1.1h-1.1zM60.7 297.4h1.1v1.1h-1.1zM68.1 277.4h1.1v1.1h-1.1zM97.1 270.7h1.1v1.1h-1.1zM86.6 276.6h1.1v1.1h-1.1zM95.4 274.1h1.1v1.1h-1.1zM41.8 302.2h1.1v1.1h-1.1zM81.9 274.9h1.1v1.1h-1.1zM75.3 263.6h1.1v1.1h-1.1zM125.5 278.1h1.1v1.1h-1.1zM134.4 263.6h1.1v1.1h-1.1zM41.2 293.5h1.1v1.1h-1.1zM123.5 267.7h1.1v1.1h-1.1zM63.3 264.3h1.1v1.1h-1.1zM81.1 273.7h1.1v1.1h-1.1zM90.9 269.7h1.1v1.1h-1.1zM129.9 263.2h1.1v1.1h-1.1zM137.8 267.9h1.1v1.1h-1.1zM79.1 263.2h1.1v1.1h-1.1zM115.7 286.0h1.1v1.1h-1.1zM69.2 278.5h1.1v1.1h-1.1zM47.1 299.5h1.1v1.1h-1.1zM47.3 295.9h1.1v1.1h-1.1zM70.6 275.6h1.1v1.1h-1.1zM105.4 280.7h1.1v1.1h-1.1zM74.8 278.4h1.1v1.1h-1.1zM96.8 261.0h1.1v1.1h-1.1zM46.5 278.2h1.1v1.1h-1.1zM172.9 233.9h1.1v1.1h-1.1zM72.0 276.1h1.1v1.1h-1.1zM127.9 268.0h1.1v1.1h-1.1zM98.2 291.7h1.1v1.1h-1.1zM104.6 271.1h1.1v1.1h-1.1zM56.8 282.5h1.1v1.1h-1.1zM49.4 277.1h1.1v1.1h-1.1zM65.7 275.9h1.1v1.1h-1.1zM58.4 283.8h1.1v1.1h-1.1zM57.6 295.6h1.1v1.1h-1.1zM224.9 255.1h1.1v1.1h-1.1zM57.0 284.7h1.1v1.1h-1.1zM98.4 285.8h1.1v1.1h-1.1zM46.3 279.7h1.1v1.1h-1.1zM78.1 292.2h1.1v1.1h-1.1zM55.6 284.5h1.1v1.1h-1.1zM45.3 302.4h1.1v1.1h-1.1zM62.3 279.9h1.1v1.1h-1.1zM145.4 280.8h1.1v1.1h-1.1zM78.5 248.7h1.1v1.1h-1.1zM73.1 265.4h1.1v1.1h-1.1zM122.7 265.6h1.1v1.1h-1.1zM70.7 272.7h1.1v1.1h-1.1zM52.7 274.4h1.1v1.1h-1.1zM49.0 274.4h1.1v1.1h-1.1zM101.5 269.5h1.1v1.1h-1.1zM70.5 285.6h1.1v1.1h-1.1zM43.8 283.8h1.1v1.1h-1.1zM176.1 277.3h1.1v1.1h-1.1zM62.4 280.7h1.1v1.1h-1.1zM106.9 267.8h1.1v1.1h-1.1zM56.6 288.7h1.1v1.1h-1.1zM90.8 269.4h1.1v1.1h-1.1zM70.6 280.1h1.1v1.1h-1.1zM49.8 260.3h1.1v1.1h-1.1zM106.6 274.2h1.1v1.1h-1.1zM55.3 274.9h1.1v1.1h-1.1zM74.6 269.6h1.1v1.1h-1.1zM108.4 269.7h1.1v1.1h-1.1zM249.6 257.9h1.1v1.1h-1.1zM67.4 278.7h1.1v1.1h-1.1zM99.7 270.7h1.1v1.1h-1.1zM68.4 274.5h1.1v1.1h-1.1zM102.2 264.7h1.1v1.1h-1.1zM43.8 273.7h1.1v1.1h-1.1zM240.1 260.9h1.1v1.1h-1.1zM44.6 271.7h1.1v1.1h-1.1zM88.8 272.8h1.1v1.1h-1.1zM43.6 293.3h1.1v1.1h-1.1zM43.4 288.8h1.1v1.1h-1.1zM116.0 275.0h1.1v1.1h-1.1zM94.0 273.9h1.1v1.1h-1.1zM51.9 279.4h1.1v1.1h-1.1zM57.8 276.0h1.1v1.1h-1.1zM50.6 270.1h1.1v1.1h-1.1zM138.5 261.1h1.1v1.1h-1.1zM115.5 273.0h1.1v1.1h-1.1zM102.0 266.5h1.1v1.1h-1.1zM91.8 272.8h1.1v1.1h-1.1zM108.8 263.9h1.1v1.1h-1.1zM45.4 272.4h1.1v1.1h-1.1zM51.0 281.3h1.1v1.1h-1.1zM64.5 269.3h1.1v1.1h-1.1zM79.0 261.6h1.1v1.1h-1.1zM116.5 266.3h1.1v1.1h-1.1zM70.1 284.9h1.1v1.1h-1.1zM50.0 281.7h1.1v1.1h-1.1zM86.1 281.1h1.1v1.1h-1.1zM170.0 256.1h1.1v1.1h-1.1zM73.4 272.8h1.1v1.1h-1.1zM86.4 270.3h1.1v1.1h-1.1zM54.0 263.1h1.1v1.1h-1.1zM91.8 266.0h1.1v1.1h-1.1zM46.3 281.6h1.1v1.1h-1.1zM107.2 285.1h1.1v1.1h-1.1zM43.3 289.5h1.1v1.1h-1.1zM94.8 277.5h1.1v1.1h-1.1zM72.2 276.5h1.1v1.1h-1.1zM124.1 278.8h1.1v1.1h-1.1zM81.9 268.1h1.1v1.1h-1.1zM164.2 254.6h1.1v1.1h-1.1zM68.0 278.7h1.1v1.1h-1.1zM38.9 302.1h1.1v1.1h-1.1zM174.6 263.1h1.1v1.1h-1.1zM88.1 274.6h1.1v1.1h-1.1zM111.0 261.9h1.1v1.1h-1.1zM115.4 270.1h1.1v1.1h-1.1zM49.9 287.5h1.1v1.1h-1.1zM134.5 279.0h1.1v1.1h-1.1zM49.6 280.9h1.1v1.1h-1.1zM59.7 298.3h1.1v1.1h-1.1zM47.4 292.0h1.1v1.1h-1.1zM74.0 268.2h1.1v1.1h-1.1zM48.8 282.8h1.1v1.1h-1.1zM42.7 285.8h1.1v1.1h-1.1zM85.2 275.5h1.1v1.1h-1.1zM51.3 292.6h1.1v1.1h-1.1zM66.6 279.3h1.1v1.1h-1.1zM97.5 267.9h1.1v1.1h-1.1zM39.7 283.7h1.1v1.1h-1.1zM151.2 274.5h1.1v1.1h-1.1zM108.8 269.6h1.1v1.1h-1.1zM99.4 263.8h1.1v1.1h-1.1zM87.3 270.7h1.1v1.1h-1.1zM169.5 252.1h1.1v1.1h-1.1zM53.2 279.2h1.1v1.1h-1.1zM52.9 294.1h1.1v1.1h-1.1zM97.2 271.7h1.1v1.1h-1.1zM42.4 284.1h1.1v1.1h-1.1zM76.3 268.3h1.1v1.1h-1.1zM85.5 268.9h1.1v1.1h-1.1zM162.1 252.7h1.1v1.1h-1.1zM51.4 274.8h1.1v1.1h-1.1zM58.3 276.1h1.1v1.1h-1.1zM104.3 275.0h1.1v1.1h-1.1zM60.9 279.2h1.1v1.1h-1.1zM59.0 266.0h1.1v1.1h-1.1zM47.5 265.2h1.1v1.1h-1.1zM42.2 282.6h1.1v1.1h-1.1zM71.4 273.2h1.1v1.1h-1.1zM43.5 286.5h1.1v1.1h-1.1zM72.9 272.6h1.1v1.1h-1.1zM101.6 270.5h1.1v1.1h-1.1zM56.1 282.8h1.1v1.1h-1.1zM81.8 265.6h1.1v1.1h-1.1zM175.7 272.7h1.1v1.1h-1.1zM44.1 283.0h1.1v1.1h-1.1zM76.6 272.7h1.1v1.1h-1.1zM88.4 267.2h1.1v1.1h-1.1zM65.0 277.4h1.1v1.1h-1.1zM57.6 286.4h1.1v1.1h-1.1zM51.2 281.0h1.1v1.1h-1.1zM55.0 287.8h1.1v1.1h-1.1zM69.7 278.4h1.1v1.1h-1.1zM169.9 270.5h1.1v1.1h-1.1zM63.1 255.0h1.1v1.1h-1.1zM116.6 287.1h1.1v1.1h-1.1zM113.4 279.5h1.1v1.1h-1.1zM60.8 266.3h1.1v1.1h-1.1zM82.8 275.4h1.1v1.1h-1.1zM49.3 293.3h1.1v1.1h-1.1zM197.6 257.3h1.1v1.1h-1.1zM67.9 256.9h1.1v1.1h-1.1zM44.0 284.1h1.1v1.1h-1.1zM112.2 262.8h1.1v1.1h-1.1zM121.2 279.8h1.1v1.1h-1.1zM102.3 275.7h1.1v1.1h-1.1zM211.7 260.0h1.1v1.1h-1.1zM54.6 277.2h1.1v1.1h-1.1zM75.1 280.4h1.1v1.1h-1.1zM73.1 279.9h1.1v1.1h-1.1zM85.9 278.7h1.1v1.1h-1.1zM60.4 284.2h1.1v1.1h-1.1zM95.5 276.2h1.1v1.1h-1.1zM70.6 280.2h1.1v1.1h-1.1zM64.3 272.3h1.1v1.1h-1.1zM88.2 284.2h1.1v1.1h-1.1zM56.2 274.0h1.1v1.1h-1.1zM56.6 262.8h1.1v1.1h-1.1zM198.7 261.0h1.1v1.1h-1.1zM59.7 281.6h1.1v1.1h-1.1zM55.1 287.0h1.1v1.1h-1.1zM182.0 267.7h1.1v1.1h-1.1zM131.4 277.8h1.1v1.1h-1.1zM157.1 263.4h1.1v1.1h-1.1zM46.6 283.6h1.1v1.1h-1.1zM113.3 263.6h1.1v1.1h-1.1zM45.6 280.9h1.1v1.1h-1.1zM76.2 267.1h1.1v1.1h-1.1zM115.5 257.2h1.1v1.1h-1.1zM106.3 262.5h1.1v1.1h-1.1zM46.1 258.3h1.1v1.1h-1.1zM86.3 262.7h1.1v1.1h-1.1zM50.0 284.5h1.1v1.1h-1.1zM118.7 263.8h1.1v1.1h-1.1zM44.3 276.9h1.1v1.1h-1.1zM51.0 278.7h1.1v1.1h-1.1zM57.4 270.9h1.1v1.1h-1.1zM67.3 269.9h1.1v1.1h-1.1zM160.6 253.6h1.1v1.1h-1.1zM51.6 280.4h1.1v1.1h-1.1zM119.0 276.1h1.1v1.1h-1.1zM55.6 281.7h1.1v1.1h-1.1zM218.4 276.4h1.1v1.1h-1.1zM84.0 296.5h1.1v1.1h-1.1zM46.4 291.6h1.1v1.1h-1.1zM65.7 280.2h1.1v1.1h-1.1zM91.9 277.5h1.1v1.1h-1.1zM113.5 259.8h1.1v1.1h-1.1zM68.4 284.9h1.1v1.1h-1.1zM61.5 287.5h1.1v1.1h-1.1zM94.1 255.5h1.1v1.1h-1.1zM48.7 294.8h1.1v1.1h-1.1zM102.7 264.4h1.1v1.1h-1.1zM59.2 278.3h1.1v1.1h-1.1zM104.0 291.4h1.1v1.1h-1.1zM46.1 274.0h1.1v1.1h-1.1zM61.9 279.5h1.1v1.1h-1.1zM58.1 274.2h1.1v1.1h-1.1zM64.1 274.0h1.1v1.1h-1.1zM183.4 260.3h1.1v1.1h-1.1zM120.8 261.3h1.1v1.1h-1.1zM44.3 264.5h1.1v1.1h-1.1zM82.9 270.8h1.1v1.1h-1.1zM138.7 268.4h1.1v1.1h-1.1zM113.1 262.1h1.1v1.1h-1.1zM46.3 278.4h1.1v1.1h-1.1zM104.7 291.0h1.1v1.1h-1.1zM90.4 268.4h1.1v1.1h-1.1zM151.5 268.8h1.1v1.1h-1.1zM82.6 275.4h1.1v1.1h-1.1zM67.5 288.2h1.1v1.1h-1.1zM52.7 262.3h1.1v1.1h-1.1zM86.4 268.5h1.1v1.1h-1.1zM62.1 280.6h1.1v1.1h-1.1zM60.7 280.7h1.1v1.1h-1.1zM66.4 277.2h1.1v1.1h-1.1zM50.9 281.1h1.1v1.1h-1.1zM65.7 268.7h1.1v1.1h-1.1zM54.4 275.2h1.1v1.1h-1.1zM72.8 279.1h1.1v1.1h-1.1zM43.2 286.9h1.1v1.1h-1.1zM87.5 267.5h1.1v1.1h-1.1zM112.3 277.6h1.1v1.1h-1.1zM100.9 274.3h1.1v1.1h-1.1zM142.8 258.7h1.1v1.1h-1.1zM159.0 265.0h1.1v1.1h-1.1zM76.3 261.1h1.1v1.1h-1.1zM88.8 281.6h1.1v1.1h-1.1zM50.3 284.3h1.1v1.1h-1.1zM72.9 281.6h1.1v1.1h-1.1zM183.9 270.0h1.1v1.1h-1.1zM104.1 264.2h1.1v1.1h-1.1zM192.9 253.6h1.1v1.1h-1.1zM59.4 276.1h1.1v1.1h-1.1zM50.4 281.0h1.1v1.1h-1.1zM49.2 264.7h1.1v1.1h-1.1zM38.6 274.4h1.1v1.1h-1.1zM83.5 291.2h1.1v1.1h-1.1zM105.1 270.7h1.1v1.1h-1.1zM44.7 301.2h1.1v1.1h-1.1zM186.1 275.1h1.1v1.1h-1.1zM58.3 283.0h1.1v1.1h-1.1zM48.0 291.3h1.1v1.1h-1.1zM100.9 265.6h1.1v1.1h-1.1zM43.9 287.5h1.1v1.1h-1.1zM75.3 275.7h1.1v1.1h-1.1zM86.9 272.8h1.1v1.1h-1.1zM86.1 257.1h1.1v1.1h-1.1zM49.0 277.9h1.1v1.1h-1.1zM117.5 261.2h1.1v1.1h-1.1zM71.6 269.6h1.1v1.1h-1.1zM81.3 262.2h1.1v1.1h-1.1zM58.1 276.7h1.1v1.1h-1.1zM241.5 260.1h1.1v1.1h-1.1zM43.0 273.0h1.1v1.1h-1.1zM54.3 276.7h1.1v1.1h-1.1zM91.1 284.6h1.1v1.1h-1.1zM58.8 288.2h1.1v1.1h-1.1zM92.5 275.0h1.1v1.1h-1.1zM87.2 268.0h1.1v1.1h-1.1zM59.6 283.6h1.1v1.1h-1.1zM124.5 255.8h1.1v1.1h-1.1zM100.3 267.1h1.1v1.1h-1.1zM89.6 273.9h1.1v1.1h-1.1zM72.6 284.9h1.1v1.1h-1.1zM81.5 266.7h1.1v1.1h-1.1zM153.7 260.0h1.1v1.1h-1.1zM110.8 278.8h1.1v1.1h-1.1zM52.8 267.1h1.1v1.1h-1.1zM145.5 256.0h1.1v1.1h-1.1zM86.7 259.4h1.1v1.1h-1.1zM67.8 275.3h1.1v1.1h-1.1zM65.8 267.0h1.1v1.1h-1.1zM71.1 292.7h1.1v1.1h-1.1zM64.7 271.9h1.1v1.1h-1.1zM182.8 266.3h1.1v1.1h-1.1zM96.2 272.0h1.1v1.1h-1.1zM49.5 276.6h1.1v1.1h-1.1zM54.2 284.7h1.1v1.1h-1.1zM59.9 278.7h1.1v1.1h-1.1zM198.2 270.1h1.1v1.1h-1.1zM83.9 280.1h1.1v1.1h-1.1zM78.5 283.7h1.1v1.1h-1.1zM179.7 260.5h1.1v1.1h-1.1zM125.4 258.0h1.1v1.1h-1.1zM44.1 292.7h1.1v1.1h-1.1zM58.2 291.8h1.1v1.1h-1.1zM78.0 275.7h1.1v1.1h-1.1zM72.0 271.2h1.1v1.1h-1.1zM42.2 283.3h1.1v1.1h-1.1zM67.2 285.9h1.1v1.1h-1.1zM155.4 265.4h1.1v1.1h-1.1zM91.6 279.0h1.1v1.1h-1.1zM52.5 283.2h1.1v1.1h-1.1zM108.3 271.3h1.1v1.1h-1.1zM45.0 287.5h1.1v1.1h-1.1zM168.4 260.7h1.1v1.1h-1.1zM73.1 279.2h1.1v1.1h-1.1zM161.3 252.8h1.1v1.1h-1.1zM108.9 269.2h1.1v1.1h-1.1zM186.5 272.3h1.1v1.1h-1.1zM69.2 266.6h1.1v1.1h-1.1zM65.6 268.3h1.1v1.1h-1.1zM49.0 278.9h1.1v1.1h-1.1zM98.1 271.4h1.1v1.1h-1.1zM51.1 277.2h1.1v1.1h-1.1zM63.4 268.8h1.1v1.1h-1.1zM85.0 274.4h1.1v1.1h-1.1zM102.0 264.3h1.1v1.1h-1.1zM51.8 284.9h1.1v1.1h-1.1zM74.2 270.1h1.1v1.1h-1.1zM38.8 297.9h1.1v1.1h-1.1zM45.0 280.6h1.1v1.1h-1.1zM86.8 268.0h1.1v1.1h-1.1zM98.8 275.7h1.1v1.1h-1.1zM57.3 274.8h1.1v1.1h-1.1zM78.7 290.3h1.1v1.1h-1.1zM113.5 270.5h1.1v1.1h-1.1zM66.9 278.0h1.1v1.1h-1.1zM164.1 259.7h1.1v1.1h-1.1zM64.8 276.4h1.1v1.1h-1.1zM117.0 261.1h1.1v1.1h-1.1zM84.3 256.6h1.1v1.1h-1.1zM76.0 273.3h1.1v1.1h-1.1zM65.1 268.2h1.1v1.1h-1.1zM110.7 256.4h1.1v1.1h-1.1zM76.9 265.6h1.1v1.1h-1.1zM112.0 260.9h1.1v1.1h-1.1zM117.8 270.8h1.1v1.1h-1.1zM101.5 267.7h1.1v1.1h-1.1zM59.2 286.1h1.1v1.1h-1.1zM163.1 257.6h1.1v1.1h-1.1zM83.4 269.4h1.1v1.1h-1.1zM58.5 273.6h1.1v1.1h-1.1zM112.7 284.3h1.1v1.1h-1.1zM52.6 270.1h1.1v1.1h-1.1zM40.6 273.4h1.1v1.1h-1.1zM157.6 253.6h1.1v1.1h-1.1zM49.0 276.6h1.1v1.1h-1.1zM64.6 263.8h1.1v1.1h-1.1zM67.8 274.5h1.1v1.1h-1.1zM47.4 287.1h1.1v1.1h-1.1zM71.5 274.7h1.1v1.1h-1.1zM57.3 283.6h1.1v1.1h-1.1zM53.1 263.2h1.1v1.1h-1.1zM63.8 297.1h1.1v1.1h-1.1zM92.5 269.5h1.1v1.1h-1.1zM162.6 271.1h1.1v1.1h-1.1zM84.8 277.5h1.1v1.1h-1.1zM177.7 257.4h1.1v1.1h-1.1zM81.1 273.7h1.1v1.1h-1.1zM61.4 266.8h1.1v1.1h-1.1zM78.6 274.6h1.1v1.1h-1.1zM79.0 274.5h1.1v1.1h-1.1zM113.3 268.5h1.1v1.1h-1.1zM68.1 264.2h1.1v1.1h-1.1zM128.7 273.2h1.1v1.1h-1.1zM46.1 285.3h1.1v1.1h-1.1zM62.6 281.1h1.1v1.1h-1.1zM67.7 279.3h1.1v1.1h-1.1zM59.1 288.0h1.1v1.1h-1.1zM59.7 279.9h1.1v1.1h-1.1zM58.3 273.8h1.1v1.1h-1.1zM102.3 259.5h1.1v1.1h-1.1zM74.8 270.2h1.1v1.1h-1.1zM45.1 288.5h1.1v1.1h-1.1zM45.2 270.8h1.1v1.1h-1.1zM120.3 282.6h1.1v1.1h-1.1zM99.5 267.3h1.1v1.1h-1.1zM90.3 281.9h1.1v1.1h-1.1zM48.0 282.7h1.1v1.1h-1.1zM45.2 295.1h1.1v1.1h-1.1zM55.1 291.8h1.1v1.1h-1.1zM50.9 285.0h1.1v1.1h-1.1zM50.8 264.9h1.1v1.1h-1.1zM228.8 257.9h1.1v1.1h-1.1zM67.6 267.7h1.1v1.1h-1.1zM93.7 274.5h1.1v1.1h-1.1zM137.5 267.0h1.1v1.1h-1.1zM70.0 281.7h1.1v1.1h-1.1zM97.8 276.0h1.1v1.1h-1.1zM82.5 276.3h1.1v1.1h-1.1zM71.9 266.5h1.1v1.1h-1.1zM97.1 268.8h1.1v1.1h-1.1zM53.6 285.3h1.1v1.1h-1.1zM50.9 281.7h1.1v1.1h-1.1zM82.8 280.9h1.1v1.1h-1.1zM59.4 272.7h1.1v1.1h-1.1zM51.2 277.7h1.1v1.1h-1.1zM77.6 271.7h1.1v1.1h-1.1zM108.5 264.4h1.1v1.1h-1.1zM60.1 272.2h1.1v1.1h-1.1zM55.6 265.6h1.1v1.1h-1.1zM86.3 279.3h1.1v1.1h-1.1zM55.0 272.0h1.1v1.1h-1.1zM63.3 277.6h1.1v1.1h-1.1zM45.6 274.9h1.1v1.1h-1.1zM108.8 273.8h1.1v1.1h-1.1zM73.0 288.6h1.1v1.1h-1.1zM90.1 275.4h1.1v1.1h-1.1zM66.6 280.8h1.1v1.1h-1.1zM114.8 277.8h1.1v1.1h-1.1zM76.5 277.0h1.1v1.1h-1.1zM74.2 264.1h1.1v1.1h-1.1zM80.9 276.2h1.1v1.1h-1.1zM107.4 264.6h1.1v1.1h-1.1zM44.8 271.6h1.1v1.1h-1.1zM64.7 266.8h1.1v1.1h-1.1zM45.6 278.9h1.1v1.1h-1.1zM103.5 263.1h1.1v1.1h-1.1zM70.4 278.4h1.1v1.1h-1.1zM124.2 278.5h1.1v1.1h-1.1zM58.1 290.5h1.1v1.1h-1.1zM128.8 260.4h1.1v1.1h-1.1zM45.4 271.2h1.1v1.1h-1.1zM45.4 285.6h1.1v1.1h-1.1zM58.3 277.2h1.1v1.1h-1.1zM46.3 302.4h1.1v1.1h-1.1zM69.1 268.7h1.1v1.1h-1.1zM61.2 277.6h1.1v1.1h-1.1zM96.7 286.0h1.1v1.1h-1.1zM123.1 264.5h1.1v1.1h-1.1zM114.7 264.5h1.1v1.1h-1.1zM119.4 262.1h1.1v1.1h-1.1zM43.4 285.3h1.1v1.1h-1.1zM53.1 276.7h1.1v1.1h-1.1zM138.6 273.7h1.1v1.1h-1.1zM144.9 255.0h1.1v1.1h-1.1zM179.3 265.8h1.1v1.1h-1.1zM155.8 255.1h1.1v1.1h-1.1zM70.3 270.0h1.1v1.1h-1.1zM60.6 278.6h1.1v1.1h-1.1zM45.9 271.2h1.1v1.1h-1.1zM68.3 280.6h1.1v1.1h-1.1zM46.2 279.1h1.1v1.1h-1.1zM86.0 271.3h1.1v1.1h-1.1zM52.3 280.2h1.1v1.1h-1.1zM43.3 282.6h1.1v1.1h-1.1zM43.8 277.7h1.1v1.1h-1.1zM65.5 278.5h1.1v1.1h-1.1zM45.3 287.1h1.1v1.1h-1.1zM58.9 278.7h1.1v1.1h-1.1zM139.3 270.9h1.1v1.1h-1.1zM61.5 284.8h1.1v1.1h-1.1zM117.9 266.5h1.1v1.1h-1.1zM60.9 291.6h1.1v1.1h-1.1zM42.8 285.5h1.1v1.1h-1.1zM53.6 282.8h1.1v1.1h-1.1zM123.3 267.3h1.1v1.1h-1.1zM80.5 269.6h1.1v1.1h-1.1zM56.0 276.1h1.1v1.1h-1.1zM49.2 281.1h1.1v1.1h-1.1zM77.5 262.6h1.1v1.1h-1.1zM53.8 283.4h1.1v1.1h-1.1zM125.2 277.9h1.1v1.1h-1.1zM43.8 286.5h1.1v1.1h-1.1zM151.8 260.2h1.1v1.1h-1.1zM103.6 256.4h1.1v1.1h-1.1zM128.9 251.5h1.1v1.1h-1.1zM73.9 271.1h1.1v1.1h-1.1zM101.2 261.6h1.1v1.1h-1.1zM46.8 268.1h1.1v1.1h-1.1zM72.1 278.6h1.1v1.1h-1.1zM79.1 260.5h1.1v1.1h-1.1zM57.2 273.8h1.1v1.1h-1.1zM70.3 275.7h1.1v1.1h-1.1zM137.0 262.5h1.1v1.1h-1.1zM62.2 270.6h1.1v1.1h-1.1zM60.7 294.0h1.1v1.1h-1.1zM65.8 274.7h1.1v1.1h-1.1zM144.3 264.4h1.1v1.1h-1.1zM44.2 289.8h1.1v1.1h-1.1zM68.8 273.4h1.1v1.1h-1.1zM96.2 274.4h1.1v1.1h-1.1zM59.3 284.1h1.1v1.1h-1.1zM74.5 275.2h1.1v1.1h-1.1zM142.5 282.3h1.1v1.1h-1.1zM63.7 272.4h1.1v1.1h-1.1zM73.0 269.8h1.1v1.1h-1.1zM43.9 281.5h1.1v1.1h-1.1zM81.3 268.7h1.1v1.1h-1.1zM50.7 284.0h1.1v1.1h-1.1zM47.3 286.9h1.1v1.1h-1.1zM84.4 288.4h1.1v1.1h-1.1zM76.3 289.0h1.1v1.1h-1.1zM91.3 278.1h1.1v1.1h-1.1zM50.5 272.5h1.1v1.1h-1.1zM40.5 287.6h1.1v1.1h-1.1zM120.6 258.3h1.1v1.1h-1.1zM117.4 263.2h1.1v1.1h-1.1zM62.0 285.5h1.1v1.1h-1.1zM50.5 285.6h1.1v1.1h-1.1zM77.6 283.5h1.1v1.1h-1.1zM70.2 287.7h1.1v1.1h-1.1zM75.5 272.1h1.1v1.1h-1.1zM52.8 273.6h1.1v1.1h-1.1zM52.1 287.6h1.1v1.1h-1.1zM55.1 269.5h1.1v1.1h-1.1zM54.3 271.2h1.1v1.1h-1.1zM121.4 273.3h1.1v1.1h-1.1zM53.0 276.3h1.1v1.1h-1.1zM100.6 278.7h1.1v1.1h-1.1zM42.8 284.9h1.1v1.1h-1.1zM79.4 269.2h1.1v1.1h-1.1zM131.8 282.4h1.1v1.1h-1.1zM50.6 267.6h1.1v1.1h-1.1zM116.8 282.7h1.1v1.1h-1.1zM96.5 270.7h1.1v1.1h-1.1zM89.9 276.0h1.1v1.1h-1.1zM73.9 266.7h1.1v1.1h-1.1zM47.2 289.5h1.1v1.1h-1.1zM121.5 272.5h1.1v1.1h-1.1zM143.0 241.6h1.1v1.1h-1.1zM43.3 269.7h1.1v1.1h-1.1zM67.3 267.7h1.1v1.1h-1.1zM45.9 288.9h1.1v1.1h-1.1zM121.9 265.7h1.1v1.1h-1.1zM47.9 295.7h1.1v1.1h-1.1zM58.2 284.3h1.1v1.1h-1.1zM104.2 266.9h1.1v1.1h-1.1zM62.1 269.5h1.1v1.1h-1.1zM47.6 284.6h1.1v1.1h-1.1zM60.7 270.4h1.1v1.1h-1.1zM62.8 269.0h1.1v1.1h-1.1zM46.6 290.9h1.1v1.1h-1.1zM120.0 266.8h1.1v1.1h-1.1zM62.0 276.9h1.1v1.1h-1.1zM55.3 265.8h1.1v1.1h-1.1zM91.3 281.9h1.1v1.1h-1.1zM56.8 274.0h1.1v1.1h-1.1zM77.2 275.2h1.1v1.1h-1.1zM93.4 255.4h1.1v1.1h-1.1zM75.9 294.0h1.1v1.1h-1.1zM47.3 267.0h1.1v1.1h-1.1zM160.3 266.4h1.1v1.1h-1.1zM164.7 260.3h1.1v1.1h-1.1zM71.1 287.9h1.1v1.1h-1.1z" fill="#111"/>
<path d="M317.0 280.9h1.1v1.1h-1.1zM317.3 283.6h1.1v1.1h-1.1zM331.6 275.4h1.1v1.1h-1.1zM329.7 275.8h1.1v1.1h-1.1zM330.4 281.1h1.1v1.1h-1.1zM328.4 271.7h1.1v1.1h-1.1zM371.1 263.4h1.1v1.1h-1.1zM309.6 284.6h1.1v1.1h-1.1zM361.1 266.0h1.1v1.1h-1.1zM378.5 269.5h1.1v1.1h-1.1zM341.7 277.7h1.1v1.1h-1.1zM324.2 282.1h1.1v1.1h-1.1zM432.1 255.5h1.1v1.1h-1.1zM302.9 295.7h1.1v1.1h-1.1zM351.2 281.7h1.1v1.1h-1.1zM330.5 270.9h1.1v1.1h-1.1zM302.7 289.5h1.1v1.1h-1.1zM317.2 292.6h1.1v1.1h-1.1zM325.3 288.1h1.1v1.1h-1.1zM311.6 286.6h1.1v1.1h-1.1zM339.2 285.5h1.1v1.1h-1.1zM315.7 284.4h1.1v1.1h-1.1zM347.6 277.6h1.1v1.1h-1.1zM324.2 279.1h1.1v1.1h-1.1zM313.5 292.8h1.1v1.1h-1.1zM344.9 277.3h1.1v1.1h-1.1zM338.6 275.6h1.1v1.1h-1.1zM307.6 296.6h1.1v1.1h-1.1zM325.6 290.1h1.1v1.1h-1.1zM324.9 272.4h1.1v1.1h-1.1zM390.8 273.2h1.1v1.1h-1.1zM330.5 287.6h1.1v1.1h-1.1zM315.4 276.5h1.1v1.1h-1.1zM370.0 274.8h1.1v1.1h-1.1zM324.0 292.0h1.1v1.1h-1.1zM341.0 280.2h1.1v1.1h-1.1zM313.9 282.4h1.1v1.1h-1.1zM308.5 278.2h1.1v1.1h-1.1zM311.6 293.1h1.1v1.1h-1.1zM389.5 269.6h1.1v1.1h-1.1zM309.4 278.7h1.1v1.1h-1.1zM309.1 304.4h1.1v1.1h-1.1zM306.5 288.5h1.1v1.1h-1.1zM349.2 271.7h1.1v1.1h-1.1zM333.0 278.1h1.1v1.1h-1.1zM305.0 289.9h1.1v1.1h-1.1zM385.6 278.7h1.1v1.1h-1.1zM352.4 272.2h1.1v1.1h-1.1zM321.1 282.7h1.1v1.1h-1.1zM324.3 287.4h1.1v1.1h-1.1zM312.9 281.0h1.1v1.1h-1.1zM310.9 281.7h1.1v1.1h-1.1zM339.3 279.4h1.1v1.1h-1.1zM391.8 267.8h1.1v1.1h-1.1zM342.4 276.2h1.1v1.1h-1.1zM308.4 287.0h1.1v1.1h-1.1zM389.2 255.5h1.1v1.1h-1.1zM310.7 284.5h1.1v1.1h-1.1zM304.6 291.7h1.1v1.1h-1.1zM336.8 273.9h1.1v1.1h-1.1zM310.7 278.7h1.1v1.1h-1.1zM364.6 273.0h1.1v1.1h-1.1zM324.5 290.1h1.1v1.1h-1.1zM393.7 269.4h1.1v1.1h-1.1zM399.3 272.6h1.1v1.1h-1.1zM334.4 281.0h1.1v1.1h-1.1zM391.4 263.8h1.1v1.1h-1.1zM344.8 268.5h1.1v1.1h-1.1zM320.8 277.2h1.1v1.1h-1.1zM306.3 276.8h1.1v1.1h-1.1zM348.4 269.4h1.1v1.1h-1.1zM311.7 276.4h1.1v1.1h-1.1zM341.1 277.2h1.1v1.1h-1.1zM328.7 277.1h1.1v1.1h-1.1zM299.3 292.5h1.1v1.1h-1.1zM312.6 271.4h1.1v1.1h-1.1zM329.0 281.7h1.1v1.1h-1.1zM309.6 279.6h1.1v1.1h-1.1zM339.1 283.8h1.1v1.1h-1.1zM339.1 270.0h1.1v1.1h-1.1zM455.3 268.4h1.1v1.1h-1.1zM394.4 275.1h1.1v1.1h-1.1zM334.9 272.0h1.1v1.1h-1.1zM340.4 272.7h1.1v1.1h-1.1zM347.0 275.6h1.1v1.1h-1.1zM311.3 286.9h1.1v1.1h-1.1zM313.1 284.4h1.1v1.1h-1.1zM387.3 263.8h1.1v1.1h-1.1zM390.7 272.5h1.1v1.1h-1.1zM315.7 289.4h1.1v1.1h-1.1zM307.1 280.6h1.1v1.1h-1.1zM307.7 296.0h1.1v1.1h-1.1zM364.9 273.1h1.1v1.1h-1.1zM319.9 274.4h1.1v1.1h-1.1zM333.2 277.2h1.1v1.1h-1.1zM315.5 274.1h1.1v1.1h-1.1zM319.6 265.8h1.1v1.1h-1.1zM314.9 288.8h1.1v1.1h-1.1zM304.1 294.9h1.1v1.1h-1.1zM330.5 282.5h1.1v1.1h-1.1zM332.0 281.7h1.1v1.1h-1.1zM304.3 297.8h1.1v1.1h-1.1zM361.3 265.9h1.1v1.1h-1.1zM365.2 267.3h1.1v1.1h-1.1zM336.5 267.8h1.1v1.1h-1.1zM341.1 275.5h1.1v1.1h-1.1zM345.9 276.8h1.1v1.1h-1.1zM326.0 285.1h1.1v1.1h-1.1zM311.2 277.5h1.1v1.1h-1.1zM319.8 276.7h1.1v1.1h-1.1zM322.9 277.4h1.1v1.1h-1.1zM324.2 279.7h1.1v1.1h-1.1zM320.8 287.2h1.1v1.1h-1.1zM316.8 273.8h1.1v1.1h-1.1zM314.7 274.3h1.1v1.1h-1.1zM307.1 288.3h1.1v1.1h-1.1zM341.2 276.1h1.1v1.1h-1.1zM322.3 279.8h1.1v1.1h-1.1zM351.8 274.0h1.1v1.1h-1.1zM372.5 263.1h1.1v1.1h-1.1zM317.5 279.1h1.1v1.1h-1.1zM322.4 280.9h1.1v1.1h-1.1zM314.0 279.0h1.1v1.1h-1.1zM304.6 289.0h1.1v1.1h-1.1zM329.1 283.9h1.1v1.1h-1.1zM369.7 274.6h1.1v1.1h-1.1zM360.8 278.0h1.1v1.1h-1.1zM317.4 285.0h1.1v1.1h-1.1zM322.3 276.3h1.1v1.1h-1.1zM320.2 277.8h1.1v1.1h-1.1zM332.8 267.9h1.1v1.1h-1.1zM301.6 283.3h1.1v1.1h-1.1zM336.5 274.3h1.1v1.1h-1.1zM312.4 281.8h1.1v1.1h-1.1zM308.1 283.7h1.1v1.1h-1.1zM310.0 284.9h1.1v1.1h-1.1zM446.3 269.7h1.1v1.1h-1.1zM380.3 267.8h1.1v1.1h-1.1zM331.3 265.8h1.1v1.1h-1.1zM297.0 288.7h1.1v1.1h-1.1zM322.4 286.6h1.1v1.1h-1.1zM339.5 287.6h1.1v1.1h-1.1zM311.2 277.9h1.1v1.1h-1.1zM329.9 277.4h1.1v1.1h-1.1zM304.7 301.9h1.1v1.1h-1.1zM432.4 279.4h1.1v1.1h-1.1zM321.7 284.5h1.1v1.1h-1.1zM308.8 292.3h1.1v1.1h-1.1zM297.1 294.2h1.1v1.1h-1.1zM311.1 278.0h1.1v1.1h-1.1zM347.6 283.2h1.1v1.1h-1.1zM311.3 284.9h1.1v1.1h-1.1zM323.1 271.8h1.1v1.1h-1.1zM324.2 277.0h1.1v1.1h-1.1zM431.9 269.7h1.1v1.1h-1.1zM375.0 279.8h1.1v1.1h-1.1zM317.3 273.8h1.1v1.1h-1.1zM322.5 284.9h1.1v1.1h-1.1zM332.0 272.2h1.1v1.1h-1.1zM407.3 259.1h1.1v1.1h-1.1zM372.3 276.9h1.1v1.1h-1.1zM312.9 272.0h1.1v1.1h-1.1zM386.0 269.6h1.1v1.1h-1.1zM365.7 277.3h1.1v1.1h-1.1zM335.5 259.1h1.1v1.1h-1.1zM339.6 276.3h1.1v1.1h-1.1zM333.1 270.2h1.1v1.1h-1.1zM337.9 287.4h1.1v1.1h-1.1zM334.0 275.7h1.1v1.1h-1.1zM331.6 281.6h1.1v1.1h-1.1zM368.5 279.3h1.1v1.1h-1.1zM336.9 285.7h1.1v1.1h-1.1zM313.7 280.9h1.1v1.1h-1.1zM315.8 288.0h1.1v1.1h-1.1zM350.5 270.8h1.1v1.1h-1.1zM322.0 278.3h1.1v1.1h-1.1zM316.5 288.3h1.1v1.1h-1.1zM323.2 289.1h1.1v1.1h-1.1zM309.3 283.1h1.1v1.1h-1.1zM316.8 288.2h1.1v1.1h-1.1zM401.6 267.3h1.1v1.1h-1.1zM311.5 290.6h1.1v1.1h-1.1zM420.1 261.4h1.1v1.1h-1.1zM317.4 283.0h1.1v1.1h-1.1zM318.5 291.2h1.1v1.1h-1.1zM312.2 285.6h1.1v1.1h-1.1zM311.0 288.6h1.1v1.1h-1.1zM311.0 280.2h1.1v1.1h-1.1zM319.0 279.3h1.1v1.1h-1.1zM341.0 278.8h1.1v1.1h-1.1zM305.4 283.3h1.1v1.1h-1.1zM310.8 279.3h1.1v1.1h-1.1zM298.8 303.9h1.1v1.1h-1.1zM322.7 287.1h1.1v1.1h-1.1zM303.5 278.1h1.1v1.1h-1.1zM302.7 282.5h1.1v1.1h-1.1zM366.6 277.7h1.1v1.1h-1.1zM397.7 271.7h1.1v1.1h-1.1zM319.2 276.2h1.1v1.1h-1.1zM326.6 292.8h1.1v1.1h-1.1zM305.3 290.1h1.1v1.1h-1.1zM380.0 281.3h1.1v1.1h-1.1zM379.5 274.2h1.1v1.1h-1.1zM346.9 268.9h1.1v1.1h-1.1zM322.5 261.0h1.1v1.1h-1.1zM330.8 274.9h1.1v1.1h-1.1zM346.2 265.3h1.1v1.1h-1.1zM428.9 272.4h1.1v1.1h-1.1zM307.0 286.3h1.1v1.1h-1.1zM403.6 266.0h1.1v1.1h-1.1zM318.3 296.5h1.1v1.1h-1.1zM340.4 281.0h1.1v1.1h-1.1zM304.4 282.6h1.1v1.1h-1.1zM325.3 278.1h1.1v1.1h-1.1zM320.3 287.5h1.1v1.1h-1.1zM487.3 261.4h1.1v1.1h-1.1zM302.1 294.6h1.1v1.1h-1.1zM305.7 285.3h1.1v1.1h-1.1zM432.3 275.6h1.1v1.1h-1.1zM376.2 275.1h1.1v1.1h-1.1zM311.6 281.9h1.1v1.1h-1.1zM408.3 262.6h1.1v1.1h-1.1zM330.1 266.1h1.1v1.1h-1.1zM376.2 280.2h1.1v1.1h-1.1zM395.6 262.9h1.1v1.1h-1.1zM397.5 265.5h1.1v1.1h-1.1zM330.2 268.9h1.1v1.1h-1.1zM305.3 288.4h1.1v1.1h-1.1zM309.3 289.1h1.1v1.1h-1.1zM340.5 261.4h1.1v1.1h-1.1zM336.1 275.7h1.1v1.1h-1.1zM310.8 279.5h1.1v1.1h-1.1zM297.4 288.1h1.1v1.1h-1.1zM310.0 289.2h1.1v1.1h-1.1zM331.5 291.3h1.1v1.1h-1.1zM311.2 291.7h1.1v1.1h-1.1zM330.7 291.1h1.1v1.1h-1.1zM337.0 274.9h1.1v1.1h-1.1zM304.3 282.7h1.1v1.1h-1.1zM396.0 260.6h1.1v1.1h-1.1zM392.1 262.1h1.1v1.1h-1.1zM401.3 264.4h1.1v1.1h-1.1zM407.6 273.6h1.1v1.1h-1.1zM329.3 287.7h1.1v1.1h-1.1zM308.6 295.3h1.1v1.1h-1.1zM400.1 264.0h1.1v1.1h-1.1zM421.2 268.4h1.1v1.1h-1.1zM308.5 278.6h1.1v1.1h-1.1zM355.9 269.2h1.1v1.1h-1.1zM305.3 297.2h1.1v1.1h-1.1zM413.7 264.4h1.1v1.1h-1.1zM368.8 280.9h1.1v1.1h-1.1zM314.4 280.0h1.1v1.1h-1.1zM333.8 258.3h1.1v1.1h-1.1zM398.5 278.4h1.1v1.1h-1.1zM431.0 265.2h1.1v1.1h-1.1zM386.0 260.5h1.1v1.1h-1.1zM343.3 286.7h1.1v1.1h-1.1zM324.4 286.5h1.1v1.1h-1.1zM334.6 283.8h1.1v1.1h-1.1zM312.6 283.2h1.1v1.1h-1.1zM319.2 277.4h1.1v1.1h-1.1zM314.1 285.8h1.1v1.1h-1.1zM308.5 284.1h1.1v1.1h-1.1zM327.8 287.8h1.1v1.1h-1.1zM410.4 275.4h1.1v1.1h-1.1zM327.5 291.3h1.1v1.1h-1.1zM305.0 284.6h1.1v1.1h-1.1zM326.3 269.2h1.1v1.1h-1.1zM332.4 280.7h1.1v1.1h-1.1zM329.2 281.4h1.1v1.1h-1.1zM328.3 276.2h1.1v1.1h-1.1zM347.2 271.6h1.1v1.1h-1.1zM308.0 282.9h1.1v1.1h-1.1zM387.8 266.6h1.1v1.1h-1.1zM319.8 292.7h1.1v1.1h-1.1zM345.0 266.0h1.1v1.1h-1.1zM318.3 281.7h1.1v1.1h-1.1zM383.9 272.1h1.1v1.1h-1.1zM307.5 286.3h1.1v1.1h-1.1zM393.2 262.1h1.1v1.1h-1.1zM509.5 267.8h1.1v1.1h-1.1zM312.4 279.4h1.1v1.1h-1.1zM338.8 279.6h1.1v1.1h-1.1zM300.0 299.0h1.1v1.1h-1.1zM296.3 295.5h1.1v1.1h-1.1zM329.3 273.2h1.1v1.1h-1.1zM337.8 267.7h1.1v1.1h-1.1zM314.5 281.6h1.1v1.1h-1.1zM298.2 295.7h1.1v1.1h-1.1zM321.1 278.2h1.1v1.1h-1.1zM421.1 269.5h1.1v1.1h-1.1zM340.0 280.1h1.1v1.1h-1.1zM306.8 282.9h1.1v1.1h-1.1zM315.7 279.7h1.1v1.1h-1.1zM301.0 289.6h1.1v1.1h-1.1zM339.1 266.7h1.1v1.1h-1.1zM312.5 284.3h1.1v1.1h-1.1zM311.2 286.3h1.1v1.1h-1.1zM307.7 287.9h1.1v1.1h-1.1zM314.7 290.9h1.1v1.1h-1.1zM366.6 272.9h1.1v1.1h-1.1zM305.1 301.3h1.1v1.1h-1.1zM338.1 275.1h1.1v1.1h-1.1zM310.3 282.3h1.1v1.1h-1.1zM309.3 291.9h1.1v1.1h-1.1zM321.6 291.1h1.1v1.1h-1.1zM333.3 280.8h1.1v1.1h-1.1zM347.0 260.3h1.1v1.1h-1.1zM426.7 267.6h1.1v1.1h-1.1zM317.6 280.7h1.1v1.1h-1.1zM314.9 280.9h1.1v1.1h-1.1zM366.7 281.1h1.1v1.1h-1.1zM310.3 286.0h1.1v1.1h-1.1zM308.2 283.9h1.1v1.1h-1.1zM307.7 290.3h1.1v1.1h-1.1zM320.5 274.4h1.1v1.1h-1.1zM388.8 274.2h1.1v1.1h-1.1zM342.9 277.5h1.1v1.1h-1.1zM338.1 270.7h1.1v1.1h-1.1zM312.5 288.1h1.1v1.1h-1.1zM311.8 286.8h1.1v1.1h-1.1zM304.0 291.1h1.1v1.1h-1.1zM307.7 286.3h1.1v1.1h-1.1zM303.4 286.9h1.1v1.1h-1.1zM418.0 275.7h1.1v1.1h-1.1zM315.5 278.2h1.1v1.1h-1.1zM393.3 272.0h1.1v1.1h-1.1zM327.7 266.4h1.1v1.1h-1.1zM318.3 270.3h1.1v1.1h-1.1zM368.3 278.9h1.1v1.1h-1.1zM315.6 287.5h1.1v1.1h-1.1zM330.7 284.5h1.1v1.1h-1.1zM362.8 272.8h1.1v1.1h-1.1zM303.2 288.5h1.1v1.1h-1.1zM338.7 282.9h1.1v1.1h-1.1zM388.6 273.2h1.1v1.1h-1.1zM331.8 279.9h1.1v1.1h-1.1zM347.0 272.7h1.1v1.1h-1.1zM339.7 285.3h1.1v1.1h-1.1zM312.9 284.9h1.1v1.1h-1.1zM309.4 291.0h1.1v1.1h-1.1zM318.6 275.5h1.1v1.1h-1.1zM345.4 269.5h1.1v1.1h-1.1zM310.1 288.0h1.1v1.1h-1.1zM318.0 280.6h1.1v1.1h-1.1zM433.8 272.0h1.1v1.1h-1.1zM318.9 280.8h1.1v1.1h-1.1zM367.8 265.1h1.1v1.1h-1.1zM405.4 264.9h1.1v1.1h-1.1zM365.7 267.0h1.1v1.1h-1.1zM318.4 282.2h1.1v1.1h-1.1zM345.1 288.5h1.1v1.1h-1.1zM348.4 278.1h1.1v1.1h-1.1zM306.8 289.7h1.1v1.1h-1.1zM345.4 271.1h1.1v1.1h-1.1zM391.4 280.1h1.1v1.1h-1.1zM312.2 295.4h1.1v1.1h-1.1zM335.8 283.1h1.1v1.1h-1.1zM338.0 279.2h1.1v1.1h-1.1zM314.3 293.6h1.1v1.1h-1.1zM315.6 289.0h1.1v1.1h-1.1zM313.1 280.9h1.1v1.1h-1.1zM352.3 268.5h1.1v1.1h-1.1zM314.6 285.2h1.1v1.1h-1.1zM308.6 282.7h1.1v1.1h-1.1zM325.3 266.3h1.1v1.1h-1.1zM326.9 285.9h1.1v1.1h-1.1zM339.9 268.3h1.1v1.1h-1.1zM304.7 284.8h1.1v1.1h-1.1zM345.1 285.1h1.1v1.1h-1.1zM335.7 276.7h1.1v1.1h-1.1zM308.0 281.4h1.1v1.1h-1.1zM328.3 282.7h1.1v1.1h-1.1zM309.7 285.4h1.1v1.1h-1.1zM332.0 266.0h1.1v1.1h-1.1zM316.0 280.4h1.1v1.1h-1.1zM304.8 294.3h1.1v1.1h-1.1zM354.5 268.7h1.1v1.1h-1.1zM324.0 275.2h1.1v1.1h-1.1zM433.3 256.2h1.1v1.1h-1.1zM347.0 281.4h1.1v1.1h-1.1zM313.4 286.4h1.1v1.1h-1.1zM315.9 277.8h1.1v1.1h-1.1zM325.3 269.9h1.1v1.1h-1.1zM349.8 289.7h1.1v1.1h-1.1zM325.2 278.7h1.1v1.1h-1.1zM364.8 279.4h1.1v1.1h-1.1zM341.3 287.9h1.1v1.1h-1.1zM301.6 293.2h1.1v1.1h-1.1zM442.9 273.3h1.1v1.1h-1.1zM391.2 270.9h1.1v1.1h-1.1zM324.1 281.8h1.1v1.1h-1.1zM426.4 263.1h1.1v1.1h-1.1zM392.9 266.9h1.1v1.1h-1.1zM319.3 281.9h1.1v1.1h-1.1zM335.9 275.0h1.1v1.1h-1.1zM322.5 275.5h1.1v1.1h-1.1zM309.8 285.7h1.1v1.1h-1.1zM297.7 282.6h1.1v1.1h-1.1zM322.9 283.6h1.1v1.1h-1.1zM327.0 286.9h1.1v1.1h-1.1zM409.4 267.3h1.1v1.1h-1.1zM324.2 278.2h1.1v1.1h-1.1zM335.0 272.4h1.1v1.1h-1.1zM333.7 281.3h1.1v1.1h-1.1zM335.7 267.3h1.1v1.1h-1.1zM305.3 284.3h1.1v1.1h-1.1zM335.4 274.4h1.1v1.1h-1.1zM347.8 273.0h1.1v1.1h-1.1zM335.1 282.0h1.1v1.1h-1.1zM304.4 285.6h1.1v1.1h-1.1zM315.5 289.9h1.1v1.1h-1.1zM307.8 287.2h1.1v1.1h-1.1zM305.1 286.5h1.1v1.1h-1.1zM330.5 276.6h1.1v1.1h-1.1zM344.3 279.3h1.1v1.1h-1.1zM321.7 273.1h1.1v1.1h-1.1zM325.6 283.3h1.1v1.1h-1.1zM322.4 278.9h1.1v1.1h-1.1zM399.4 269.6h1.1v1.1h-1.1zM309.1 276.3h1.1v1.1h-1.1zM317.0 283.0h1.1v1.1h-1.1zM345.0 277.2h1.1v1.1h-1.1zM331.1 270.5h1.1v1.1h-1.1zM310.7 286.5h1.1v1.1h-1.1zM309.7 276.5h1.1v1.1h-1.1zM319.4 282.4h1.1v1.1h-1.1zM337.6 284.5h1.1v1.1h-1.1zM316.5 279.3h1.1v1.1h-1.1zM324.9 278.4h1.1v1.1h-1.1zM322.3 281.4h1.1v1.1h-1.1zM314.4 282.4h1.1v1.1h-1.1zM448.9 278.7h1.1v1.1h-1.1zM308.6 277.6h1.1v1.1h-1.1zM318.2 279.1h1.1v1.1h-1.1zM422.0 264.2h1.1v1.1h-1.1zM307.0 290.8h1.1v1.1h-1.1zM373.4 268.5h1.1v1.1h-1.1zM324.4 266.6h1.1v1.1h-1.1zM325.6 290.5h1.1v1.1h-1.1zM304.6 278.1h1.1v1.1h-1.1zM310.2 295.3h1.1v1.1h-1.1zM307.0 287.2h1.1v1.1h-1.1zM325.1 284.8h1.1v1.1h-1.1zM326.4 290.2h1.1v1.1h-1.1zM315.5 275.7h1.1v1.1h-1.1zM325.5 281.6h1.1v1.1h-1.1zM312.4 288.2h1.1v1.1h-1.1zM347.8 282.8h1.1v1.1h-1.1zM312.4 283.2h1.1v1.1h-1.1zM405.1 267.3h1.1v1.1h-1.1zM319.9 278.8h1.1v1.1h-1.1zM325.5 286.4h1.1v1.1h-1.1zM309.5 290.1h1.1v1.1h-1.1zM337.3 277.8h1.1v1.1h-1.1zM332.9 282.1h1.1v1.1h-1.1zM307.4 284.2h1.1v1.1h-1.1zM391.8 269.8h1.1v1.1h-1.1zM384.7 276.6h1.1v1.1h-1.1zM297.4 306.8h1.1v1.1h-1.1zM314.0 281.3h1.1v1.1h-1.1zM348.2 281.7h1.1v1.1h-1.1zM328.0 279.7h1.1v1.1h-1.1zM345.6 278.5h1.1v1.1h-1.1zM401.2 277.8h1.1v1.1h-1.1zM316.6 276.8h1.1v1.1h-1.1zM319.1 286.3h1.1v1.1h-1.1zM338.1 272.2h1.1v1.1h-1.1zM368.4 266.8h1.1v1.1h-1.1zM313.0 284.8h1.1v1.1h-1.1zM342.5 272.6h1.1v1.1h-1.1zM384.9 272.0h1.1v1.1h-1.1zM306.5 294.5h1.1v1.1h-1.1zM356.5 277.0h1.1v1.1h-1.1zM341.9 272.4h1.1v1.1h-1.1zM318.2 272.7h1.1v1.1h-1.1zM324.7 284.5h1.1v1.1h-1.1zM344.5 288.1h1.1v1.1h-1.1zM312.0 295.7h1.1v1.1h-1.1zM307.3 282.6h1.1v1.1h-1.1zM303.8 284.8h1.1v1.1h-1.1zM300.8 292.7h1.1v1.1h-1.1zM346.3 280.0h1.1v1.1h-1.1zM337.6 276.0h1.1v1.1h-1.1zM321.2 274.3h1.1v1.1h-1.1zM306.8 285.9h1.1v1.1h-1.1zM340.3 273.6h1.1v1.1h-1.1zM333.2 284.1h1.1v1.1h-1.1zM310.8 288.4h1.1v1.1h-1.1z" fill="#111"/>
<path d="M43.08 283.34 L44.39 282.46 L45.71 281.58 L47.02 280.70 L48.34 279.82 L49.65 279.15 L50.97 278.53 L52.28 277.91 L53.60 277.29 L54.91 276.83 L56.23 276.48 L57.54 276.13 L58.86 275.77 L60.17 275.42 L61.49 275.07 L62.80 274.72 L64.12 274.36 L65.43 274.03 L66.75 273.81 L68.06 273.59 L69.38 273.37 L70.69 273.15 L72.01 272.93 L73.32 272.71 L74.64 272.49 L75.95 272.27 L77.27 272.11 L78.58 271.98 L79.90 271.85 L81.21 271.72 L82.53 271.59 L83.84 271.45 L85.16 271.32 L86.48 271.19 L87.79 271.05 L89.11 270.90 L90.42 270.74 L91.74 270.59 L93.05 270.43 L94.37 270.28 L95.68 270.13 L97.00 269.97 L98.31 269.82 L99.63 269.66 L100.94 269.51 L102.26 269.35 L103.57 269.20 L104.89 269.05 L106.20 268.89 L107.52 268.74 L108.83 268.58 L110.15 268.44 L111.46 268.31 L112.78 268.18 L114.09 268.04 L115.41 267.91 L116.72 267.78 L118.04 267.65 L119.35 267.51 L120.67 267.38 L121.98 267.25 L123.30 267.12 L124.61 266.99 L125.93 266.85 L127.24 266.72 L128.56 266.59 L129.88 266.46 L131.19 266.32 L132.51 266.19 L133.82 266.06 L135.14 265.93 L136.45 265.80 L137.77 265.66 L139.08 265.53 L140.40 265.40 L141.71 265.27 L143.03 265.14 L144.34 265.00 L145.66 264.87 L146.97 264.74 L148.29 264.61 L149.60 264.47 L150.92 264.34 L152.23 264.21 L153.55 264.08 L154.86 263.96 L156.18 263.85 L157.49 263.74 L158.81 263.63 L160.12 263.52 L161.44 263.41 L162.75 263.30 L164.07 263.19 L165.38 263.08 L166.70 262.97 L168.01 262.86 L169.33 262.75 L170.65 262.64 L171.96 262.53 L173.28 262.42 L174.59 262.31 L175.91 262.20 L177.22 262.11 L178.54 262.02 L179.85 261.94 L181.17 261.85 L182.48 261.76 L183.80 261.67 L185.11 261.58 L186.43 261.49 L187.74 261.41 L189.06 261.32 L190.37 261.23 L191.69 261.14 L193.00 261.05 L194.32 260.97 L195.63 260.88 L196.95 260.79 L198.26 260.70 L199.58 260.64 L200.89 260.57 L202.21 260.51 L203.52 260.44 L204.84 260.37 L206.15 260.31 L207.47 260.24 L208.78 260.18 L210.10 260.11 L211.41 260.04 L212.73 259.98 L214.05 259.91 L215.36 259.84 L216.68 259.78 L217.99 259.71 L219.31 259.65 L220.62 259.58 L221.94 259.52 L223.25 259.47 L224.57 259.41 L225.88 259.35 L227.20 259.29 L228.51 259.23 L229.83 259.17 L231.14 259.11 L232.46 259.05 L233.77 259.00 L235.09 258.94 L236.40 258.88 L237.72 258.82 L239.03 258.76 L240.35 258.70 L241.66 258.64 L242.98 258.58 L244.29 258.53 L245.61 258.47 L246.92 258.41 L248.24 258.35 L249.55 258.29 L250.87 258.23 L252.18 258.17 L253.50 258.11" fill="none" stroke="#000" stroke-width="2.20" stroke-linejoin="round"/>
<path d="M296.68 295.45 L298.02 293.70 L299.37 291.96 L300.72 290.51 L302.07 289.39 L303.42 288.26 L304.77 287.20 L306.12 286.37 L307.47 285.53 L308.82 284.69 L310.16 284.00 L311.51 283.37 L312.86 282.74 L314.21 282.11 L315.56 281.51 L316.91 281.13 L318.26 280.75 L319.61 280.38 L320.96 280.00 L322.30 279.63 L323.65 279.25 L325.00 278.88 L326.35 278.50 L327.70 278.13 L329.05 277.76 L330.40 277.42 L331.75 277.07 L333.10 276.72 L334.44 276.39 L335.79 276.14 L337.14 275.90 L338.49 275.65 L339.84 275.41 L341.19 275.16 L342.54 274.91 L343.89 274.67 L345.24 274.42 L346.58 274.17 L347.93 273.93 L349.28 273.76 L350.63 273.61 L351.98 273.46 L353.33 273.32 L354.68 273.17 L356.03 273.02 L357.38 272.88 L358.73 272.73 L360.07 272.58 L361.42 272.43 L362.77 272.29 L364.12 272.14 L365.47 271.99 L366.82 271.85 L368.17 271.70 L369.52 271.55 L370.87 271.41 L372.21 271.26 L373.56 271.11 L374.91 270.97 L376.26 270.82 L377.61 270.67 L378.96 270.53 L380.31 270.41 L381.66 270.29 L383.01 270.17 L384.35 270.05 L385.70 269.93 L387.05 269.81 L388.40 269.69 L389.75 269.57 L391.10 269.45 L392.45 269.33 L393.80 269.21 L395.15 269.09 L396.49 268.97 L397.84 268.84 L399.19 268.72 L400.54 268.60 L401.89 268.48 L403.24 268.37 L404.59 268.27 L405.94 268.18 L407.29 268.08 L408.63 267.99 L409.98 267.89 L411.33 267.80 L412.68 267.70 L414.03 267.61 L415.38 267.51 L416.73 267.42 L418.08 267.32 L419.43 267.23 L420.77 267.13 L422.12 267.04 L423.47 266.94 L424.82 266.85 L426.17 266.75 L427.52 266.66 L428.87 266.56 L430.22 266.47 L431.57 266.37 L432.91 266.28 L434.26 266.18 L435.61 266.09 L436.96 265.99 L438.31 265.90 L439.66 265.81 L441.01 265.71 L442.36 265.62 L443.71 265.52 L445.05 265.43 L446.40 265.36 L447.75 265.29 L449.10 265.22 L450.45 265.15 L451.80 265.08 L453.15 265.01 L454.50 264.94 L455.85 264.87 L457.19 264.80 L458.54 264.73 L459.89 264.66 L461.24 264.59 L462.59 264.52 L463.94 264.45 L465.29 264.38 L466.64 264.31 L467.99 264.24 L469.34 264.17 L470.68 264.10 L472.03 264.03 L473.38 263.96 L474.73 263.88 L476.08 263.81 L477.43 263.74 L478.78 263.67 L480.13 263.61 L481.48 263.55 L482.82 263.49 L484.17 263.43 L485.52 263.37 L486.87 263.31 L488.22 263.25 L489.57 263.19 L490.92 263.13 L492.27 263.07 L493.62 263.01 L494.96 262.95 L496.31 262.89 L497.66 262.83 L499.01 262.77 L500.36 262.71 L501.71 262.65 L503.06 262.59 L504.41 262.53 L505.76 262.47 L507.10 262.41 L508.45 262.35 L509.80 262.29 L511.15 262.23 L512.50 262.17" fill="none" stroke="#000" stroke-width="2.20" stroke-linejoin="round"/>
<text x="205.80" y="121.01" font-size="6.05" font-style="italic" fill="#111" stroke="#111" stroke-width="0.12">Males pre-HSCT</text>
<path d="M197.9 118.8h1.8M198.8 117.9v1.8" stroke="#b0b0b0" stroke-width="0.50" fill="none"/>
<text x="205.80" y="132.11" font-size="6.05" font-style="italic" fill="#111" stroke="#111" stroke-width="0.12">Males post-HSCT</text>
<path d="M198.2 129.3h1.2v1.2h-1.2z" fill="#111"/>
<text x="205.80" y="143.41" font-size="6.05" font-style="italic" fill="#111" stroke="#111" stroke-width="0.12">TBI</text>
<path d="M197.9 140.3h1.8v1.8h-1.8z" fill="#666"/>
<text x="205.80" y="154.61" font-size="6.05" font-style="italic" fill="#111" stroke="#111" stroke-width="0.12">Target height</text>
<path d="M197.9 151.5h1.8v1.8h-1.8z" fill="#666"/>
<text x="462.30" y="120.21" font-size="6.05" font-style="italic" fill="#111" stroke="#111" stroke-width="0.12">Females pre-HSCT</text>
<path d="M454.5 118.0h1.8M455.4 117.1v1.8" stroke="#b0b0b0" stroke-width="0.50" fill="none"/>
<text x="462.30" y="130.21" font-size="6.05" font-style="italic" fill="#111" stroke="#111" stroke-width="0.12">Females post-HSCT</text>
<path d="M454.8 127.4h1.2v1.2h-1.2z" fill="#111"/>
<text x="462.30" y="140.71" font-size="6.05" font-style="italic" fill="#111" stroke="#111" stroke-width="0.12">TBI</text>
<path d="M454.5 137.6h1.8v1.8h-1.8z" fill="#666"/>
<text x="462.30" y="151.01" font-size="6.05" font-style="italic" fill="#111" stroke="#111" stroke-width="0.12">Target height</text>
<path d="M454.5 147.9h1.8v1.8h-1.8z" fill="#666"/>
<text x="206.00" y="337.21" font-size="6.05" font-style="italic" fill="#111" stroke="#111" stroke-width="0.12">Males pre-HSCT</text>
<path d="M197.6 335.0h1.8M198.5 334.1v1.8" stroke="#b0b0b0" stroke-width="0.50" fill="none"/>
<text x="206.00" y="349.91" font-size="6.05" font-style="italic" fill="#111" stroke="#111" stroke-width="0.12">Males post-HSCT</text>
<path d="M197.9 347.1h1.2v1.2h-1.2z" fill="#111"/>
<text x="463.80" y="337.21" font-size="6.05" font-style="italic" fill="#111" stroke="#111" stroke-width="0.12">Females pre-HSCT</text>
<path d="M456.1 335.0h1.8M457.0 334.1v1.8" stroke="#b0b0b0" stroke-width="0.50" fill="none"/>
<text x="463.80" y="348.71" font-size="6.05" font-style="italic" fill="#111" stroke="#111" stroke-width="0.12">Females post-HSCT</text>
<path d="M456.4 345.9h1.2v1.2h-1.2z" fill="#111"/>
<text x="40.3" y="510.6" font-size="7.3" font-style="italic" fill="#111" stroke="#111" stroke-width="0.3">P&lt;.001</text>
<path d="M37.4 520.2H45.5" stroke="#111" stroke-width="1.7"/>
<path d="M37.4 529.8H45.5" stroke="#666" stroke-width="1.7"/>
<text x="48.80" y="522.48" font-size="6.25" font-style="italic" fill="#111" stroke="#111" stroke-width="0.12">IDUA &gt;lower reference</text>
<text x="48.80" y="532.58" font-size="6.25" font-style="italic" fill="#111" stroke="#111" stroke-width="0.12">IDUA &lt;lower reference</text>
<text x="302.0" y="510.4" font-size="7.3" font-style="italic" fill="#111" stroke="#111" stroke-width="0.3">P&lt;.001</text>
<path d="M300 519.5H307.5" stroke="#111" stroke-width="1.7"/>
<path d="M300 529.8H307.5" stroke="#666" stroke-width="1.7"/>
<text x="311.20" y="522.24" font-size="6.15" font-style="italic" fill="#111" stroke="#111" stroke-width="0.12">Pre-HSCT growth &gt;-2SD</text>
<text x="311.20" y="532.34" font-size="6.15" font-style="italic" fill="#111" stroke="#111" stroke-width="0.12">Pre-HSCT growth &lt;-2SD</text>
<path d="M132.4 90.6h2.0v2.0h-2.0zM152.5 90.6h2.0v2.0h-2.0zM164.1 91.3h2.0v2.0h-2.0zM174.7 90.6h2.0v2.0h-2.0zM181.0 91.3h2.0v2.0h-2.0zM131.3 99.7h2.0v2.0h-2.0zM151.4 98.0h2.0v2.0h-2.0zM122.8 96.0h2.0v2.0h-2.0zM116.5 96.0h2.0v2.0h-2.0zM110.2 97.0h2.0v2.0h-2.0zM104.9 97.0h2.0v2.0h-2.0zM99.6 98.0h2.0v2.0h-2.0zM114.4 101.2h2.0v2.0h-2.0zM97.5 102.3h2.0v2.0h-2.0zM107.0 105.4h2.0v2.0h-2.0zM237.8 72.7h2.0v2.0h-2.0zM209.0 73.0h2.0v2.0h-2.0zM199.0 52.0h2.0v2.0h-2.0zM227.0 46.0h2.0v2.0h-2.0z" fill="#666"/>
<path d="M232.3 18.3V35.3M232.3 39.4V42.4" stroke="#555" stroke-width="1.4"/>
<path d="M487.4 33.1V47.5" stroke="#555" stroke-width="1.4"/>
<path d="M86.1 455.9 L239.2 490.2" stroke="#111" stroke-width="1.8"/>
<path d="M86.1 455.0 L239.2 516.4" stroke="#555" stroke-width="1.6"/>
<path d="M347.9 447.1 L500.8 512.3" stroke="#111" stroke-width="1.8"/>
<path d="M347.9 464.8 L443.2 535.1" stroke="#555" stroke-width="1.6"/>
</svg></body></html>
